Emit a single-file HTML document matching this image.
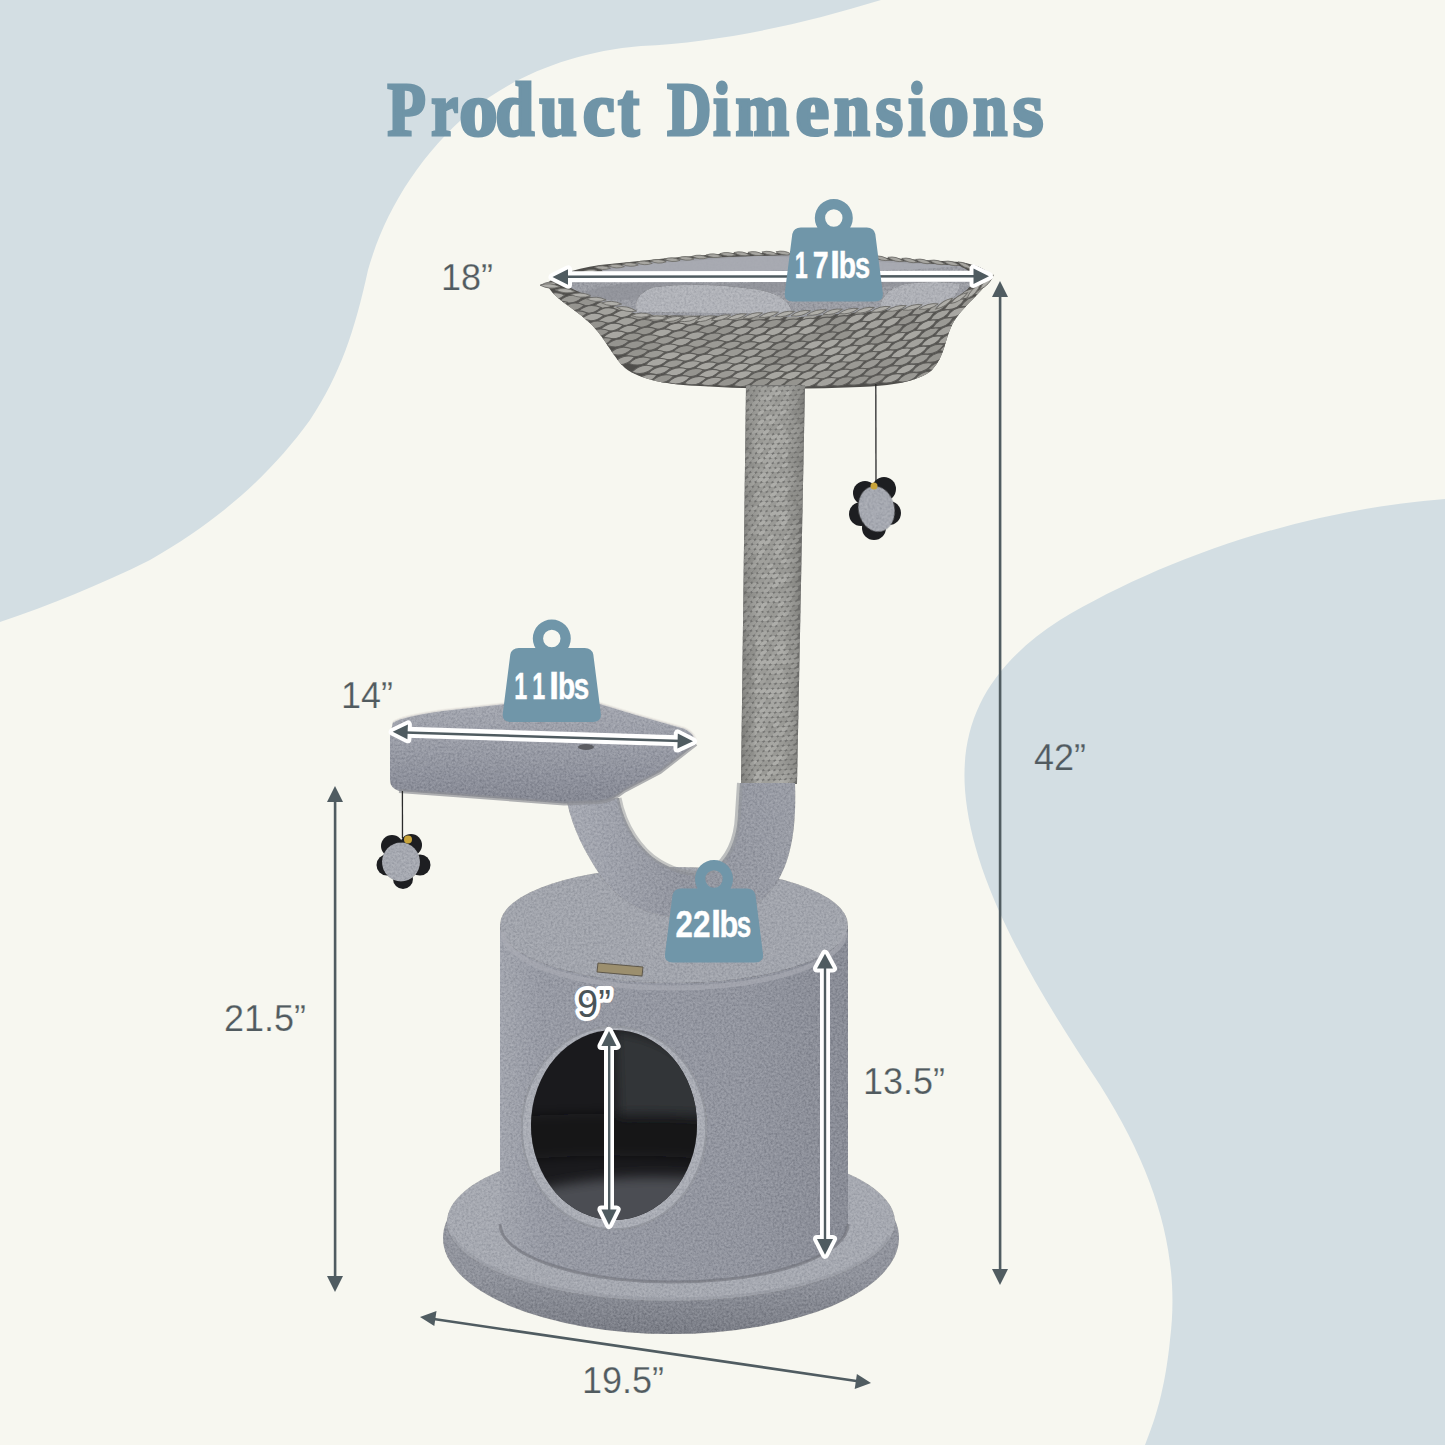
<!DOCTYPE html>
<html><head><meta charset="utf-8">
<style>
html,body{margin:0;padding:0;background:#f7f7f0;}
body{width:1445px;height:1445px;overflow:hidden;position:relative;}
svg{position:absolute;left:0;top:0;display:block;}
.dim{font-family:"Liberation Sans",sans-serif;font-size:36px;fill:#515b5f;stroke:#f7f7f0;stroke-width:0.25px;}
.wt{font-family:"Liberation Sans",sans-serif;font-weight:bold;font-size:36.5px;fill:#fff;stroke:#fff;stroke-width:0.4px;}
</style></head>
<body>
<svg width="1445" height="1445" viewBox="0 0 1445 1445">
<defs>
  <pattern id="weave" width="22" height="17" patternUnits="userSpaceOnUse" patternTransform="rotate(-3)">
    <rect width="22" height="17" fill="#63625f"/>
    <path d="M-1,6.5 Q9,-0.5 22,2.5 Q12,9 -1,6.5 Z" fill="#a9a8a3" stroke="#84837f" stroke-width="0.8"/>
    <path d="M-12,15 Q-2,8 11,11 Q1,17.5 -12,15 Z" fill="#a3a29d" stroke="#84837f" stroke-width="0.8"/>
    <path d="M10,15 Q20,8 33,11 Q23,17.5 10,15 Z" fill="#a3a29d" stroke="#84837f" stroke-width="0.8"/>
  </pattern>
  <pattern id="rope" width="8" height="5" patternUnits="userSpaceOnUse" patternTransform="rotate(-6)">
    <rect width="8" height="5" fill="#8e8e8b"/>
    <path d="M0,1.2 Q4,0 8,1.2 L8,3.4 Q4,2.2 0,3.4 Z" fill="#a7a7a3"/>
    <path d="M0,4.3 L8,4.3" stroke="#6f6f6c" stroke-width="0.9"/>
  </pattern>
  <filter id="plush" x="0" y="0" width="100%" height="100%" color-interpolation-filters="sRGB">
    <feTurbulence type="fractalNoise" baseFrequency="0.45" numOctaves="3" seed="5" result="n"/>
    <feColorMatrix in="n" type="matrix" values="0.45 0 0 0 0.275  0.45 0 0 0 0.275  0.45 0 0 0 0.275  0 0 0 0 1" result="g"/>
    <feBlend in="g" in2="SourceGraphic" mode="soft-light" result="b"/>
    <feComposite in="b" in2="SourceGraphic" operator="in"/>
  </filter>
  <linearGradient id="cylSide" x1="0" x2="1" y1="0" y2="0">
    <stop offset="0" stop-color="#a2a5ae"/>
    <stop offset="0.12" stop-color="#979aa4"/>
    <stop offset="0.7" stop-color="#92959f"/>
    <stop offset="1" stop-color="#898c96"/>
  </linearGradient>
  <linearGradient id="baseSide" x1="0" x2="0" y1="0" y2="1">
    <stop offset="0" stop-color="#9a9da6"/>
    <stop offset="0.7" stop-color="#90939c"/>
    <stop offset="1" stop-color="#7a7d86"/>
  </linearGradient>
  <linearGradient id="platG" x1="0" x2="0" y1="0" y2="1">
    <stop offset="0" stop-color="#a4a7b0"/>
    <stop offset="0.4" stop-color="#9a9da7"/>
    <stop offset="0.8" stop-color="#8c8f9a"/>
    <stop offset="1" stop-color="#858893"/>
  </linearGradient>
  <linearGradient id="ropeShadeL" x1="0" x2="1" y1="0" y2="0"><stop offset="0" stop-color="#5f5f5c" stop-opacity="0.45"/><stop offset="1" stop-color="#5f5f5c" stop-opacity="0"/></linearGradient>
  <linearGradient id="ropeShadeR" x1="0" x2="1" y1="0" y2="0"><stop offset="0" stop-color="#5f5f5c" stop-opacity="0"/><stop offset="1" stop-color="#5f5f5c" stop-opacity="0.45"/></linearGradient>
  <linearGradient id="stemG" x1="0" x2="1" y1="0" y2="0">
    <stop offset="0" stop-color="#a7aab3"/>
    <stop offset="0.5" stop-color="#92959f"/>
    <stop offset="1" stop-color="#9a9da6"/>
  </linearGradient>
  <radialGradient id="holeG" cx="0.55" cy="0.35" r="0.7">
    <stop offset="0" stop-color="#4a4b50"/>
    <stop offset="0.6" stop-color="#2c2d31"/>
    <stop offset="1" stop-color="#1f2024"/>
  </radialGradient>

  <path id="wshape" d="M19,0 A19,19 0 1 1 -19,0 A19,19 0 1 1 19,0 Z M8.7,0 A8.7,8.7 0 1 0 -8.7,0 A8.7,8.7 0 1 0 8.7,0 Z M-33,9.5 L33,9.5 Q40,9.5 41.5,16 L49,75 Q50,83.5 41,83.5 L-41,83.5 Q-50,83.5 -49,75 L-41.5,16 Q-40,9.5 -33,9.5 Z"/>
</defs>
<rect width="1445" height="1445" fill="#f7f7f0"/>
<!-- blobs -->
<path fill="#d3dee3" d="M0,0 L881,0 C800,25 720,42 641,46 C570,52 510,78 470,112 C420,155 385,210 368,270 C355,330 340,375 310,420 C270,475 220,520 150,560 C100,585 50,605 0,622 Z"/>
<path fill="#d3dee3" d="M1445,499 C1300,510 1160,560 1060,620 C990,665 960,720 965,790 C972,880 1030,980 1100,1085 C1160,1180 1180,1260 1170,1340 C1165,1390 1155,1420 1145,1445 L1445,1445 Z"/>
<!-- title -->
<g font-family="Liberation Serif" font-weight="bold" font-size="76" fill="#6f94a7" stroke="#6f94a7" stroke-width="3.2"><text transform="translate(387.41,135) scale(0.824,1)">P</text><text transform="translate(431.31,135) scale(0.797,1)">r</text><text transform="translate(459.17,135) scale(1.009,1)">o</text><text transform="translate(495.13,135) scale(0.922,1)">d</text><text transform="translate(539.53,135) scale(0.883,1)">u</text><text transform="translate(582.63,135) scale(0.949,1)">c</text><text transform="translate(617.99,135) scale(0.840,1)">t</text><text transform="translate(667.26,135) scale(0.804,1)">D</text><text transform="translate(713.37,135) scale(0.800,1)">i</text><text transform="translate(735.51,135) scale(0.845,1)">m</text><text transform="translate(795.41,135) scale(0.997,1)">e</text><text transform="translate(833.90,135) scale(0.849,1)">n</text><text transform="translate(875.45,135) scale(0.933,1)">s</text><text transform="translate(908.32,135) scale(0.800,1)">i</text><text transform="translate(928.62,135) scale(1.065,1)">o</text><text transform="translate(972.98,135) scale(0.811,1)">n</text><text transform="translate(1012.81,135) scale(1.039,1)">s</text></g>

<g id="tree">
  <!-- basket -->
  <clipPath id="bclip"><path d="M547,284 Q556,272 600,265 L669,258 L731,253 L800,253 L960,262 Q985,266 991,276 C984,292 962,306 952,325 C944,342 945,356 932,370 C918,382 890,386 860,387 Q780,391 700,386 C670,385 640,380 625,368 C612,356 608,342 592,325 C575,308 552,298 547,284 Z"/></clipPath>
  <path d="M547,284 Q556,272 600,265 L669,258 L731,253 L800,253 L960,262 Q985,266 991,276 C984,292 962,306 952,325 C944,342 945,356 932,370 C918,382 890,386 860,387 Q780,391 700,386 C670,385 640,380 625,368 C612,356 608,342 592,325 C575,308 552,298 547,284 Z" fill="#4e4d4a"/>
  <g clip-path="url(#bclip)">
  <path transform="translate(553.6,296.6) rotate(-8.2)" d="M-11.5,0 Q0,-7.5 11.5,0 Q0,7.5 -11.5,0 Z" fill="#a8a7a2" stroke="#5c5b58" stroke-width="1.1"/>
<path transform="translate(570.9,299.2) rotate(-8.3)" d="M-11.5,0 Q0,-7.5 11.5,0 Q0,7.5 -11.5,0 Z" fill="#9b9a95" stroke="#5c5b58" stroke-width="1.1"/>
<path transform="translate(588.1,301.8) rotate(-8.6)" d="M-11.5,0 Q0,-7.5 11.5,0 Q0,7.5 -11.5,0 Z" fill="#95948f" stroke="#5c5b58" stroke-width="1.1"/>
<path transform="translate(605.4,304.3) rotate(-8.9)" d="M-11.5,0 Q0,-7.5 11.5,0 Q0,7.5 -11.5,0 Z" fill="#a3a29d" stroke="#5c5b58" stroke-width="1.1"/>
<path transform="translate(622.6,306.7) rotate(-9.5)" d="M-11.5,0 Q0,-7.5 11.5,0 Q0,7.5 -11.5,0 Z" fill="#a3a29d" stroke="#5c5b58" stroke-width="1.1"/>
<path transform="translate(639.9,308.9) rotate(-10.1)" d="M-11.5,0 Q0,-7.5 11.5,0 Q0,7.5 -11.5,0 Z" fill="#a3a29d" stroke="#5c5b58" stroke-width="1.1"/>
<path transform="translate(657.2,310.9) rotate(-10.9)" d="M-11.5,0 Q0,-7.5 11.5,0 Q0,7.5 -11.5,0 Z" fill="#a8a7a2" stroke="#5c5b58" stroke-width="1.1"/>
<path transform="translate(674.4,312.7) rotate(-11.8)" d="M-11.5,0 Q0,-7.5 11.5,0 Q0,7.5 -11.5,0 Z" fill="#a3a29d" stroke="#5c5b58" stroke-width="1.1"/>
<path transform="translate(691.7,314.1) rotate(-12.8)" d="M-11.5,0 Q0,-7.5 11.5,0 Q0,7.5 -11.5,0 Z" fill="#9b9a95" stroke="#5c5b58" stroke-width="1.1"/>
<path transform="translate(708.9,315.3) rotate(-13.8)" d="M-11.5,0 Q0,-7.5 11.5,0 Q0,7.5 -11.5,0 Z" fill="#a3a29d" stroke="#5c5b58" stroke-width="1.1"/>
<path transform="translate(726.2,316.1) rotate(-15.0)" d="M-11.5,0 Q0,-7.5 11.5,0 Q0,7.5 -11.5,0 Z" fill="#a3a29d" stroke="#5c5b58" stroke-width="1.1"/>
<path transform="translate(743.5,316.6) rotate(-16.1)" d="M-11.5,0 Q0,-7.5 11.5,0 Q0,7.5 -11.5,0 Z" fill="#95948f" stroke="#5c5b58" stroke-width="1.1"/>
<path transform="translate(760.7,316.7) rotate(-17.3)" d="M-11.5,0 Q0,-7.5 11.5,0 Q0,7.5 -11.5,0 Z" fill="#95948f" stroke="#5c5b58" stroke-width="1.1"/>
<path transform="translate(778.0,316.5) rotate(-18.5)" d="M-11.5,0 Q0,-7.5 11.5,0 Q0,7.5 -11.5,0 Z" fill="#a3a29d" stroke="#5c5b58" stroke-width="1.1"/>
<path transform="translate(795.2,315.9) rotate(-19.7)" d="M-11.5,0 Q0,-7.5 11.5,0 Q0,7.5 -11.5,0 Z" fill="#9b9a95" stroke="#5c5b58" stroke-width="1.1"/>
<path transform="translate(812.5,315.0) rotate(-20.9)" d="M-11.5,0 Q0,-7.5 11.5,0 Q0,7.5 -11.5,0 Z" fill="#a3a29d" stroke="#5c5b58" stroke-width="1.1"/>
<path transform="translate(829.8,313.7) rotate(-22.0)" d="M-11.5,0 Q0,-7.5 11.5,0 Q0,7.5 -11.5,0 Z" fill="#95948f" stroke="#5c5b58" stroke-width="1.1"/>
<path transform="translate(847.0,312.0) rotate(-23.0)" d="M-11.5,0 Q0,-7.5 11.5,0 Q0,7.5 -11.5,0 Z" fill="#a3a29d" stroke="#5c5b58" stroke-width="1.1"/>
<path transform="translate(864.3,310.1) rotate(-24.0)" d="M-11.5,0 Q0,-7.5 11.5,0 Q0,7.5 -11.5,0 Z" fill="#a3a29d" stroke="#5c5b58" stroke-width="1.1"/>
<path transform="translate(881.5,307.9) rotate(-24.8)" d="M-11.5,0 Q0,-7.5 11.5,0 Q0,7.5 -11.5,0 Z" fill="#9b9a95" stroke="#5c5b58" stroke-width="1.1"/>
<path transform="translate(898.8,305.4) rotate(-25.6)" d="M-11.5,0 Q0,-7.5 11.5,0 Q0,7.5 -11.5,0 Z" fill="#a3a29d" stroke="#5c5b58" stroke-width="1.1"/>
<path transform="translate(916.1,302.7) rotate(-26.2)" d="M-11.5,0 Q0,-7.5 11.5,0 Q0,7.5 -11.5,0 Z" fill="#95948f" stroke="#5c5b58" stroke-width="1.1"/>
<path transform="translate(933.3,299.9) rotate(-26.7)" d="M-11.5,0 Q0,-7.5 11.5,0 Q0,7.5 -11.5,0 Z" fill="#a3a29d" stroke="#5c5b58" stroke-width="1.1"/>
<path transform="translate(950.6,296.9) rotate(-27.0)" d="M-11.5,0 Q0,-7.5 11.5,0 Q0,7.5 -11.5,0 Z" fill="#9b9a95" stroke="#5c5b58" stroke-width="1.1"/>
<path transform="translate(967.8,293.8) rotate(-27.2)" d="M-11.5,0 Q0,-7.5 11.5,0 Q0,7.5 -11.5,0 Z" fill="#a3a29d" stroke="#5c5b58" stroke-width="1.1"/>
<path transform="translate(985.1,290.7) rotate(-17.8)" d="M-11.5,0 Q0,-7.5 11.5,0 Q0,7.5 -11.5,0 Z" fill="#9b9a95" stroke="#5c5b58" stroke-width="1.1"/>
<path transform="translate(556.5,305.8) rotate(-17.8)" d="M-11.5,0 Q0,-7.5 11.5,0 Q0,7.5 -11.5,0 Z" fill="#a8a7a2" stroke="#5c5b58" stroke-width="1.1"/>
<path transform="translate(573.1,306.9) rotate(-8.7)" d="M-11.5,0 Q0,-7.5 11.5,0 Q0,7.5 -11.5,0 Z" fill="#95948f" stroke="#5c5b58" stroke-width="1.1"/>
<path transform="translate(589.7,309.3) rotate(-8.8)" d="M-11.5,0 Q0,-7.5 11.5,0 Q0,7.5 -11.5,0 Z" fill="#9b9a95" stroke="#5c5b58" stroke-width="1.1"/>
<path transform="translate(606.2,311.6) rotate(-9.1)" d="M-11.5,0 Q0,-7.5 11.5,0 Q0,7.5 -11.5,0 Z" fill="#a3a29d" stroke="#5c5b58" stroke-width="1.1"/>
<path transform="translate(622.8,313.9) rotate(-9.6)" d="M-11.5,0 Q0,-7.5 11.5,0 Q0,7.5 -11.5,0 Z" fill="#a8a7a2" stroke="#5c5b58" stroke-width="1.1"/>
<path transform="translate(639.4,316.0) rotate(-10.1)" d="M-11.5,0 Q0,-7.5 11.5,0 Q0,7.5 -11.5,0 Z" fill="#9b9a95" stroke="#5c5b58" stroke-width="1.1"/>
<path transform="translate(656.0,317.9) rotate(-10.8)" d="M-11.5,0 Q0,-7.5 11.5,0 Q0,7.5 -11.5,0 Z" fill="#a3a29d" stroke="#5c5b58" stroke-width="1.1"/>
<path transform="translate(672.6,319.6) rotate(-11.6)" d="M-11.5,0 Q0,-7.5 11.5,0 Q0,7.5 -11.5,0 Z" fill="#9b9a95" stroke="#5c5b58" stroke-width="1.1"/>
<path transform="translate(689.1,321.1) rotate(-12.5)" d="M-11.5,0 Q0,-7.5 11.5,0 Q0,7.5 -11.5,0 Z" fill="#a8a7a2" stroke="#5c5b58" stroke-width="1.1"/>
<path transform="translate(705.7,322.3) rotate(-13.5)" d="M-11.5,0 Q0,-7.5 11.5,0 Q0,7.5 -11.5,0 Z" fill="#a3a29d" stroke="#5c5b58" stroke-width="1.1"/>
<path transform="translate(722.3,323.2) rotate(-14.5)" d="M-11.5,0 Q0,-7.5 11.5,0 Q0,7.5 -11.5,0 Z" fill="#a3a29d" stroke="#5c5b58" stroke-width="1.1"/>
<path transform="translate(738.9,323.8) rotate(-15.6)" d="M-11.5,0 Q0,-7.5 11.5,0 Q0,7.5 -11.5,0 Z" fill="#a3a29d" stroke="#5c5b58" stroke-width="1.1"/>
<path transform="translate(755.5,324.1) rotate(-16.8)" d="M-11.5,0 Q0,-7.5 11.5,0 Q0,7.5 -11.5,0 Z" fill="#9b9a95" stroke="#5c5b58" stroke-width="1.1"/>
<path transform="translate(772.0,324.0) rotate(-17.9)" d="M-11.5,0 Q0,-7.5 11.5,0 Q0,7.5 -11.5,0 Z" fill="#95948f" stroke="#5c5b58" stroke-width="1.1"/>
<path transform="translate(788.6,323.6) rotate(-19.1)" d="M-11.5,0 Q0,-7.5 11.5,0 Q0,7.5 -11.5,0 Z" fill="#95948f" stroke="#5c5b58" stroke-width="1.1"/>
<path transform="translate(805.2,322.9) rotate(-20.2)" d="M-11.5,0 Q0,-7.5 11.5,0 Q0,7.5 -11.5,0 Z" fill="#a8a7a2" stroke="#5c5b58" stroke-width="1.1"/>
<path transform="translate(821.8,321.9) rotate(-21.3)" d="M-11.5,0 Q0,-7.5 11.5,0 Q0,7.5 -11.5,0 Z" fill="#95948f" stroke="#5c5b58" stroke-width="1.1"/>
<path transform="translate(838.4,320.5) rotate(-22.3)" d="M-11.5,0 Q0,-7.5 11.5,0 Q0,7.5 -11.5,0 Z" fill="#95948f" stroke="#5c5b58" stroke-width="1.1"/>
<path transform="translate(854.9,318.9) rotate(-23.3)" d="M-11.5,0 Q0,-7.5 11.5,0 Q0,7.5 -11.5,0 Z" fill="#a8a7a2" stroke="#5c5b58" stroke-width="1.1"/>
<path transform="translate(871.5,317.0) rotate(-24.1)" d="M-11.5,0 Q0,-7.5 11.5,0 Q0,7.5 -11.5,0 Z" fill="#a8a7a2" stroke="#5c5b58" stroke-width="1.1"/>
<path transform="translate(888.1,314.8) rotate(-24.9)" d="M-11.5,0 Q0,-7.5 11.5,0 Q0,7.5 -11.5,0 Z" fill="#9b9a95" stroke="#5c5b58" stroke-width="1.1"/>
<path transform="translate(904.7,312.4) rotate(-25.5)" d="M-11.5,0 Q0,-7.5 11.5,0 Q0,7.5 -11.5,0 Z" fill="#9b9a95" stroke="#5c5b58" stroke-width="1.1"/>
<path transform="translate(921.3,309.9) rotate(-26.1)" d="M-11.5,0 Q0,-7.5 11.5,0 Q0,7.5 -11.5,0 Z" fill="#9b9a95" stroke="#5c5b58" stroke-width="1.1"/>
<path transform="translate(937.8,307.2) rotate(-26.5)" d="M-11.5,0 Q0,-7.5 11.5,0 Q0,7.5 -11.5,0 Z" fill="#a3a29d" stroke="#5c5b58" stroke-width="1.1"/>
<path transform="translate(954.4,304.4) rotate(-26.7)" d="M-11.5,0 Q0,-7.5 11.5,0 Q0,7.5 -11.5,0 Z" fill="#a8a7a2" stroke="#5c5b58" stroke-width="1.1"/>
<path transform="translate(971.0,301.5) rotate(-26.8)" d="M-11.5,0 Q0,-7.5 11.5,0 Q0,7.5 -11.5,0 Z" fill="#95948f" stroke="#5c5b58" stroke-width="1.1"/>
<path transform="translate(987.6,300.0) rotate(-17.8)" d="M-11.5,0 Q0,-7.5 11.5,0 Q0,7.5 -11.5,0 Z" fill="#a8a7a2" stroke="#5c5b58" stroke-width="1.1"/>
<path transform="translate(576.0,314.8) rotate(-9.1)" d="M-11.5,0 Q0,-7.5 11.5,0 Q0,7.5 -11.5,0 Z" fill="#95948f" stroke="#5c5b58" stroke-width="1.1"/>
<path transform="translate(592.6,317.0) rotate(-9.2)" d="M-11.5,0 Q0,-7.5 11.5,0 Q0,7.5 -11.5,0 Z" fill="#a8a7a2" stroke="#5c5b58" stroke-width="1.1"/>
<path transform="translate(609.1,319.3) rotate(-9.4)" d="M-11.5,0 Q0,-7.5 11.5,0 Q0,7.5 -11.5,0 Z" fill="#a3a29d" stroke="#5c5b58" stroke-width="1.1"/>
<path transform="translate(625.7,321.5) rotate(-9.8)" d="M-11.5,0 Q0,-7.5 11.5,0 Q0,7.5 -11.5,0 Z" fill="#a3a29d" stroke="#5c5b58" stroke-width="1.1"/>
<path transform="translate(642.2,323.5) rotate(-10.3)" d="M-11.5,0 Q0,-7.5 11.5,0 Q0,7.5 -11.5,0 Z" fill="#95948f" stroke="#5c5b58" stroke-width="1.1"/>
<path transform="translate(658.8,325.4) rotate(-10.9)" d="M-11.5,0 Q0,-7.5 11.5,0 Q0,7.5 -11.5,0 Z" fill="#9b9a95" stroke="#5c5b58" stroke-width="1.1"/>
<path transform="translate(675.4,327.0) rotate(-11.7)" d="M-11.5,0 Q0,-7.5 11.5,0 Q0,7.5 -11.5,0 Z" fill="#a8a7a2" stroke="#5c5b58" stroke-width="1.1"/>
<path transform="translate(691.9,328.5) rotate(-12.6)" d="M-11.5,0 Q0,-7.5 11.5,0 Q0,7.5 -11.5,0 Z" fill="#9b9a95" stroke="#5c5b58" stroke-width="1.1"/>
<path transform="translate(708.5,329.7) rotate(-13.5)" d="M-11.5,0 Q0,-7.5 11.5,0 Q0,7.5 -11.5,0 Z" fill="#95948f" stroke="#5c5b58" stroke-width="1.1"/>
<path transform="translate(725.1,330.6) rotate(-14.5)" d="M-11.5,0 Q0,-7.5 11.5,0 Q0,7.5 -11.5,0 Z" fill="#95948f" stroke="#5c5b58" stroke-width="1.1"/>
<path transform="translate(741.6,331.2) rotate(-15.6)" d="M-11.5,0 Q0,-7.5 11.5,0 Q0,7.5 -11.5,0 Z" fill="#a3a29d" stroke="#5c5b58" stroke-width="1.1"/>
<path transform="translate(758.2,331.4) rotate(-16.8)" d="M-11.5,0 Q0,-7.5 11.5,0 Q0,7.5 -11.5,0 Z" fill="#a3a29d" stroke="#5c5b58" stroke-width="1.1"/>
<path transform="translate(774.8,331.4) rotate(-17.9)" d="M-11.5,0 Q0,-7.5 11.5,0 Q0,7.5 -11.5,0 Z" fill="#a8a7a2" stroke="#5c5b58" stroke-width="1.1"/>
<path transform="translate(791.3,331.0) rotate(-19.0)" d="M-11.5,0 Q0,-7.5 11.5,0 Q0,7.5 -11.5,0 Z" fill="#a8a7a2" stroke="#5c5b58" stroke-width="1.1"/>
<path transform="translate(807.9,330.3) rotate(-20.1)" d="M-11.5,0 Q0,-7.5 11.5,0 Q0,7.5 -11.5,0 Z" fill="#a8a7a2" stroke="#5c5b58" stroke-width="1.1"/>
<path transform="translate(824.4,329.3) rotate(-21.2)" d="M-11.5,0 Q0,-7.5 11.5,0 Q0,7.5 -11.5,0 Z" fill="#95948f" stroke="#5c5b58" stroke-width="1.1"/>
<path transform="translate(841.0,327.9) rotate(-22.2)" d="M-11.5,0 Q0,-7.5 11.5,0 Q0,7.5 -11.5,0 Z" fill="#95948f" stroke="#5c5b58" stroke-width="1.1"/>
<path transform="translate(857.6,326.3) rotate(-23.1)" d="M-11.5,0 Q0,-7.5 11.5,0 Q0,7.5 -11.5,0 Z" fill="#a3a29d" stroke="#5c5b58" stroke-width="1.1"/>
<path transform="translate(874.1,324.4) rotate(-24.0)" d="M-11.5,0 Q0,-7.5 11.5,0 Q0,7.5 -11.5,0 Z" fill="#a3a29d" stroke="#5c5b58" stroke-width="1.1"/>
<path transform="translate(890.7,322.3) rotate(-24.7)" d="M-11.5,0 Q0,-7.5 11.5,0 Q0,7.5 -11.5,0 Z" fill="#a8a7a2" stroke="#5c5b58" stroke-width="1.1"/>
<path transform="translate(907.2,320.0) rotate(-25.3)" d="M-11.5,0 Q0,-7.5 11.5,0 Q0,7.5 -11.5,0 Z" fill="#95948f" stroke="#5c5b58" stroke-width="1.1"/>
<path transform="translate(923.8,317.5) rotate(-25.8)" d="M-11.5,0 Q0,-7.5 11.5,0 Q0,7.5 -11.5,0 Z" fill="#a3a29d" stroke="#5c5b58" stroke-width="1.1"/>
<path transform="translate(940.4,314.9) rotate(-26.1)" d="M-11.5,0 Q0,-7.5 11.5,0 Q0,7.5 -11.5,0 Z" fill="#a3a29d" stroke="#5c5b58" stroke-width="1.1"/>
<path transform="translate(956.9,312.2) rotate(-26.3)" d="M-11.5,0 Q0,-7.5 11.5,0 Q0,7.5 -11.5,0 Z" fill="#a8a7a2" stroke="#5c5b58" stroke-width="1.1"/>
<path transform="translate(973.5,309.5) rotate(-17.8)" d="M-11.5,0 Q0,-7.5 11.5,0 Q0,7.5 -11.5,0 Z" fill="#95948f" stroke="#5c5b58" stroke-width="1.1"/>
<path transform="translate(578.9,324.0) rotate(-17.7)" d="M-11.5,0 Q0,-7.5 11.5,0 Q0,7.5 -11.5,0 Z" fill="#a8a7a2" stroke="#5c5b58" stroke-width="1.1"/>
<path transform="translate(595.5,324.9) rotate(-9.6)" d="M-11.5,0 Q0,-7.5 11.5,0 Q0,7.5 -11.5,0 Z" fill="#95948f" stroke="#5c5b58" stroke-width="1.1"/>
<path transform="translate(612.0,327.1) rotate(-9.8)" d="M-11.5,0 Q0,-7.5 11.5,0 Q0,7.5 -11.5,0 Z" fill="#a8a7a2" stroke="#5c5b58" stroke-width="1.1"/>
<path transform="translate(628.6,329.1) rotate(-10.1)" d="M-11.5,0 Q0,-7.5 11.5,0 Q0,7.5 -11.5,0 Z" fill="#a3a29d" stroke="#5c5b58" stroke-width="1.1"/>
<path transform="translate(645.1,331.1) rotate(-10.5)" d="M-11.5,0 Q0,-7.5 11.5,0 Q0,7.5 -11.5,0 Z" fill="#95948f" stroke="#5c5b58" stroke-width="1.1"/>
<path transform="translate(661.6,332.9) rotate(-11.1)" d="M-11.5,0 Q0,-7.5 11.5,0 Q0,7.5 -11.5,0 Z" fill="#a8a7a2" stroke="#5c5b58" stroke-width="1.1"/>
<path transform="translate(678.2,334.5) rotate(-11.8)" d="M-11.5,0 Q0,-7.5 11.5,0 Q0,7.5 -11.5,0 Z" fill="#9b9a95" stroke="#5c5b58" stroke-width="1.1"/>
<path transform="translate(694.7,335.9) rotate(-12.7)" d="M-11.5,0 Q0,-7.5 11.5,0 Q0,7.5 -11.5,0 Z" fill="#a3a29d" stroke="#5c5b58" stroke-width="1.1"/>
<path transform="translate(711.3,337.1) rotate(-13.6)" d="M-11.5,0 Q0,-7.5 11.5,0 Q0,7.5 -11.5,0 Z" fill="#95948f" stroke="#5c5b58" stroke-width="1.1"/>
<path transform="translate(727.8,337.9) rotate(-14.6)" d="M-11.5,0 Q0,-7.5 11.5,0 Q0,7.5 -11.5,0 Z" fill="#a3a29d" stroke="#5c5b58" stroke-width="1.1"/>
<path transform="translate(744.4,338.5) rotate(-15.7)" d="M-11.5,0 Q0,-7.5 11.5,0 Q0,7.5 -11.5,0 Z" fill="#9b9a95" stroke="#5c5b58" stroke-width="1.1"/>
<path transform="translate(760.9,338.8) rotate(-16.8)" d="M-11.5,0 Q0,-7.5 11.5,0 Q0,7.5 -11.5,0 Z" fill="#a8a7a2" stroke="#5c5b58" stroke-width="1.1"/>
<path transform="translate(777.5,338.7) rotate(-17.9)" d="M-11.5,0 Q0,-7.5 11.5,0 Q0,7.5 -11.5,0 Z" fill="#9b9a95" stroke="#5c5b58" stroke-width="1.1"/>
<path transform="translate(794.0,338.3) rotate(-19.0)" d="M-11.5,0 Q0,-7.5 11.5,0 Q0,7.5 -11.5,0 Z" fill="#9b9a95" stroke="#5c5b58" stroke-width="1.1"/>
<path transform="translate(810.5,337.7) rotate(-20.1)" d="M-11.5,0 Q0,-7.5 11.5,0 Q0,7.5 -11.5,0 Z" fill="#95948f" stroke="#5c5b58" stroke-width="1.1"/>
<path transform="translate(827.1,336.6) rotate(-21.1)" d="M-11.5,0 Q0,-7.5 11.5,0 Q0,7.5 -11.5,0 Z" fill="#95948f" stroke="#5c5b58" stroke-width="1.1"/>
<path transform="translate(843.6,335.3) rotate(-22.1)" d="M-11.5,0 Q0,-7.5 11.5,0 Q0,7.5 -11.5,0 Z" fill="#95948f" stroke="#5c5b58" stroke-width="1.1"/>
<path transform="translate(860.2,333.8) rotate(-23.0)" d="M-11.5,0 Q0,-7.5 11.5,0 Q0,7.5 -11.5,0 Z" fill="#a3a29d" stroke="#5c5b58" stroke-width="1.1"/>
<path transform="translate(876.7,331.9) rotate(-23.8)" d="M-11.5,0 Q0,-7.5 11.5,0 Q0,7.5 -11.5,0 Z" fill="#9b9a95" stroke="#5c5b58" stroke-width="1.1"/>
<path transform="translate(893.3,329.9) rotate(-24.5)" d="M-11.5,0 Q0,-7.5 11.5,0 Q0,7.5 -11.5,0 Z" fill="#95948f" stroke="#5c5b58" stroke-width="1.1"/>
<path transform="translate(909.8,327.6) rotate(-25.0)" d="M-11.5,0 Q0,-7.5 11.5,0 Q0,7.5 -11.5,0 Z" fill="#95948f" stroke="#5c5b58" stroke-width="1.1"/>
<path transform="translate(926.3,325.2) rotate(-25.5)" d="M-11.5,0 Q0,-7.5 11.5,0 Q0,7.5 -11.5,0 Z" fill="#a8a7a2" stroke="#5c5b58" stroke-width="1.1"/>
<path transform="translate(942.9,322.8) rotate(-25.7)" d="M-11.5,0 Q0,-7.5 11.5,0 Q0,7.5 -11.5,0 Z" fill="#9b9a95" stroke="#5c5b58" stroke-width="1.1"/>
<path transform="translate(959.4,320.2) rotate(-25.9)" d="M-11.5,0 Q0,-7.5 11.5,0 Q0,7.5 -11.5,0 Z" fill="#95948f" stroke="#5c5b58" stroke-width="1.1"/>
<path transform="translate(976.0,318.8) rotate(-17.7)" d="M-11.5,0 Q0,-7.5 11.5,0 Q0,7.5 -11.5,0 Z" fill="#a8a7a2" stroke="#5c5b58" stroke-width="1.1"/>
<path transform="translate(598.4,332.9) rotate(-10.1)" d="M-11.5,0 Q0,-7.5 11.5,0 Q0,7.5 -11.5,0 Z" fill="#95948f" stroke="#5c5b58" stroke-width="1.1"/>
<path transform="translate(614.9,334.9) rotate(-10.2)" d="M-11.5,0 Q0,-7.5 11.5,0 Q0,7.5 -11.5,0 Z" fill="#a8a7a2" stroke="#5c5b58" stroke-width="1.1"/>
<path transform="translate(631.4,336.9) rotate(-10.5)" d="M-11.5,0 Q0,-7.5 11.5,0 Q0,7.5 -11.5,0 Z" fill="#95948f" stroke="#5c5b58" stroke-width="1.1"/>
<path transform="translate(648.0,338.7) rotate(-10.8)" d="M-11.5,0 Q0,-7.5 11.5,0 Q0,7.5 -11.5,0 Z" fill="#9b9a95" stroke="#5c5b58" stroke-width="1.1"/>
<path transform="translate(664.5,340.5) rotate(-11.4)" d="M-11.5,0 Q0,-7.5 11.5,0 Q0,7.5 -11.5,0 Z" fill="#9b9a95" stroke="#5c5b58" stroke-width="1.1"/>
<path transform="translate(681.0,342.0) rotate(-12.0)" d="M-11.5,0 Q0,-7.5 11.5,0 Q0,7.5 -11.5,0 Z" fill="#a3a29d" stroke="#5c5b58" stroke-width="1.1"/>
<path transform="translate(697.5,343.4) rotate(-12.8)" d="M-11.5,0 Q0,-7.5 11.5,0 Q0,7.5 -11.5,0 Z" fill="#9b9a95" stroke="#5c5b58" stroke-width="1.1"/>
<path transform="translate(714.1,344.5) rotate(-13.7)" d="M-11.5,0 Q0,-7.5 11.5,0 Q0,7.5 -11.5,0 Z" fill="#9b9a95" stroke="#5c5b58" stroke-width="1.1"/>
<path transform="translate(730.6,345.3) rotate(-14.7)" d="M-11.5,0 Q0,-7.5 11.5,0 Q0,7.5 -11.5,0 Z" fill="#9b9a95" stroke="#5c5b58" stroke-width="1.1"/>
<path transform="translate(747.1,345.9) rotate(-15.7)" d="M-11.5,0 Q0,-7.5 11.5,0 Q0,7.5 -11.5,0 Z" fill="#9b9a95" stroke="#5c5b58" stroke-width="1.1"/>
<path transform="translate(763.6,346.1) rotate(-16.8)" d="M-11.5,0 Q0,-7.5 11.5,0 Q0,7.5 -11.5,0 Z" fill="#a3a29d" stroke="#5c5b58" stroke-width="1.1"/>
<path transform="translate(780.1,346.1) rotate(-17.9)" d="M-11.5,0 Q0,-7.5 11.5,0 Q0,7.5 -11.5,0 Z" fill="#95948f" stroke="#5c5b58" stroke-width="1.1"/>
<path transform="translate(796.7,345.7) rotate(-18.9)" d="M-11.5,0 Q0,-7.5 11.5,0 Q0,7.5 -11.5,0 Z" fill="#9b9a95" stroke="#5c5b58" stroke-width="1.1"/>
<path transform="translate(813.2,345.0) rotate(-20.0)" d="M-11.5,0 Q0,-7.5 11.5,0 Q0,7.5 -11.5,0 Z" fill="#a8a7a2" stroke="#5c5b58" stroke-width="1.1"/>
<path transform="translate(829.7,344.0) rotate(-21.0)" d="M-11.5,0 Q0,-7.5 11.5,0 Q0,7.5 -11.5,0 Z" fill="#a8a7a2" stroke="#5c5b58" stroke-width="1.1"/>
<path transform="translate(846.2,342.8) rotate(-22.0)" d="M-11.5,0 Q0,-7.5 11.5,0 Q0,7.5 -11.5,0 Z" fill="#a3a29d" stroke="#5c5b58" stroke-width="1.1"/>
<path transform="translate(862.8,341.2) rotate(-22.8)" d="M-11.5,0 Q0,-7.5 11.5,0 Q0,7.5 -11.5,0 Z" fill="#9b9a95" stroke="#5c5b58" stroke-width="1.1"/>
<path transform="translate(879.3,339.5) rotate(-23.6)" d="M-11.5,0 Q0,-7.5 11.5,0 Q0,7.5 -11.5,0 Z" fill="#95948f" stroke="#5c5b58" stroke-width="1.1"/>
<path transform="translate(895.8,337.5) rotate(-24.2)" d="M-11.5,0 Q0,-7.5 11.5,0 Q0,7.5 -11.5,0 Z" fill="#a8a7a2" stroke="#5c5b58" stroke-width="1.1"/>
<path transform="translate(912.3,335.4) rotate(-24.7)" d="M-11.5,0 Q0,-7.5 11.5,0 Q0,7.5 -11.5,0 Z" fill="#a8a7a2" stroke="#5c5b58" stroke-width="1.1"/>
<path transform="translate(928.9,333.1) rotate(-25.1)" d="M-11.5,0 Q0,-7.5 11.5,0 Q0,7.5 -11.5,0 Z" fill="#9b9a95" stroke="#5c5b58" stroke-width="1.1"/>
<path transform="translate(945.4,330.7) rotate(-25.3)" d="M-11.5,0 Q0,-7.5 11.5,0 Q0,7.5 -11.5,0 Z" fill="#a3a29d" stroke="#5c5b58" stroke-width="1.1"/>
<path transform="translate(961.9,328.3) rotate(-17.7)" d="M-11.5,0 Q0,-7.5 11.5,0 Q0,7.5 -11.5,0 Z" fill="#95948f" stroke="#5c5b58" stroke-width="1.1"/>
<path transform="translate(601.4,342.2) rotate(-17.7)" d="M-11.5,0 Q0,-7.5 11.5,0 Q0,7.5 -11.5,0 Z" fill="#95948f" stroke="#5c5b58" stroke-width="1.1"/>
<path transform="translate(617.9,343.0) rotate(-10.7)" d="M-11.5,0 Q0,-7.5 11.5,0 Q0,7.5 -11.5,0 Z" fill="#95948f" stroke="#5c5b58" stroke-width="1.1"/>
<path transform="translate(634.4,344.8) rotate(-10.9)" d="M-11.5,0 Q0,-7.5 11.5,0 Q0,7.5 -11.5,0 Z" fill="#95948f" stroke="#5c5b58" stroke-width="1.1"/>
<path transform="translate(650.9,346.5) rotate(-11.2)" d="M-11.5,0 Q0,-7.5 11.5,0 Q0,7.5 -11.5,0 Z" fill="#95948f" stroke="#5c5b58" stroke-width="1.1"/>
<path transform="translate(667.4,348.1) rotate(-11.7)" d="M-11.5,0 Q0,-7.5 11.5,0 Q0,7.5 -11.5,0 Z" fill="#a3a29d" stroke="#5c5b58" stroke-width="1.1"/>
<path transform="translate(683.9,349.6) rotate(-12.3)" d="M-11.5,0 Q0,-7.5 11.5,0 Q0,7.5 -11.5,0 Z" fill="#95948f" stroke="#5c5b58" stroke-width="1.1"/>
<path transform="translate(700.4,350.8) rotate(-13.0)" d="M-11.5,0 Q0,-7.5 11.5,0 Q0,7.5 -11.5,0 Z" fill="#95948f" stroke="#5c5b58" stroke-width="1.1"/>
<path transform="translate(716.9,351.9) rotate(-13.8)" d="M-11.5,0 Q0,-7.5 11.5,0 Q0,7.5 -11.5,0 Z" fill="#a3a29d" stroke="#5c5b58" stroke-width="1.1"/>
<path transform="translate(733.4,352.7) rotate(-14.8)" d="M-11.5,0 Q0,-7.5 11.5,0 Q0,7.5 -11.5,0 Z" fill="#9b9a95" stroke="#5c5b58" stroke-width="1.1"/>
<path transform="translate(749.9,353.2) rotate(-15.8)" d="M-11.5,0 Q0,-7.5 11.5,0 Q0,7.5 -11.5,0 Z" fill="#a3a29d" stroke="#5c5b58" stroke-width="1.1"/>
<path transform="translate(766.4,353.5) rotate(-16.8)" d="M-11.5,0 Q0,-7.5 11.5,0 Q0,7.5 -11.5,0 Z" fill="#9b9a95" stroke="#5c5b58" stroke-width="1.1"/>
<path transform="translate(782.9,353.4) rotate(-17.8)" d="M-11.5,0 Q0,-7.5 11.5,0 Q0,7.5 -11.5,0 Z" fill="#95948f" stroke="#5c5b58" stroke-width="1.1"/>
<path transform="translate(799.4,353.1) rotate(-18.9)" d="M-11.5,0 Q0,-7.5 11.5,0 Q0,7.5 -11.5,0 Z" fill="#9b9a95" stroke="#5c5b58" stroke-width="1.1"/>
<path transform="translate(815.9,352.4) rotate(-19.9)" d="M-11.5,0 Q0,-7.5 11.5,0 Q0,7.5 -11.5,0 Z" fill="#a3a29d" stroke="#5c5b58" stroke-width="1.1"/>
<path transform="translate(832.4,351.5) rotate(-20.9)" d="M-11.5,0 Q0,-7.5 11.5,0 Q0,7.5 -11.5,0 Z" fill="#a8a7a2" stroke="#5c5b58" stroke-width="1.1"/>
<path transform="translate(848.9,350.2) rotate(-21.8)" d="M-11.5,0 Q0,-7.5 11.5,0 Q0,7.5 -11.5,0 Z" fill="#a3a29d" stroke="#5c5b58" stroke-width="1.1"/>
<path transform="translate(865.4,348.8) rotate(-22.6)" d="M-11.5,0 Q0,-7.5 11.5,0 Q0,7.5 -11.5,0 Z" fill="#a3a29d" stroke="#5c5b58" stroke-width="1.1"/>
<path transform="translate(881.9,347.1) rotate(-23.3)" d="M-11.5,0 Q0,-7.5 11.5,0 Q0,7.5 -11.5,0 Z" fill="#a3a29d" stroke="#5c5b58" stroke-width="1.1"/>
<path transform="translate(898.4,345.2) rotate(-23.8)" d="M-11.5,0 Q0,-7.5 11.5,0 Q0,7.5 -11.5,0 Z" fill="#9b9a95" stroke="#5c5b58" stroke-width="1.1"/>
<path transform="translate(914.9,343.2) rotate(-24.3)" d="M-11.5,0 Q0,-7.5 11.5,0 Q0,7.5 -11.5,0 Z" fill="#a3a29d" stroke="#5c5b58" stroke-width="1.1"/>
<path transform="translate(931.4,341.0) rotate(-24.6)" d="M-11.5,0 Q0,-7.5 11.5,0 Q0,7.5 -11.5,0 Z" fill="#a8a7a2" stroke="#5c5b58" stroke-width="1.1"/>
<path transform="translate(947.9,338.8) rotate(-24.7)" d="M-11.5,0 Q0,-7.5 11.5,0 Q0,7.5 -11.5,0 Z" fill="#a3a29d" stroke="#5c5b58" stroke-width="1.1"/>
<path transform="translate(964.3,337.6) rotate(-17.7)" d="M-11.5,0 Q0,-7.5 11.5,0 Q0,7.5 -11.5,0 Z" fill="#a3a29d" stroke="#5c5b58" stroke-width="1.1"/>
<path transform="translate(620.8,351.1) rotate(-11.4)" d="M-11.5,0 Q0,-7.5 11.5,0 Q0,7.5 -11.5,0 Z" fill="#9b9a95" stroke="#5c5b58" stroke-width="1.1"/>
<path transform="translate(637.3,352.8) rotate(-11.5)" d="M-11.5,0 Q0,-7.5 11.5,0 Q0,7.5 -11.5,0 Z" fill="#95948f" stroke="#5c5b58" stroke-width="1.1"/>
<path transform="translate(653.8,354.3) rotate(-11.7)" d="M-11.5,0 Q0,-7.5 11.5,0 Q0,7.5 -11.5,0 Z" fill="#9b9a95" stroke="#5c5b58" stroke-width="1.1"/>
<path transform="translate(670.2,355.8) rotate(-12.1)" d="M-11.5,0 Q0,-7.5 11.5,0 Q0,7.5 -11.5,0 Z" fill="#a8a7a2" stroke="#5c5b58" stroke-width="1.1"/>
<path transform="translate(686.7,357.2) rotate(-12.6)" d="M-11.5,0 Q0,-7.5 11.5,0 Q0,7.5 -11.5,0 Z" fill="#a8a7a2" stroke="#5c5b58" stroke-width="1.1"/>
<path transform="translate(703.2,358.4) rotate(-13.3)" d="M-11.5,0 Q0,-7.5 11.5,0 Q0,7.5 -11.5,0 Z" fill="#a8a7a2" stroke="#5c5b58" stroke-width="1.1"/>
<path transform="translate(719.6,359.4) rotate(-14.0)" d="M-11.5,0 Q0,-7.5 11.5,0 Q0,7.5 -11.5,0 Z" fill="#95948f" stroke="#5c5b58" stroke-width="1.1"/>
<path transform="translate(736.1,360.1) rotate(-14.9)" d="M-11.5,0 Q0,-7.5 11.5,0 Q0,7.5 -11.5,0 Z" fill="#a3a29d" stroke="#5c5b58" stroke-width="1.1"/>
<path transform="translate(752.6,360.6) rotate(-15.8)" d="M-11.5,0 Q0,-7.5 11.5,0 Q0,7.5 -11.5,0 Z" fill="#a3a29d" stroke="#5c5b58" stroke-width="1.1"/>
<path transform="translate(769.1,360.8) rotate(-16.8)" d="M-11.5,0 Q0,-7.5 11.5,0 Q0,7.5 -11.5,0 Z" fill="#95948f" stroke="#5c5b58" stroke-width="1.1"/>
<path transform="translate(785.5,360.8) rotate(-17.8)" d="M-11.5,0 Q0,-7.5 11.5,0 Q0,7.5 -11.5,0 Z" fill="#95948f" stroke="#5c5b58" stroke-width="1.1"/>
<path transform="translate(802.0,360.4) rotate(-18.8)" d="M-11.5,0 Q0,-7.5 11.5,0 Q0,7.5 -11.5,0 Z" fill="#95948f" stroke="#5c5b58" stroke-width="1.1"/>
<path transform="translate(818.5,359.8) rotate(-19.8)" d="M-11.5,0 Q0,-7.5 11.5,0 Q0,7.5 -11.5,0 Z" fill="#95948f" stroke="#5c5b58" stroke-width="1.1"/>
<path transform="translate(835.0,358.9) rotate(-20.7)" d="M-11.5,0 Q0,-7.5 11.5,0 Q0,7.5 -11.5,0 Z" fill="#a8a7a2" stroke="#5c5b58" stroke-width="1.1"/>
<path transform="translate(851.4,357.7) rotate(-21.5)" d="M-11.5,0 Q0,-7.5 11.5,0 Q0,7.5 -11.5,0 Z" fill="#a3a29d" stroke="#5c5b58" stroke-width="1.1"/>
<path transform="translate(867.9,356.4) rotate(-22.3)" d="M-11.5,0 Q0,-7.5 11.5,0 Q0,7.5 -11.5,0 Z" fill="#9b9a95" stroke="#5c5b58" stroke-width="1.1"/>
<path transform="translate(884.4,354.8) rotate(-22.9)" d="M-11.5,0 Q0,-7.5 11.5,0 Q0,7.5 -11.5,0 Z" fill="#a3a29d" stroke="#5c5b58" stroke-width="1.1"/>
<path transform="translate(900.9,353.0) rotate(-23.4)" d="M-11.5,0 Q0,-7.5 11.5,0 Q0,7.5 -11.5,0 Z" fill="#a8a7a2" stroke="#5c5b58" stroke-width="1.1"/>
<path transform="translate(917.3,351.1) rotate(-23.8)" d="M-11.5,0 Q0,-7.5 11.5,0 Q0,7.5 -11.5,0 Z" fill="#a8a7a2" stroke="#5c5b58" stroke-width="1.1"/>
<path transform="translate(933.8,349.1) rotate(-24.0)" d="M-11.5,0 Q0,-7.5 11.5,0 Q0,7.5 -11.5,0 Z" fill="#95948f" stroke="#5c5b58" stroke-width="1.1"/>
<path transform="translate(950.3,347.1) rotate(-17.7)" d="M-11.5,0 Q0,-7.5 11.5,0 Q0,7.5 -11.5,0 Z" fill="#9b9a95" stroke="#5c5b58" stroke-width="1.1"/>
<path transform="translate(623.8,360.3) rotate(-17.7)" d="M-11.5,0 Q0,-7.5 11.5,0 Q0,7.5 -11.5,0 Z" fill="#a3a29d" stroke="#5c5b58" stroke-width="1.1"/>
<path transform="translate(640.2,361.0) rotate(-12.1)" d="M-11.5,0 Q0,-7.5 11.5,0 Q0,7.5 -11.5,0 Z" fill="#9b9a95" stroke="#5c5b58" stroke-width="1.1"/>
<path transform="translate(656.7,362.3) rotate(-12.3)" d="M-11.5,0 Q0,-7.5 11.5,0 Q0,7.5 -11.5,0 Z" fill="#a8a7a2" stroke="#5c5b58" stroke-width="1.1"/>
<path transform="translate(673.1,363.7) rotate(-12.6)" d="M-11.5,0 Q0,-7.5 11.5,0 Q0,7.5 -11.5,0 Z" fill="#9b9a95" stroke="#5c5b58" stroke-width="1.1"/>
<path transform="translate(689.6,364.9) rotate(-13.0)" d="M-11.5,0 Q0,-7.5 11.5,0 Q0,7.5 -11.5,0 Z" fill="#a3a29d" stroke="#5c5b58" stroke-width="1.1"/>
<path transform="translate(706.0,366.0) rotate(-13.6)" d="M-11.5,0 Q0,-7.5 11.5,0 Q0,7.5 -11.5,0 Z" fill="#a8a7a2" stroke="#5c5b58" stroke-width="1.1"/>
<path transform="translate(722.5,366.9) rotate(-14.3)" d="M-11.5,0 Q0,-7.5 11.5,0 Q0,7.5 -11.5,0 Z" fill="#a3a29d" stroke="#5c5b58" stroke-width="1.1"/>
<path transform="translate(738.9,367.5) rotate(-15.1)" d="M-11.5,0 Q0,-7.5 11.5,0 Q0,7.5 -11.5,0 Z" fill="#a8a7a2" stroke="#5c5b58" stroke-width="1.1"/>
<path transform="translate(755.4,368.0) rotate(-15.9)" d="M-11.5,0 Q0,-7.5 11.5,0 Q0,7.5 -11.5,0 Z" fill="#a8a7a2" stroke="#5c5b58" stroke-width="1.1"/>
<path transform="translate(771.8,368.2) rotate(-16.9)" d="M-11.5,0 Q0,-7.5 11.5,0 Q0,7.5 -11.5,0 Z" fill="#9b9a95" stroke="#5c5b58" stroke-width="1.1"/>
<path transform="translate(788.2,368.1) rotate(-17.8)" d="M-11.5,0 Q0,-7.5 11.5,0 Q0,7.5 -11.5,0 Z" fill="#a8a7a2" stroke="#5c5b58" stroke-width="1.1"/>
<path transform="translate(804.7,367.8) rotate(-18.7)" d="M-11.5,0 Q0,-7.5 11.5,0 Q0,7.5 -11.5,0 Z" fill="#9b9a95" stroke="#5c5b58" stroke-width="1.1"/>
<path transform="translate(821.1,367.2) rotate(-19.6)" d="M-11.5,0 Q0,-7.5 11.5,0 Q0,7.5 -11.5,0 Z" fill="#a8a7a2" stroke="#5c5b58" stroke-width="1.1"/>
<path transform="translate(837.6,366.4) rotate(-20.4)" d="M-11.5,0 Q0,-7.5 11.5,0 Q0,7.5 -11.5,0 Z" fill="#9b9a95" stroke="#5c5b58" stroke-width="1.1"/>
<path transform="translate(854.0,365.3) rotate(-21.2)" d="M-11.5,0 Q0,-7.5 11.5,0 Q0,7.5 -11.5,0 Z" fill="#9b9a95" stroke="#5c5b58" stroke-width="1.1"/>
<path transform="translate(870.5,364.0) rotate(-21.9)" d="M-11.5,0 Q0,-7.5 11.5,0 Q0,7.5 -11.5,0 Z" fill="#9b9a95" stroke="#5c5b58" stroke-width="1.1"/>
<path transform="translate(886.9,362.5) rotate(-22.4)" d="M-11.5,0 Q0,-7.5 11.5,0 Q0,7.5 -11.5,0 Z" fill="#95948f" stroke="#5c5b58" stroke-width="1.1"/>
<path transform="translate(903.4,360.9) rotate(-22.8)" d="M-11.5,0 Q0,-7.5 11.5,0 Q0,7.5 -11.5,0 Z" fill="#9b9a95" stroke="#5c5b58" stroke-width="1.1"/>
<path transform="translate(919.8,359.2) rotate(-23.1)" d="M-11.5,0 Q0,-7.5 11.5,0 Q0,7.5 -11.5,0 Z" fill="#9b9a95" stroke="#5c5b58" stroke-width="1.1"/>
<path transform="translate(936.3,357.4) rotate(-23.3)" d="M-11.5,0 Q0,-7.5 11.5,0 Q0,7.5 -11.5,0 Z" fill="#95948f" stroke="#5c5b58" stroke-width="1.1"/>
<path transform="translate(952.7,356.4) rotate(-17.7)" d="M-11.5,0 Q0,-7.5 11.5,0 Q0,7.5 -11.5,0 Z" fill="#a8a7a2" stroke="#5c5b58" stroke-width="1.1"/>
<path transform="translate(643.2,369.4) rotate(-12.9)" d="M-11.5,0 Q0,-7.5 11.5,0 Q0,7.5 -11.5,0 Z" fill="#a3a29d" stroke="#5c5b58" stroke-width="1.1"/>
<path transform="translate(659.6,370.5) rotate(-13.0)" d="M-11.5,0 Q0,-7.5 11.5,0 Q0,7.5 -11.5,0 Z" fill="#a3a29d" stroke="#5c5b58" stroke-width="1.1"/>
<path transform="translate(676.0,371.7) rotate(-13.2)" d="M-11.5,0 Q0,-7.5 11.5,0 Q0,7.5 -11.5,0 Z" fill="#a8a7a2" stroke="#5c5b58" stroke-width="1.1"/>
<path transform="translate(692.5,372.7) rotate(-13.6)" d="M-11.5,0 Q0,-7.5 11.5,0 Q0,7.5 -11.5,0 Z" fill="#95948f" stroke="#5c5b58" stroke-width="1.1"/>
<path transform="translate(708.9,373.6) rotate(-14.1)" d="M-11.5,0 Q0,-7.5 11.5,0 Q0,7.5 -11.5,0 Z" fill="#a8a7a2" stroke="#5c5b58" stroke-width="1.1"/>
<path transform="translate(725.3,374.4) rotate(-14.7)" d="M-11.5,0 Q0,-7.5 11.5,0 Q0,7.5 -11.5,0 Z" fill="#9b9a95" stroke="#5c5b58" stroke-width="1.1"/>
<path transform="translate(741.7,375.0) rotate(-15.3)" d="M-11.5,0 Q0,-7.5 11.5,0 Q0,7.5 -11.5,0 Z" fill="#a8a7a2" stroke="#5c5b58" stroke-width="1.1"/>
<path transform="translate(758.1,375.4) rotate(-16.1)" d="M-11.5,0 Q0,-7.5 11.5,0 Q0,7.5 -11.5,0 Z" fill="#95948f" stroke="#5c5b58" stroke-width="1.1"/>
<path transform="translate(774.5,375.5) rotate(-16.9)" d="M-11.5,0 Q0,-7.5 11.5,0 Q0,7.5 -11.5,0 Z" fill="#a8a7a2" stroke="#5c5b58" stroke-width="1.1"/>
<path transform="translate(791.0,375.5) rotate(-17.7)" d="M-11.5,0 Q0,-7.5 11.5,0 Q0,7.5 -11.5,0 Z" fill="#a8a7a2" stroke="#5c5b58" stroke-width="1.1"/>
<path transform="translate(807.4,375.2) rotate(-18.6)" d="M-11.5,0 Q0,-7.5 11.5,0 Q0,7.5 -11.5,0 Z" fill="#a3a29d" stroke="#5c5b58" stroke-width="1.1"/>
<path transform="translate(823.8,374.6) rotate(-19.4)" d="M-11.5,0 Q0,-7.5 11.5,0 Q0,7.5 -11.5,0 Z" fill="#9b9a95" stroke="#5c5b58" stroke-width="1.1"/>
<path transform="translate(840.2,373.8) rotate(-20.1)" d="M-11.5,0 Q0,-7.5 11.5,0 Q0,7.5 -11.5,0 Z" fill="#a3a29d" stroke="#5c5b58" stroke-width="1.1"/>
<path transform="translate(856.6,372.9) rotate(-20.8)" d="M-11.5,0 Q0,-7.5 11.5,0 Q0,7.5 -11.5,0 Z" fill="#9b9a95" stroke="#5c5b58" stroke-width="1.1"/>
<path transform="translate(873.0,371.7) rotate(-21.4)" d="M-11.5,0 Q0,-7.5 11.5,0 Q0,7.5 -11.5,0 Z" fill="#95948f" stroke="#5c5b58" stroke-width="1.1"/>
<path transform="translate(889.5,370.4) rotate(-21.8)" d="M-11.5,0 Q0,-7.5 11.5,0 Q0,7.5 -11.5,0 Z" fill="#9b9a95" stroke="#5c5b58" stroke-width="1.1"/>
<path transform="translate(905.9,369.0) rotate(-22.2)" d="M-11.5,0 Q0,-7.5 11.5,0 Q0,7.5 -11.5,0 Z" fill="#a8a7a2" stroke="#5c5b58" stroke-width="1.1"/>
<path transform="translate(922.3,367.5) rotate(-22.4)" d="M-11.5,0 Q0,-7.5 11.5,0 Q0,7.5 -11.5,0 Z" fill="#9b9a95" stroke="#5c5b58" stroke-width="1.1"/>
<path transform="translate(938.7,365.9) rotate(-17.7)" d="M-11.5,0 Q0,-7.5 11.5,0 Q0,7.5 -11.5,0 Z" fill="#95948f" stroke="#5c5b58" stroke-width="1.1"/>
<path transform="translate(646.2,378.5) rotate(-17.6)" d="M-11.5,0 Q0,-7.5 11.5,0 Q0,7.5 -11.5,0 Z" fill="#a3a29d" stroke="#5c5b58" stroke-width="1.1"/>
<path transform="translate(662.6,378.9) rotate(-13.8)" d="M-11.5,0 Q0,-7.5 11.5,0 Q0,7.5 -11.5,0 Z" fill="#95948f" stroke="#5c5b58" stroke-width="1.1"/>
<path transform="translate(679.0,379.8) rotate(-14.0)" d="M-11.5,0 Q0,-7.5 11.5,0 Q0,7.5 -11.5,0 Z" fill="#a8a7a2" stroke="#5c5b58" stroke-width="1.1"/>
<path transform="translate(695.4,380.6) rotate(-14.2)" d="M-11.5,0 Q0,-7.5 11.5,0 Q0,7.5 -11.5,0 Z" fill="#a3a29d" stroke="#5c5b58" stroke-width="1.1"/>
<path transform="translate(711.7,381.4) rotate(-14.6)" d="M-11.5,0 Q0,-7.5 11.5,0 Q0,7.5 -11.5,0 Z" fill="#a3a29d" stroke="#5c5b58" stroke-width="1.1"/>
<path transform="translate(728.1,382.0) rotate(-15.1)" d="M-11.5,0 Q0,-7.5 11.5,0 Q0,7.5 -11.5,0 Z" fill="#95948f" stroke="#5c5b58" stroke-width="1.1"/>
<path transform="translate(744.5,382.5) rotate(-15.7)" d="M-11.5,0 Q0,-7.5 11.5,0 Q0,7.5 -11.5,0 Z" fill="#9b9a95" stroke="#5c5b58" stroke-width="1.1"/>
<path transform="translate(760.9,382.8) rotate(-16.3)" d="M-11.5,0 Q0,-7.5 11.5,0 Q0,7.5 -11.5,0 Z" fill="#95948f" stroke="#5c5b58" stroke-width="1.1"/>
<path transform="translate(777.3,382.9) rotate(-17.0)" d="M-11.5,0 Q0,-7.5 11.5,0 Q0,7.5 -11.5,0 Z" fill="#9b9a95" stroke="#5c5b58" stroke-width="1.1"/>
<path transform="translate(793.6,382.8) rotate(-17.7)" d="M-11.5,0 Q0,-7.5 11.5,0 Q0,7.5 -11.5,0 Z" fill="#95948f" stroke="#5c5b58" stroke-width="1.1"/>
<path transform="translate(810.0,382.5) rotate(-18.4)" d="M-11.5,0 Q0,-7.5 11.5,0 Q0,7.5 -11.5,0 Z" fill="#a8a7a2" stroke="#5c5b58" stroke-width="1.1"/>
<path transform="translate(826.4,382.1) rotate(-19.1)" d="M-11.5,0 Q0,-7.5 11.5,0 Q0,7.5 -11.5,0 Z" fill="#a3a29d" stroke="#5c5b58" stroke-width="1.1"/>
<path transform="translate(842.8,381.4) rotate(-19.7)" d="M-11.5,0 Q0,-7.5 11.5,0 Q0,7.5 -11.5,0 Z" fill="#95948f" stroke="#5c5b58" stroke-width="1.1"/>
<path transform="translate(859.2,380.5) rotate(-20.3)" d="M-11.5,0 Q0,-7.5 11.5,0 Q0,7.5 -11.5,0 Z" fill="#95948f" stroke="#5c5b58" stroke-width="1.1"/>
<path transform="translate(875.6,379.5) rotate(-20.7)" d="M-11.5,0 Q0,-7.5 11.5,0 Q0,7.5 -11.5,0 Z" fill="#95948f" stroke="#5c5b58" stroke-width="1.1"/>
<path transform="translate(891.9,378.4) rotate(-21.1)" d="M-11.5,0 Q0,-7.5 11.5,0 Q0,7.5 -11.5,0 Z" fill="#a3a29d" stroke="#5c5b58" stroke-width="1.1"/>
<path transform="translate(908.3,377.2) rotate(-21.4)" d="M-11.5,0 Q0,-7.5 11.5,0 Q0,7.5 -11.5,0 Z" fill="#9b9a95" stroke="#5c5b58" stroke-width="1.1"/>
<path transform="translate(924.7,375.9) rotate(-21.5)" d="M-11.5,0 Q0,-7.5 11.5,0 Q0,7.5 -11.5,0 Z" fill="#9b9a95" stroke="#5c5b58" stroke-width="1.1"/>
<path transform="translate(941.1,375.2) rotate(-17.6)" d="M-11.5,0 Q0,-7.5 11.5,0 Q0,7.5 -11.5,0 Z" fill="#9b9a95" stroke="#5c5b58" stroke-width="1.1"/>
  </g>
  <path d="M562,284 Q600,268 660,263 L760,256 L960,266 Q974,272 976,281 Q958,300 938,306 L800,317 L640,315 Q598,302 562,284 Z" fill="#9b9da4" filter="url(#plush)"/>
  <path d="M600,268 Q640,262 700,258 L790,255 Q840,256 960,266 Q900,272 800,270 Q700,272 640,280 Q610,282 600,268 Z" fill="#a9abb2" opacity="0.9"/>
  <path d="M585,292 Q620,280 680,282 Q720,286 760,282 L960,276 Q950,290 900,286 Q800,290 720,296 Q650,300 600,300 Z" fill="#8c8e95" opacity="0.55"/>
  <path d="M637,312 Q632,294 655,287 Q700,282 745,288 Q790,292 792,314 Z" fill="#b1b3b9" filter="url(#plush)"/>
  <path d="M880,308 Q882,290 905,284 Q935,280 960,284 Q958,300 938,306 Z" fill="#afb1b7" filter="url(#plush)"/>
  <path transform="translate(549.0,284.0) rotate(-7.4)" d="M-8,0 Q0,-3.6 8,0 Q0,3.6 -8,0 Z" fill="#a7a6a1" stroke="#6c6b67" stroke-width="0.8"/>
<path transform="translate(562.4,279.8) rotate(-7.4)" d="M-8,0 Q0,-3.6 8,0 Q0,3.6 -8,0 Z" fill="#a7a6a1" stroke="#6c6b67" stroke-width="0.8"/>
<path transform="translate(575.7,275.6) rotate(-7.4)" d="M-8,0 Q0,-3.6 8,0 Q0,3.6 -8,0 Z" fill="#a7a6a1" stroke="#6c6b67" stroke-width="0.8"/>
<path transform="translate(589.1,271.4) rotate(-7.4)" d="M-8,0 Q0,-3.6 8,0 Q0,3.6 -8,0 Z" fill="#a7a6a1" stroke="#6c6b67" stroke-width="0.8"/>
<path transform="translate(602.5,267.7) rotate(3.4)" d="M-8,0 Q0,-3.6 8,0 Q0,3.6 -8,0 Z" fill="#a7a6a1" stroke="#6c6b67" stroke-width="0.8"/>
<path transform="translate(616.4,266.1) rotate(3.4)" d="M-8,0 Q0,-3.6 8,0 Q0,3.6 -8,0 Z" fill="#a7a6a1" stroke="#6c6b67" stroke-width="0.8"/>
<path transform="translate(630.3,264.5) rotate(3.4)" d="M-8,0 Q0,-3.6 8,0 Q0,3.6 -8,0 Z" fill="#a7a6a1" stroke="#6c6b67" stroke-width="0.8"/>
<path transform="translate(644.3,262.9) rotate(3.4)" d="M-8,0 Q0,-3.6 8,0 Q0,3.6 -8,0 Z" fill="#a7a6a1" stroke="#6c6b67" stroke-width="0.8"/>
<path transform="translate(658.2,261.3) rotate(3.4)" d="M-8,0 Q0,-3.6 8,0 Q0,3.6 -8,0 Z" fill="#a7a6a1" stroke="#6c6b67" stroke-width="0.8"/>
<path transform="translate(672.1,259.7) rotate(4.5)" d="M-8,0 Q0,-3.6 8,0 Q0,3.6 -8,0 Z" fill="#a7a6a1" stroke="#6c6b67" stroke-width="0.8"/>
<path transform="translate(686.0,258.4) rotate(4.5)" d="M-8,0 Q0,-3.6 8,0 Q0,3.6 -8,0 Z" fill="#a7a6a1" stroke="#6c6b67" stroke-width="0.8"/>
<path transform="translate(699.9,257.0) rotate(4.5)" d="M-8,0 Q0,-3.6 8,0 Q0,3.6 -8,0 Z" fill="#a7a6a1" stroke="#6c6b67" stroke-width="0.8"/>
<path transform="translate(713.9,255.7) rotate(4.5)" d="M-8,0 Q0,-3.6 8,0 Q0,3.6 -8,0 Z" fill="#a7a6a1" stroke="#6c6b67" stroke-width="0.8"/>
<path transform="translate(727.8,254.3) rotate(4.5)" d="M-8,0 Q0,-3.6 8,0 Q0,3.6 -8,0 Z" fill="#a7a6a1" stroke="#6c6b67" stroke-width="0.8"/>
<path transform="translate(741.8,253.8) rotate(9.0)" d="M-8,0 Q0,-3.6 8,0 Q0,3.6 -8,0 Z" fill="#a7a6a1" stroke="#6c6b67" stroke-width="0.8"/>
<path transform="translate(755.8,253.6) rotate(9.0)" d="M-8,0 Q0,-3.6 8,0 Q0,3.6 -8,0 Z" fill="#a7a6a1" stroke="#6c6b67" stroke-width="0.8"/>
<path transform="translate(769.8,253.3) rotate(9.0)" d="M-8,0 Q0,-3.6 8,0 Q0,3.6 -8,0 Z" fill="#a7a6a1" stroke="#6c6b67" stroke-width="0.8"/>
<path transform="translate(783.8,253.1) rotate(9.0)" d="M-8,0 Q0,-3.6 8,0 Q0,3.6 -8,0 Z" fill="#a7a6a1" stroke="#6c6b67" stroke-width="0.8"/>
<path transform="translate(797.8,253.4) rotate(13.3)" d="M-8,0 Q0,-3.6 8,0 Q0,3.6 -8,0 Z" fill="#a7a6a1" stroke="#6c6b67" stroke-width="0.8"/>
<path transform="translate(811.8,254.3) rotate(13.3)" d="M-8,0 Q0,-3.6 8,0 Q0,3.6 -8,0 Z" fill="#a7a6a1" stroke="#6c6b67" stroke-width="0.8"/>
<path transform="translate(825.7,255.1) rotate(13.3)" d="M-8,0 Q0,-3.6 8,0 Q0,3.6 -8,0 Z" fill="#a7a6a1" stroke="#6c6b67" stroke-width="0.8"/>
<path transform="translate(839.7,255.9) rotate(13.3)" d="M-8,0 Q0,-3.6 8,0 Q0,3.6 -8,0 Z" fill="#a7a6a1" stroke="#6c6b67" stroke-width="0.8"/>
<path transform="translate(853.7,256.7) rotate(13.3)" d="M-8,0 Q0,-3.6 8,0 Q0,3.6 -8,0 Z" fill="#a7a6a1" stroke="#6c6b67" stroke-width="0.8"/>
<path transform="translate(867.7,257.5) rotate(13.3)" d="M-8,0 Q0,-3.6 8,0 Q0,3.6 -8,0 Z" fill="#a7a6a1" stroke="#6c6b67" stroke-width="0.8"/>
<path transform="translate(881.6,258.3) rotate(14.1)" d="M-8,0 Q0,-3.6 8,0 Q0,3.6 -8,0 Z" fill="#a7a6a1" stroke="#6c6b67" stroke-width="0.8"/>
<path transform="translate(895.6,259.3) rotate(14.1)" d="M-8,0 Q0,-3.6 8,0 Q0,3.6 -8,0 Z" fill="#a7a6a1" stroke="#6c6b67" stroke-width="0.8"/>
<path transform="translate(909.6,260.4) rotate(14.1)" d="M-8,0 Q0,-3.6 8,0 Q0,3.6 -8,0 Z" fill="#a7a6a1" stroke="#6c6b67" stroke-width="0.8"/>
<path transform="translate(923.5,261.4) rotate(14.1)" d="M-8,0 Q0,-3.6 8,0 Q0,3.6 -8,0 Z" fill="#a7a6a1" stroke="#6c6b67" stroke-width="0.8"/>
<path transform="translate(937.5,262.4) rotate(14.1)" d="M-8,0 Q0,-3.6 8,0 Q0,3.6 -8,0 Z" fill="#a7a6a1" stroke="#6c6b67" stroke-width="0.8"/>
<path transform="translate(951.5,263.4) rotate(14.1)" d="M-8,0 Q0,-3.6 8,0 Q0,3.6 -8,0 Z" fill="#a7a6a1" stroke="#6c6b67" stroke-width="0.8"/>
<path transform="translate(965.2,265.4) rotate(25.4)" d="M-8,0 Q0,-3.6 8,0 Q0,3.6 -8,0 Z" fill="#a7a6a1" stroke="#6c6b67" stroke-width="0.8"/>
<path transform="translate(978.7,269.2) rotate(25.4)" d="M-8,0 Q0,-3.6 8,0 Q0,3.6 -8,0 Z" fill="#a7a6a1" stroke="#6c6b67" stroke-width="0.8"/>
  <path transform="translate(550.0,286.0) rotate(4.9)" d="M-10,0 Q0,-4.2 10,0 Q0,4.2 -10,0 Z" fill="#b0afaa" stroke="#6f6e6a" stroke-width="0.9"/>
<path transform="translate(565.3,290.7) rotate(4.9)" d="M-10,0 Q0,-4.2 10,0 Q0,4.2 -10,0 Z" fill="#b0afaa" stroke="#6f6e6a" stroke-width="0.9"/>
<path transform="translate(580.7,295.1) rotate(3.3)" d="M-10,0 Q0,-4.2 10,0 Q0,4.2 -10,0 Z" fill="#b0afaa" stroke="#6f6e6a" stroke-width="0.9"/>
<path transform="translate(596.1,299.3) rotate(3.3)" d="M-10,0 Q0,-4.2 10,0 Q0,4.2 -10,0 Z" fill="#b0afaa" stroke="#6f6e6a" stroke-width="0.9"/>
<path transform="translate(611.6,303.5) rotate(3.3)" d="M-10,0 Q0,-4.2 10,0 Q0,4.2 -10,0 Z" fill="#b0afaa" stroke="#6f6e6a" stroke-width="0.9"/>
<path transform="translate(626.5,309.1) rotate(11.5)" d="M-10,0 Q0,-4.2 10,0 Q0,4.2 -10,0 Z" fill="#b0afaa" stroke="#6f6e6a" stroke-width="0.9"/>
<path transform="translate(641.3,315.2) rotate(-1.7)" d="M-10,0 Q0,-4.2 10,0 Q0,4.2 -10,0 Z" fill="#b0afaa" stroke="#6f6e6a" stroke-width="0.9"/>
<path transform="translate(657.0,318.1) rotate(-1.7)" d="M-10,0 Q0,-4.2 10,0 Q0,4.2 -10,0 Z" fill="#b0afaa" stroke="#6f6e6a" stroke-width="0.9"/>
<path transform="translate(672.9,319.0) rotate(-12.0)" d="M-10,0 Q0,-4.2 10,0 Q0,4.2 -10,0 Z" fill="#b0afaa" stroke="#6f6e6a" stroke-width="0.9"/>
<path transform="translate(688.9,319.0) rotate(-12.0)" d="M-10,0 Q0,-4.2 10,0 Q0,4.2 -10,0 Z" fill="#b0afaa" stroke="#6f6e6a" stroke-width="0.9"/>
<path transform="translate(704.9,318.7) rotate(-15.6)" d="M-10,0 Q0,-4.2 10,0 Q0,4.2 -10,0 Z" fill="#b0afaa" stroke="#6f6e6a" stroke-width="0.9"/>
<path transform="translate(720.9,317.7) rotate(-15.6)" d="M-10,0 Q0,-4.2 10,0 Q0,4.2 -10,0 Z" fill="#b0afaa" stroke="#6f6e6a" stroke-width="0.9"/>
<path transform="translate(736.8,316.7) rotate(-15.6)" d="M-10,0 Q0,-4.2 10,0 Q0,4.2 -10,0 Z" fill="#b0afaa" stroke="#6f6e6a" stroke-width="0.9"/>
<path transform="translate(752.8,315.6) rotate(-15.6)" d="M-10,0 Q0,-4.2 10,0 Q0,4.2 -10,0 Z" fill="#b0afaa" stroke="#6f6e6a" stroke-width="0.9"/>
<path transform="translate(768.8,314.7) rotate(-14.6)" d="M-10,0 Q0,-4.2 10,0 Q0,4.2 -10,0 Z" fill="#b0afaa" stroke="#6f6e6a" stroke-width="0.9"/>
<path transform="translate(784.8,314.0) rotate(-14.6)" d="M-10,0 Q0,-4.2 10,0 Q0,4.2 -10,0 Z" fill="#b0afaa" stroke="#6f6e6a" stroke-width="0.9"/>
<path transform="translate(800.7,313.3) rotate(-14.6)" d="M-10,0 Q0,-4.2 10,0 Q0,4.2 -10,0 Z" fill="#b0afaa" stroke="#6f6e6a" stroke-width="0.9"/>
<path transform="translate(816.7,312.5) rotate(-14.6)" d="M-10,0 Q0,-4.2 10,0 Q0,4.2 -10,0 Z" fill="#b0afaa" stroke="#6f6e6a" stroke-width="0.9"/>
<path transform="translate(832.7,311.8) rotate(-14.6)" d="M-10,0 Q0,-4.2 10,0 Q0,4.2 -10,0 Z" fill="#b0afaa" stroke="#6f6e6a" stroke-width="0.9"/>
<path transform="translate(848.7,311.1) rotate(-14.6)" d="M-10,0 Q0,-4.2 10,0 Q0,4.2 -10,0 Z" fill="#b0afaa" stroke="#6f6e6a" stroke-width="0.9"/>
<path transform="translate(864.7,310.2) rotate(-15.3)" d="M-10,0 Q0,-4.2 10,0 Q0,4.2 -10,0 Z" fill="#b0afaa" stroke="#6f6e6a" stroke-width="0.9"/>
<path transform="translate(880.6,309.3) rotate(-15.3)" d="M-10,0 Q0,-4.2 10,0 Q0,4.2 -10,0 Z" fill="#b0afaa" stroke="#6f6e6a" stroke-width="0.9"/>
<path transform="translate(896.6,308.4) rotate(-15.3)" d="M-10,0 Q0,-4.2 10,0 Q0,4.2 -10,0 Z" fill="#b0afaa" stroke="#6f6e6a" stroke-width="0.9"/>
<path transform="translate(912.6,307.4) rotate(-15.3)" d="M-10,0 Q0,-4.2 10,0 Q0,4.2 -10,0 Z" fill="#b0afaa" stroke="#6f6e6a" stroke-width="0.9"/>
<path transform="translate(928.6,306.5) rotate(-15.3)" d="M-10,0 Q0,-4.2 10,0 Q0,4.2 -10,0 Z" fill="#b0afaa" stroke="#6f6e6a" stroke-width="0.9"/>
<path transform="translate(944.1,303.7) rotate(-32.6)" d="M-10,0 Q0,-4.2 10,0 Q0,4.2 -10,0 Z" fill="#b0afaa" stroke="#6f6e6a" stroke-width="0.9"/>
<path transform="translate(959.1,298.1) rotate(-32.6)" d="M-10,0 Q0,-4.2 10,0 Q0,4.2 -10,0 Z" fill="#b0afaa" stroke="#6f6e6a" stroke-width="0.9"/>
<path transform="translate(973.6,291.5) rotate(-47.2)" d="M-10,0 Q0,-4.2 10,0 Q0,4.2 -10,0 Z" fill="#b0afaa" stroke="#6f6e6a" stroke-width="0.9"/>
<path transform="translate(986.6,282.3) rotate(-47.2)" d="M-10,0 Q0,-4.2 10,0 Q0,4.2 -10,0 Z" fill="#b0afaa" stroke="#6f6e6a" stroke-width="0.9"/>
  <!-- rope post -->
  <clipPath id="rclip"><path d="M746,385 L805,385 L797,784 L741,784 Z"/></clipPath><path d="M746,385 L805,385 L797,784 L741,784 Z" fill="#747472"/><g clip-path="url(#rclip)">
  <ellipse cx="747.0" cy="388.0" rx="3.9" ry="1.9" transform="rotate(-28 747.0 388.0)" fill="#a7a7a3"/>
<ellipse cx="752.6" cy="388.3" rx="3.9" ry="1.9" transform="rotate(-28 752.6 388.3)" fill="#a0a09c"/>
<ellipse cx="758.2" cy="388.5" rx="3.9" ry="1.9" transform="rotate(-28 758.2 388.5)" fill="#9a9a96"/>
<ellipse cx="763.8" cy="388.7" rx="3.9" ry="1.9" transform="rotate(-28 763.8 388.7)" fill="#a0a09c"/>
<ellipse cx="769.4" cy="388.7" rx="3.9" ry="1.9" transform="rotate(-28 769.4 388.7)" fill="#9a9a96"/>
<ellipse cx="775.0" cy="388.7" rx="3.9" ry="1.9" transform="rotate(-28 775.0 388.7)" fill="#adada9"/>
<ellipse cx="780.6" cy="388.6" rx="3.9" ry="1.9" transform="rotate(-28 780.6 388.6)" fill="#a0a09c"/>
<ellipse cx="786.2" cy="388.3" rx="3.9" ry="1.9" transform="rotate(-28 786.2 388.3)" fill="#a0a09c"/>
<ellipse cx="791.8" cy="388.0" rx="3.9" ry="1.9" transform="rotate(-28 791.8 388.0)" fill="#a7a7a3"/>
<ellipse cx="797.4" cy="387.6" rx="3.9" ry="1.9" transform="rotate(-28 797.4 387.6)" fill="#a7a7a3"/>
<ellipse cx="803.0" cy="387.2" rx="3.9" ry="1.9" transform="rotate(-28 803.0 387.2)" fill="#a7a7a3"/>
<ellipse cx="749.9" cy="393.0" rx="3.9" ry="1.9" transform="rotate(-28 749.9 393.0)" fill="#a0a09c"/>
<ellipse cx="755.5" cy="393.2" rx="3.9" ry="1.9" transform="rotate(-28 755.5 393.2)" fill="#9a9a96"/>
<ellipse cx="761.1" cy="393.4" rx="3.9" ry="1.9" transform="rotate(-28 761.1 393.4)" fill="#a0a09c"/>
<ellipse cx="766.7" cy="393.5" rx="3.9" ry="1.9" transform="rotate(-28 766.7 393.5)" fill="#a0a09c"/>
<ellipse cx="772.3" cy="393.5" rx="3.9" ry="1.9" transform="rotate(-28 772.3 393.5)" fill="#a7a7a3"/>
<ellipse cx="777.9" cy="393.4" rx="3.9" ry="1.9" transform="rotate(-28 777.9 393.4)" fill="#adada9"/>
<ellipse cx="783.5" cy="393.3" rx="3.9" ry="1.9" transform="rotate(-28 783.5 393.3)" fill="#a0a09c"/>
<ellipse cx="789.1" cy="393.0" rx="3.9" ry="1.9" transform="rotate(-28 789.1 393.0)" fill="#adada9"/>
<ellipse cx="794.7" cy="392.6" rx="3.9" ry="1.9" transform="rotate(-28 794.7 392.6)" fill="#a0a09c"/>
<ellipse cx="800.3" cy="392.2" rx="3.9" ry="1.9" transform="rotate(-28 800.3 392.2)" fill="#adada9"/>
<ellipse cx="746.8" cy="397.6" rx="3.9" ry="1.9" transform="rotate(-28 746.8 397.6)" fill="#adada9"/>
<ellipse cx="752.4" cy="397.9" rx="3.9" ry="1.9" transform="rotate(-28 752.4 397.9)" fill="#9a9a96"/>
<ellipse cx="758.0" cy="398.1" rx="3.9" ry="1.9" transform="rotate(-28 758.0 398.1)" fill="#a0a09c"/>
<ellipse cx="763.6" cy="398.3" rx="3.9" ry="1.9" transform="rotate(-28 763.6 398.3)" fill="#a7a7a3"/>
<ellipse cx="769.2" cy="398.3" rx="3.9" ry="1.9" transform="rotate(-28 769.2 398.3)" fill="#adada9"/>
<ellipse cx="774.8" cy="398.3" rx="3.9" ry="1.9" transform="rotate(-28 774.8 398.3)" fill="#9a9a96"/>
<ellipse cx="780.4" cy="398.2" rx="3.9" ry="1.9" transform="rotate(-28 780.4 398.2)" fill="#9a9a96"/>
<ellipse cx="786.0" cy="397.9" rx="3.9" ry="1.9" transform="rotate(-28 786.0 397.9)" fill="#a0a09c"/>
<ellipse cx="791.6" cy="397.6" rx="3.9" ry="1.9" transform="rotate(-28 791.6 397.6)" fill="#a0a09c"/>
<ellipse cx="797.2" cy="397.2" rx="3.9" ry="1.9" transform="rotate(-28 797.2 397.2)" fill="#a7a7a3"/>
<ellipse cx="802.8" cy="396.8" rx="3.9" ry="1.9" transform="rotate(-28 802.8 396.8)" fill="#9a9a96"/>
<ellipse cx="749.8" cy="402.6" rx="3.9" ry="1.9" transform="rotate(-28 749.8 402.6)" fill="#a0a09c"/>
<ellipse cx="755.4" cy="402.8" rx="3.9" ry="1.9" transform="rotate(-28 755.4 402.8)" fill="#a7a7a3"/>
<ellipse cx="761.0" cy="403.0" rx="3.9" ry="1.9" transform="rotate(-28 761.0 403.0)" fill="#a0a09c"/>
<ellipse cx="766.6" cy="403.1" rx="3.9" ry="1.9" transform="rotate(-28 766.6 403.1)" fill="#a0a09c"/>
<ellipse cx="772.2" cy="403.1" rx="3.9" ry="1.9" transform="rotate(-28 772.2 403.1)" fill="#a0a09c"/>
<ellipse cx="777.8" cy="403.0" rx="3.9" ry="1.9" transform="rotate(-28 777.8 403.0)" fill="#9a9a96"/>
<ellipse cx="783.4" cy="402.8" rx="3.9" ry="1.9" transform="rotate(-28 783.4 402.8)" fill="#a7a7a3"/>
<ellipse cx="789.0" cy="402.6" rx="3.9" ry="1.9" transform="rotate(-28 789.0 402.6)" fill="#a7a7a3"/>
<ellipse cx="794.6" cy="402.2" rx="3.9" ry="1.9" transform="rotate(-28 794.6 402.2)" fill="#adada9"/>
<ellipse cx="800.2" cy="401.8" rx="3.9" ry="1.9" transform="rotate(-28 800.2 401.8)" fill="#9a9a96"/>
<ellipse cx="746.7" cy="407.2" rx="3.9" ry="1.9" transform="rotate(-28 746.7 407.2)" fill="#a7a7a3"/>
<ellipse cx="752.3" cy="407.5" rx="3.9" ry="1.9" transform="rotate(-28 752.3 407.5)" fill="#a7a7a3"/>
<ellipse cx="757.9" cy="407.7" rx="3.9" ry="1.9" transform="rotate(-28 757.9 407.7)" fill="#a0a09c"/>
<ellipse cx="763.5" cy="407.9" rx="3.9" ry="1.9" transform="rotate(-28 763.5 407.9)" fill="#a0a09c"/>
<ellipse cx="769.1" cy="407.9" rx="3.9" ry="1.9" transform="rotate(-28 769.1 407.9)" fill="#adada9"/>
<ellipse cx="774.7" cy="407.9" rx="3.9" ry="1.9" transform="rotate(-28 774.7 407.9)" fill="#a7a7a3"/>
<ellipse cx="780.3" cy="407.8" rx="3.9" ry="1.9" transform="rotate(-28 780.3 407.8)" fill="#a7a7a3"/>
<ellipse cx="785.9" cy="407.5" rx="3.9" ry="1.9" transform="rotate(-28 785.9 407.5)" fill="#9a9a96"/>
<ellipse cx="791.5" cy="407.2" rx="3.9" ry="1.9" transform="rotate(-28 791.5 407.2)" fill="#a7a7a3"/>
<ellipse cx="797.1" cy="406.8" rx="3.9" ry="1.9" transform="rotate(-28 797.1 406.8)" fill="#a7a7a3"/>
<ellipse cx="802.7" cy="406.3" rx="3.9" ry="1.9" transform="rotate(-28 802.7 406.3)" fill="#9a9a96"/>
<ellipse cx="749.7" cy="412.2" rx="3.9" ry="1.9" transform="rotate(-28 749.7 412.2)" fill="#adada9"/>
<ellipse cx="755.3" cy="412.4" rx="3.9" ry="1.9" transform="rotate(-28 755.3 412.4)" fill="#a0a09c"/>
<ellipse cx="760.9" cy="412.6" rx="3.9" ry="1.9" transform="rotate(-28 760.9 412.6)" fill="#adada9"/>
<ellipse cx="766.5" cy="412.7" rx="3.9" ry="1.9" transform="rotate(-28 766.5 412.7)" fill="#9a9a96"/>
<ellipse cx="772.1" cy="412.7" rx="3.9" ry="1.9" transform="rotate(-28 772.1 412.7)" fill="#9a9a96"/>
<ellipse cx="777.7" cy="412.6" rx="3.9" ry="1.9" transform="rotate(-28 777.7 412.6)" fill="#a0a09c"/>
<ellipse cx="783.3" cy="412.4" rx="3.9" ry="1.9" transform="rotate(-28 783.3 412.4)" fill="#adada9"/>
<ellipse cx="788.9" cy="412.2" rx="3.9" ry="1.9" transform="rotate(-28 788.9 412.2)" fill="#a0a09c"/>
<ellipse cx="794.5" cy="411.8" rx="3.9" ry="1.9" transform="rotate(-28 794.5 411.8)" fill="#9a9a96"/>
<ellipse cx="800.1" cy="411.4" rx="3.9" ry="1.9" transform="rotate(-28 800.1 411.4)" fill="#a0a09c"/>
<ellipse cx="746.6" cy="416.8" rx="3.9" ry="1.9" transform="rotate(-28 746.6 416.8)" fill="#9a9a96"/>
<ellipse cx="752.2" cy="417.1" rx="3.9" ry="1.9" transform="rotate(-28 752.2 417.1)" fill="#a7a7a3"/>
<ellipse cx="757.8" cy="417.3" rx="3.9" ry="1.9" transform="rotate(-28 757.8 417.3)" fill="#9a9a96"/>
<ellipse cx="763.4" cy="417.5" rx="3.9" ry="1.9" transform="rotate(-28 763.4 417.5)" fill="#9a9a96"/>
<ellipse cx="769.0" cy="417.5" rx="3.9" ry="1.9" transform="rotate(-28 769.0 417.5)" fill="#adada9"/>
<ellipse cx="774.6" cy="417.5" rx="3.9" ry="1.9" transform="rotate(-28 774.6 417.5)" fill="#a7a7a3"/>
<ellipse cx="780.2" cy="417.4" rx="3.9" ry="1.9" transform="rotate(-28 780.2 417.4)" fill="#a0a09c"/>
<ellipse cx="785.8" cy="417.1" rx="3.9" ry="1.9" transform="rotate(-28 785.8 417.1)" fill="#9a9a96"/>
<ellipse cx="791.4" cy="416.8" rx="3.9" ry="1.9" transform="rotate(-28 791.4 416.8)" fill="#a7a7a3"/>
<ellipse cx="797.0" cy="416.4" rx="3.9" ry="1.9" transform="rotate(-28 797.0 416.4)" fill="#a0a09c"/>
<ellipse cx="802.6" cy="415.9" rx="3.9" ry="1.9" transform="rotate(-28 802.6 415.9)" fill="#adada9"/>
<ellipse cx="749.5" cy="421.8" rx="3.9" ry="1.9" transform="rotate(-28 749.5 421.8)" fill="#a7a7a3"/>
<ellipse cx="755.1" cy="422.0" rx="3.9" ry="1.9" transform="rotate(-28 755.1 422.0)" fill="#a0a09c"/>
<ellipse cx="760.7" cy="422.2" rx="3.9" ry="1.9" transform="rotate(-28 760.7 422.2)" fill="#adada9"/>
<ellipse cx="766.3" cy="422.3" rx="3.9" ry="1.9" transform="rotate(-28 766.3 422.3)" fill="#a0a09c"/>
<ellipse cx="771.9" cy="422.3" rx="3.9" ry="1.9" transform="rotate(-28 771.9 422.3)" fill="#adada9"/>
<ellipse cx="777.5" cy="422.2" rx="3.9" ry="1.9" transform="rotate(-28 777.5 422.2)" fill="#a0a09c"/>
<ellipse cx="783.1" cy="422.0" rx="3.9" ry="1.9" transform="rotate(-28 783.1 422.0)" fill="#9a9a96"/>
<ellipse cx="788.7" cy="421.8" rx="3.9" ry="1.9" transform="rotate(-28 788.7 421.8)" fill="#a0a09c"/>
<ellipse cx="794.3" cy="421.4" rx="3.9" ry="1.9" transform="rotate(-28 794.3 421.4)" fill="#a7a7a3"/>
<ellipse cx="799.9" cy="420.9" rx="3.9" ry="1.9" transform="rotate(-28 799.9 420.9)" fill="#9a9a96"/>
<ellipse cx="746.5" cy="426.4" rx="3.9" ry="1.9" transform="rotate(-28 746.5 426.4)" fill="#9a9a96"/>
<ellipse cx="752.1" cy="426.7" rx="3.9" ry="1.9" transform="rotate(-28 752.1 426.7)" fill="#a0a09c"/>
<ellipse cx="757.7" cy="426.9" rx="3.9" ry="1.9" transform="rotate(-28 757.7 426.9)" fill="#a0a09c"/>
<ellipse cx="763.3" cy="427.1" rx="3.9" ry="1.9" transform="rotate(-28 763.3 427.1)" fill="#a0a09c"/>
<ellipse cx="768.9" cy="427.1" rx="3.9" ry="1.9" transform="rotate(-28 768.9 427.1)" fill="#9a9a96"/>
<ellipse cx="774.5" cy="427.1" rx="3.9" ry="1.9" transform="rotate(-28 774.5 427.1)" fill="#9a9a96"/>
<ellipse cx="780.1" cy="427.0" rx="3.9" ry="1.9" transform="rotate(-28 780.1 427.0)" fill="#adada9"/>
<ellipse cx="785.7" cy="426.7" rx="3.9" ry="1.9" transform="rotate(-28 785.7 426.7)" fill="#9a9a96"/>
<ellipse cx="791.3" cy="426.4" rx="3.9" ry="1.9" transform="rotate(-28 791.3 426.4)" fill="#a0a09c"/>
<ellipse cx="796.9" cy="426.0" rx="3.9" ry="1.9" transform="rotate(-28 796.9 426.0)" fill="#adada9"/>
<ellipse cx="802.5" cy="425.5" rx="3.9" ry="1.9" transform="rotate(-28 802.5 425.5)" fill="#adada9"/>
<ellipse cx="749.4" cy="431.4" rx="3.9" ry="1.9" transform="rotate(-28 749.4 431.4)" fill="#a7a7a3"/>
<ellipse cx="755.0" cy="431.6" rx="3.9" ry="1.9" transform="rotate(-28 755.0 431.6)" fill="#adada9"/>
<ellipse cx="760.6" cy="431.8" rx="3.9" ry="1.9" transform="rotate(-28 760.6 431.8)" fill="#a7a7a3"/>
<ellipse cx="766.2" cy="431.9" rx="3.9" ry="1.9" transform="rotate(-28 766.2 431.9)" fill="#adada9"/>
<ellipse cx="771.8" cy="431.9" rx="3.9" ry="1.9" transform="rotate(-28 771.8 431.9)" fill="#9a9a96"/>
<ellipse cx="777.4" cy="431.8" rx="3.9" ry="1.9" transform="rotate(-28 777.4 431.8)" fill="#9a9a96"/>
<ellipse cx="783.0" cy="431.6" rx="3.9" ry="1.9" transform="rotate(-28 783.0 431.6)" fill="#a7a7a3"/>
<ellipse cx="788.6" cy="431.3" rx="3.9" ry="1.9" transform="rotate(-28 788.6 431.3)" fill="#9a9a96"/>
<ellipse cx="794.2" cy="431.0" rx="3.9" ry="1.9" transform="rotate(-28 794.2 431.0)" fill="#adada9"/>
<ellipse cx="799.8" cy="430.5" rx="3.9" ry="1.9" transform="rotate(-28 799.8 430.5)" fill="#adada9"/>
<ellipse cx="746.4" cy="436.0" rx="3.9" ry="1.9" transform="rotate(-28 746.4 436.0)" fill="#a7a7a3"/>
<ellipse cx="752.0" cy="436.3" rx="3.9" ry="1.9" transform="rotate(-28 752.0 436.3)" fill="#a7a7a3"/>
<ellipse cx="757.6" cy="436.5" rx="3.9" ry="1.9" transform="rotate(-28 757.6 436.5)" fill="#a0a09c"/>
<ellipse cx="763.2" cy="436.7" rx="3.9" ry="1.9" transform="rotate(-28 763.2 436.7)" fill="#a7a7a3"/>
<ellipse cx="768.8" cy="436.7" rx="3.9" ry="1.9" transform="rotate(-28 768.8 436.7)" fill="#a7a7a3"/>
<ellipse cx="774.4" cy="436.7" rx="3.9" ry="1.9" transform="rotate(-28 774.4 436.7)" fill="#adada9"/>
<ellipse cx="780.0" cy="436.6" rx="3.9" ry="1.9" transform="rotate(-28 780.0 436.6)" fill="#adada9"/>
<ellipse cx="785.6" cy="436.3" rx="3.9" ry="1.9" transform="rotate(-28 785.6 436.3)" fill="#a7a7a3"/>
<ellipse cx="791.2" cy="436.0" rx="3.9" ry="1.9" transform="rotate(-28 791.2 436.0)" fill="#a0a09c"/>
<ellipse cx="796.8" cy="435.6" rx="3.9" ry="1.9" transform="rotate(-28 796.8 435.6)" fill="#adada9"/>
<ellipse cx="802.4" cy="435.1" rx="3.9" ry="1.9" transform="rotate(-28 802.4 435.1)" fill="#a0a09c"/>
<ellipse cx="749.3" cy="441.0" rx="3.9" ry="1.9" transform="rotate(-28 749.3 441.0)" fill="#9a9a96"/>
<ellipse cx="754.9" cy="441.2" rx="3.9" ry="1.9" transform="rotate(-28 754.9 441.2)" fill="#adada9"/>
<ellipse cx="760.5" cy="441.4" rx="3.9" ry="1.9" transform="rotate(-28 760.5 441.4)" fill="#9a9a96"/>
<ellipse cx="766.1" cy="441.5" rx="3.9" ry="1.9" transform="rotate(-28 766.1 441.5)" fill="#a0a09c"/>
<ellipse cx="771.7" cy="441.5" rx="3.9" ry="1.9" transform="rotate(-28 771.7 441.5)" fill="#9a9a96"/>
<ellipse cx="777.3" cy="441.4" rx="3.9" ry="1.9" transform="rotate(-28 777.3 441.4)" fill="#adada9"/>
<ellipse cx="782.9" cy="441.2" rx="3.9" ry="1.9" transform="rotate(-28 782.9 441.2)" fill="#a7a7a3"/>
<ellipse cx="788.5" cy="440.9" rx="3.9" ry="1.9" transform="rotate(-28 788.5 440.9)" fill="#adada9"/>
<ellipse cx="794.1" cy="440.6" rx="3.9" ry="1.9" transform="rotate(-28 794.1 440.6)" fill="#a7a7a3"/>
<ellipse cx="799.7" cy="440.1" rx="3.9" ry="1.9" transform="rotate(-28 799.7 440.1)" fill="#a0a09c"/>
<ellipse cx="746.2" cy="445.6" rx="3.9" ry="1.9" transform="rotate(-28 746.2 445.6)" fill="#9a9a96"/>
<ellipse cx="751.8" cy="445.9" rx="3.9" ry="1.9" transform="rotate(-28 751.8 445.9)" fill="#a7a7a3"/>
<ellipse cx="757.4" cy="446.1" rx="3.9" ry="1.9" transform="rotate(-28 757.4 446.1)" fill="#adada9"/>
<ellipse cx="763.0" cy="446.3" rx="3.9" ry="1.9" transform="rotate(-28 763.0 446.3)" fill="#a7a7a3"/>
<ellipse cx="768.6" cy="446.3" rx="3.9" ry="1.9" transform="rotate(-28 768.6 446.3)" fill="#a7a7a3"/>
<ellipse cx="774.2" cy="446.3" rx="3.9" ry="1.9" transform="rotate(-28 774.2 446.3)" fill="#adada9"/>
<ellipse cx="779.8" cy="446.2" rx="3.9" ry="1.9" transform="rotate(-28 779.8 446.2)" fill="#a7a7a3"/>
<ellipse cx="785.4" cy="445.9" rx="3.9" ry="1.9" transform="rotate(-28 785.4 445.9)" fill="#a0a09c"/>
<ellipse cx="791.0" cy="445.6" rx="3.9" ry="1.9" transform="rotate(-28 791.0 445.6)" fill="#a7a7a3"/>
<ellipse cx="796.6" cy="445.2" rx="3.9" ry="1.9" transform="rotate(-28 796.6 445.2)" fill="#adada9"/>
<ellipse cx="802.2" cy="444.7" rx="3.9" ry="1.9" transform="rotate(-28 802.2 444.7)" fill="#a7a7a3"/>
<ellipse cx="749.2" cy="450.6" rx="3.9" ry="1.9" transform="rotate(-28 749.2 450.6)" fill="#9a9a96"/>
<ellipse cx="754.8" cy="450.8" rx="3.9" ry="1.9" transform="rotate(-28 754.8 450.8)" fill="#a7a7a3"/>
<ellipse cx="760.4" cy="451.0" rx="3.9" ry="1.9" transform="rotate(-28 760.4 451.0)" fill="#adada9"/>
<ellipse cx="766.0" cy="451.1" rx="3.9" ry="1.9" transform="rotate(-28 766.0 451.1)" fill="#9a9a96"/>
<ellipse cx="771.6" cy="451.1" rx="3.9" ry="1.9" transform="rotate(-28 771.6 451.1)" fill="#adada9"/>
<ellipse cx="777.2" cy="451.0" rx="3.9" ry="1.9" transform="rotate(-28 777.2 451.0)" fill="#a0a09c"/>
<ellipse cx="782.8" cy="450.8" rx="3.9" ry="1.9" transform="rotate(-28 782.8 450.8)" fill="#a7a7a3"/>
<ellipse cx="788.4" cy="450.5" rx="3.9" ry="1.9" transform="rotate(-28 788.4 450.5)" fill="#a0a09c"/>
<ellipse cx="794.0" cy="450.2" rx="3.9" ry="1.9" transform="rotate(-28 794.0 450.2)" fill="#a7a7a3"/>
<ellipse cx="799.6" cy="449.7" rx="3.9" ry="1.9" transform="rotate(-28 799.6 449.7)" fill="#a0a09c"/>
<ellipse cx="746.1" cy="455.2" rx="3.9" ry="1.9" transform="rotate(-28 746.1 455.2)" fill="#adada9"/>
<ellipse cx="751.7" cy="455.5" rx="3.9" ry="1.9" transform="rotate(-28 751.7 455.5)" fill="#a7a7a3"/>
<ellipse cx="757.3" cy="455.7" rx="3.9" ry="1.9" transform="rotate(-28 757.3 455.7)" fill="#a0a09c"/>
<ellipse cx="762.9" cy="455.9" rx="3.9" ry="1.9" transform="rotate(-28 762.9 455.9)" fill="#a0a09c"/>
<ellipse cx="768.5" cy="455.9" rx="3.9" ry="1.9" transform="rotate(-28 768.5 455.9)" fill="#adada9"/>
<ellipse cx="774.1" cy="455.9" rx="3.9" ry="1.9" transform="rotate(-28 774.1 455.9)" fill="#adada9"/>
<ellipse cx="779.7" cy="455.8" rx="3.9" ry="1.9" transform="rotate(-28 779.7 455.8)" fill="#a0a09c"/>
<ellipse cx="785.3" cy="455.5" rx="3.9" ry="1.9" transform="rotate(-28 785.3 455.5)" fill="#adada9"/>
<ellipse cx="790.9" cy="455.2" rx="3.9" ry="1.9" transform="rotate(-28 790.9 455.2)" fill="#9a9a96"/>
<ellipse cx="796.5" cy="454.8" rx="3.9" ry="1.9" transform="rotate(-28 796.5 454.8)" fill="#a0a09c"/>
<ellipse cx="802.1" cy="454.3" rx="3.9" ry="1.9" transform="rotate(-28 802.1 454.3)" fill="#adada9"/>
<ellipse cx="749.1" cy="460.2" rx="3.9" ry="1.9" transform="rotate(-28 749.1 460.2)" fill="#adada9"/>
<ellipse cx="754.7" cy="460.4" rx="3.9" ry="1.9" transform="rotate(-28 754.7 460.4)" fill="#a7a7a3"/>
<ellipse cx="760.3" cy="460.6" rx="3.9" ry="1.9" transform="rotate(-28 760.3 460.6)" fill="#adada9"/>
<ellipse cx="765.9" cy="460.7" rx="3.9" ry="1.9" transform="rotate(-28 765.9 460.7)" fill="#a7a7a3"/>
<ellipse cx="771.5" cy="460.7" rx="3.9" ry="1.9" transform="rotate(-28 771.5 460.7)" fill="#a7a7a3"/>
<ellipse cx="777.1" cy="460.6" rx="3.9" ry="1.9" transform="rotate(-28 777.1 460.6)" fill="#a7a7a3"/>
<ellipse cx="782.7" cy="460.4" rx="3.9" ry="1.9" transform="rotate(-28 782.7 460.4)" fill="#a0a09c"/>
<ellipse cx="788.3" cy="460.1" rx="3.9" ry="1.9" transform="rotate(-28 788.3 460.1)" fill="#9a9a96"/>
<ellipse cx="793.9" cy="459.8" rx="3.9" ry="1.9" transform="rotate(-28 793.9 459.8)" fill="#a0a09c"/>
<ellipse cx="799.5" cy="459.3" rx="3.9" ry="1.9" transform="rotate(-28 799.5 459.3)" fill="#9a9a96"/>
<ellipse cx="746.0" cy="464.8" rx="3.9" ry="1.9" transform="rotate(-28 746.0 464.8)" fill="#a7a7a3"/>
<ellipse cx="751.6" cy="465.1" rx="3.9" ry="1.9" transform="rotate(-28 751.6 465.1)" fill="#9a9a96"/>
<ellipse cx="757.2" cy="465.3" rx="3.9" ry="1.9" transform="rotate(-28 757.2 465.3)" fill="#9a9a96"/>
<ellipse cx="762.8" cy="465.5" rx="3.9" ry="1.9" transform="rotate(-28 762.8 465.5)" fill="#9a9a96"/>
<ellipse cx="768.4" cy="465.5" rx="3.9" ry="1.9" transform="rotate(-28 768.4 465.5)" fill="#adada9"/>
<ellipse cx="774.0" cy="465.5" rx="3.9" ry="1.9" transform="rotate(-28 774.0 465.5)" fill="#a0a09c"/>
<ellipse cx="779.6" cy="465.4" rx="3.9" ry="1.9" transform="rotate(-28 779.6 465.4)" fill="#a0a09c"/>
<ellipse cx="785.2" cy="465.1" rx="3.9" ry="1.9" transform="rotate(-28 785.2 465.1)" fill="#adada9"/>
<ellipse cx="790.8" cy="464.8" rx="3.9" ry="1.9" transform="rotate(-28 790.8 464.8)" fill="#a0a09c"/>
<ellipse cx="796.4" cy="464.4" rx="3.9" ry="1.9" transform="rotate(-28 796.4 464.4)" fill="#a0a09c"/>
<ellipse cx="802.0" cy="463.9" rx="3.9" ry="1.9" transform="rotate(-28 802.0 463.9)" fill="#9a9a96"/>
<ellipse cx="748.9" cy="469.8" rx="3.9" ry="1.9" transform="rotate(-28 748.9 469.8)" fill="#adada9"/>
<ellipse cx="754.5" cy="470.0" rx="3.9" ry="1.9" transform="rotate(-28 754.5 470.0)" fill="#a7a7a3"/>
<ellipse cx="760.1" cy="470.2" rx="3.9" ry="1.9" transform="rotate(-28 760.1 470.2)" fill="#a0a09c"/>
<ellipse cx="765.7" cy="470.3" rx="3.9" ry="1.9" transform="rotate(-28 765.7 470.3)" fill="#a7a7a3"/>
<ellipse cx="771.3" cy="470.3" rx="3.9" ry="1.9" transform="rotate(-28 771.3 470.3)" fill="#a7a7a3"/>
<ellipse cx="776.9" cy="470.2" rx="3.9" ry="1.9" transform="rotate(-28 776.9 470.2)" fill="#adada9"/>
<ellipse cx="782.5" cy="470.0" rx="3.9" ry="1.9" transform="rotate(-28 782.5 470.0)" fill="#9a9a96"/>
<ellipse cx="788.1" cy="469.7" rx="3.9" ry="1.9" transform="rotate(-28 788.1 469.7)" fill="#a0a09c"/>
<ellipse cx="793.7" cy="469.4" rx="3.9" ry="1.9" transform="rotate(-28 793.7 469.4)" fill="#a7a7a3"/>
<ellipse cx="799.3" cy="468.9" rx="3.9" ry="1.9" transform="rotate(-28 799.3 468.9)" fill="#a7a7a3"/>
<ellipse cx="745.9" cy="474.4" rx="3.9" ry="1.9" transform="rotate(-28 745.9 474.4)" fill="#9a9a96"/>
<ellipse cx="751.5" cy="474.7" rx="3.9" ry="1.9" transform="rotate(-28 751.5 474.7)" fill="#adada9"/>
<ellipse cx="757.1" cy="474.9" rx="3.9" ry="1.9" transform="rotate(-28 757.1 474.9)" fill="#a0a09c"/>
<ellipse cx="762.7" cy="475.1" rx="3.9" ry="1.9" transform="rotate(-28 762.7 475.1)" fill="#adada9"/>
<ellipse cx="768.3" cy="475.1" rx="3.9" ry="1.9" transform="rotate(-28 768.3 475.1)" fill="#a7a7a3"/>
<ellipse cx="773.9" cy="475.1" rx="3.9" ry="1.9" transform="rotate(-28 773.9 475.1)" fill="#9a9a96"/>
<ellipse cx="779.5" cy="475.0" rx="3.9" ry="1.9" transform="rotate(-28 779.5 475.0)" fill="#a0a09c"/>
<ellipse cx="785.1" cy="474.7" rx="3.9" ry="1.9" transform="rotate(-28 785.1 474.7)" fill="#a0a09c"/>
<ellipse cx="790.7" cy="474.4" rx="3.9" ry="1.9" transform="rotate(-28 790.7 474.4)" fill="#adada9"/>
<ellipse cx="796.3" cy="474.0" rx="3.9" ry="1.9" transform="rotate(-28 796.3 474.0)" fill="#9a9a96"/>
<ellipse cx="801.9" cy="473.5" rx="3.9" ry="1.9" transform="rotate(-28 801.9 473.5)" fill="#a7a7a3"/>
<ellipse cx="748.8" cy="479.4" rx="3.9" ry="1.9" transform="rotate(-28 748.8 479.4)" fill="#adada9"/>
<ellipse cx="754.4" cy="479.6" rx="3.9" ry="1.9" transform="rotate(-28 754.4 479.6)" fill="#adada9"/>
<ellipse cx="760.0" cy="479.8" rx="3.9" ry="1.9" transform="rotate(-28 760.0 479.8)" fill="#adada9"/>
<ellipse cx="765.6" cy="479.9" rx="3.9" ry="1.9" transform="rotate(-28 765.6 479.9)" fill="#adada9"/>
<ellipse cx="771.2" cy="479.9" rx="3.9" ry="1.9" transform="rotate(-28 771.2 479.9)" fill="#a0a09c"/>
<ellipse cx="776.8" cy="479.8" rx="3.9" ry="1.9" transform="rotate(-28 776.8 479.8)" fill="#a7a7a3"/>
<ellipse cx="782.4" cy="479.6" rx="3.9" ry="1.9" transform="rotate(-28 782.4 479.6)" fill="#adada9"/>
<ellipse cx="788.0" cy="479.3" rx="3.9" ry="1.9" transform="rotate(-28 788.0 479.3)" fill="#a0a09c"/>
<ellipse cx="793.6" cy="479.0" rx="3.9" ry="1.9" transform="rotate(-28 793.6 479.0)" fill="#adada9"/>
<ellipse cx="799.2" cy="478.5" rx="3.9" ry="1.9" transform="rotate(-28 799.2 478.5)" fill="#a0a09c"/>
<ellipse cx="745.8" cy="484.0" rx="3.9" ry="1.9" transform="rotate(-28 745.8 484.0)" fill="#a7a7a3"/>
<ellipse cx="751.4" cy="484.3" rx="3.9" ry="1.9" transform="rotate(-28 751.4 484.3)" fill="#adada9"/>
<ellipse cx="757.0" cy="484.5" rx="3.9" ry="1.9" transform="rotate(-28 757.0 484.5)" fill="#9a9a96"/>
<ellipse cx="762.6" cy="484.7" rx="3.9" ry="1.9" transform="rotate(-28 762.6 484.7)" fill="#a7a7a3"/>
<ellipse cx="768.2" cy="484.7" rx="3.9" ry="1.9" transform="rotate(-28 768.2 484.7)" fill="#9a9a96"/>
<ellipse cx="773.8" cy="484.7" rx="3.9" ry="1.9" transform="rotate(-28 773.8 484.7)" fill="#adada9"/>
<ellipse cx="779.4" cy="484.6" rx="3.9" ry="1.9" transform="rotate(-28 779.4 484.6)" fill="#a0a09c"/>
<ellipse cx="785.0" cy="484.3" rx="3.9" ry="1.9" transform="rotate(-28 785.0 484.3)" fill="#a0a09c"/>
<ellipse cx="790.6" cy="484.0" rx="3.9" ry="1.9" transform="rotate(-28 790.6 484.0)" fill="#a7a7a3"/>
<ellipse cx="796.2" cy="483.6" rx="3.9" ry="1.9" transform="rotate(-28 796.2 483.6)" fill="#a7a7a3"/>
<ellipse cx="801.8" cy="483.1" rx="3.9" ry="1.9" transform="rotate(-28 801.8 483.1)" fill="#adada9"/>
<ellipse cx="748.7" cy="489.0" rx="3.9" ry="1.9" transform="rotate(-28 748.7 489.0)" fill="#a7a7a3"/>
<ellipse cx="754.3" cy="489.2" rx="3.9" ry="1.9" transform="rotate(-28 754.3 489.2)" fill="#a0a09c"/>
<ellipse cx="759.9" cy="489.4" rx="3.9" ry="1.9" transform="rotate(-28 759.9 489.4)" fill="#9a9a96"/>
<ellipse cx="765.5" cy="489.5" rx="3.9" ry="1.9" transform="rotate(-28 765.5 489.5)" fill="#a7a7a3"/>
<ellipse cx="771.1" cy="489.5" rx="3.9" ry="1.9" transform="rotate(-28 771.1 489.5)" fill="#9a9a96"/>
<ellipse cx="776.7" cy="489.4" rx="3.9" ry="1.9" transform="rotate(-28 776.7 489.4)" fill="#a7a7a3"/>
<ellipse cx="782.3" cy="489.2" rx="3.9" ry="1.9" transform="rotate(-28 782.3 489.2)" fill="#adada9"/>
<ellipse cx="787.9" cy="488.9" rx="3.9" ry="1.9" transform="rotate(-28 787.9 488.9)" fill="#adada9"/>
<ellipse cx="793.5" cy="488.5" rx="3.9" ry="1.9" transform="rotate(-28 793.5 488.5)" fill="#a0a09c"/>
<ellipse cx="799.1" cy="488.1" rx="3.9" ry="1.9" transform="rotate(-28 799.1 488.1)" fill="#a7a7a3"/>
<ellipse cx="745.6" cy="493.6" rx="3.9" ry="1.9" transform="rotate(-28 745.6 493.6)" fill="#a0a09c"/>
<ellipse cx="751.2" cy="493.9" rx="3.9" ry="1.9" transform="rotate(-28 751.2 493.9)" fill="#9a9a96"/>
<ellipse cx="756.8" cy="494.1" rx="3.9" ry="1.9" transform="rotate(-28 756.8 494.1)" fill="#adada9"/>
<ellipse cx="762.4" cy="494.3" rx="3.9" ry="1.9" transform="rotate(-28 762.4 494.3)" fill="#9a9a96"/>
<ellipse cx="768.0" cy="494.3" rx="3.9" ry="1.9" transform="rotate(-28 768.0 494.3)" fill="#a0a09c"/>
<ellipse cx="773.6" cy="494.3" rx="3.9" ry="1.9" transform="rotate(-28 773.6 494.3)" fill="#adada9"/>
<ellipse cx="779.2" cy="494.2" rx="3.9" ry="1.9" transform="rotate(-28 779.2 494.2)" fill="#a0a09c"/>
<ellipse cx="784.8" cy="493.9" rx="3.9" ry="1.9" transform="rotate(-28 784.8 493.9)" fill="#a7a7a3"/>
<ellipse cx="790.4" cy="493.6" rx="3.9" ry="1.9" transform="rotate(-28 790.4 493.6)" fill="#9a9a96"/>
<ellipse cx="796.0" cy="493.1" rx="3.9" ry="1.9" transform="rotate(-28 796.0 493.1)" fill="#a0a09c"/>
<ellipse cx="801.6" cy="492.7" rx="3.9" ry="1.9" transform="rotate(-28 801.6 492.7)" fill="#a7a7a3"/>
<ellipse cx="748.6" cy="498.6" rx="3.9" ry="1.9" transform="rotate(-28 748.6 498.6)" fill="#a0a09c"/>
<ellipse cx="754.2" cy="498.8" rx="3.9" ry="1.9" transform="rotate(-28 754.2 498.8)" fill="#a7a7a3"/>
<ellipse cx="759.8" cy="499.0" rx="3.9" ry="1.9" transform="rotate(-28 759.8 499.0)" fill="#a7a7a3"/>
<ellipse cx="765.4" cy="499.1" rx="3.9" ry="1.9" transform="rotate(-28 765.4 499.1)" fill="#a7a7a3"/>
<ellipse cx="771.0" cy="499.1" rx="3.9" ry="1.9" transform="rotate(-28 771.0 499.1)" fill="#a0a09c"/>
<ellipse cx="776.6" cy="499.0" rx="3.9" ry="1.9" transform="rotate(-28 776.6 499.0)" fill="#adada9"/>
<ellipse cx="782.2" cy="498.8" rx="3.9" ry="1.9" transform="rotate(-28 782.2 498.8)" fill="#a7a7a3"/>
<ellipse cx="787.8" cy="498.5" rx="3.9" ry="1.9" transform="rotate(-28 787.8 498.5)" fill="#9a9a96"/>
<ellipse cx="793.4" cy="498.1" rx="3.9" ry="1.9" transform="rotate(-28 793.4 498.1)" fill="#9a9a96"/>
<ellipse cx="799.0" cy="497.7" rx="3.9" ry="1.9" transform="rotate(-28 799.0 497.7)" fill="#a7a7a3"/>
<ellipse cx="745.5" cy="503.2" rx="3.9" ry="1.9" transform="rotate(-28 745.5 503.2)" fill="#a7a7a3"/>
<ellipse cx="751.1" cy="503.5" rx="3.9" ry="1.9" transform="rotate(-28 751.1 503.5)" fill="#a0a09c"/>
<ellipse cx="756.7" cy="503.7" rx="3.9" ry="1.9" transform="rotate(-28 756.7 503.7)" fill="#9a9a96"/>
<ellipse cx="762.3" cy="503.9" rx="3.9" ry="1.9" transform="rotate(-28 762.3 503.9)" fill="#adada9"/>
<ellipse cx="767.9" cy="503.9" rx="3.9" ry="1.9" transform="rotate(-28 767.9 503.9)" fill="#a7a7a3"/>
<ellipse cx="773.5" cy="503.9" rx="3.9" ry="1.9" transform="rotate(-28 773.5 503.9)" fill="#9a9a96"/>
<ellipse cx="779.1" cy="503.8" rx="3.9" ry="1.9" transform="rotate(-28 779.1 503.8)" fill="#a7a7a3"/>
<ellipse cx="784.7" cy="503.5" rx="3.9" ry="1.9" transform="rotate(-28 784.7 503.5)" fill="#a7a7a3"/>
<ellipse cx="790.3" cy="503.2" rx="3.9" ry="1.9" transform="rotate(-28 790.3 503.2)" fill="#a7a7a3"/>
<ellipse cx="795.9" cy="502.7" rx="3.9" ry="1.9" transform="rotate(-28 795.9 502.7)" fill="#9a9a96"/>
<ellipse cx="801.5" cy="502.3" rx="3.9" ry="1.9" transform="rotate(-28 801.5 502.3)" fill="#adada9"/>
<ellipse cx="748.5" cy="508.2" rx="3.9" ry="1.9" transform="rotate(-28 748.5 508.2)" fill="#a7a7a3"/>
<ellipse cx="754.1" cy="508.4" rx="3.9" ry="1.9" transform="rotate(-28 754.1 508.4)" fill="#adada9"/>
<ellipse cx="759.7" cy="508.6" rx="3.9" ry="1.9" transform="rotate(-28 759.7 508.6)" fill="#a0a09c"/>
<ellipse cx="765.3" cy="508.7" rx="3.9" ry="1.9" transform="rotate(-28 765.3 508.7)" fill="#a0a09c"/>
<ellipse cx="770.9" cy="508.7" rx="3.9" ry="1.9" transform="rotate(-28 770.9 508.7)" fill="#a0a09c"/>
<ellipse cx="776.5" cy="508.6" rx="3.9" ry="1.9" transform="rotate(-28 776.5 508.6)" fill="#9a9a96"/>
<ellipse cx="782.1" cy="508.4" rx="3.9" ry="1.9" transform="rotate(-28 782.1 508.4)" fill="#9a9a96"/>
<ellipse cx="787.7" cy="508.1" rx="3.9" ry="1.9" transform="rotate(-28 787.7 508.1)" fill="#9a9a96"/>
<ellipse cx="793.3" cy="507.7" rx="3.9" ry="1.9" transform="rotate(-28 793.3 507.7)" fill="#a7a7a3"/>
<ellipse cx="798.9" cy="507.3" rx="3.9" ry="1.9" transform="rotate(-28 798.9 507.3)" fill="#9a9a96"/>
<ellipse cx="745.4" cy="512.8" rx="3.9" ry="1.9" transform="rotate(-28 745.4 512.8)" fill="#adada9"/>
<ellipse cx="751.0" cy="513.1" rx="3.9" ry="1.9" transform="rotate(-28 751.0 513.1)" fill="#a7a7a3"/>
<ellipse cx="756.6" cy="513.3" rx="3.9" ry="1.9" transform="rotate(-28 756.6 513.3)" fill="#a0a09c"/>
<ellipse cx="762.2" cy="513.5" rx="3.9" ry="1.9" transform="rotate(-28 762.2 513.5)" fill="#a7a7a3"/>
<ellipse cx="767.8" cy="513.5" rx="3.9" ry="1.9" transform="rotate(-28 767.8 513.5)" fill="#a0a09c"/>
<ellipse cx="773.4" cy="513.5" rx="3.9" ry="1.9" transform="rotate(-28 773.4 513.5)" fill="#adada9"/>
<ellipse cx="779.0" cy="513.3" rx="3.9" ry="1.9" transform="rotate(-28 779.0 513.3)" fill="#adada9"/>
<ellipse cx="784.6" cy="513.1" rx="3.9" ry="1.9" transform="rotate(-28 784.6 513.1)" fill="#adada9"/>
<ellipse cx="790.2" cy="512.7" rx="3.9" ry="1.9" transform="rotate(-28 790.2 512.7)" fill="#a0a09c"/>
<ellipse cx="795.8" cy="512.3" rx="3.9" ry="1.9" transform="rotate(-28 795.8 512.3)" fill="#a7a7a3"/>
<ellipse cx="801.4" cy="511.9" rx="3.9" ry="1.9" transform="rotate(-28 801.4 511.9)" fill="#9a9a96"/>
<ellipse cx="748.3" cy="517.8" rx="3.9" ry="1.9" transform="rotate(-28 748.3 517.8)" fill="#a7a7a3"/>
<ellipse cx="753.9" cy="518.0" rx="3.9" ry="1.9" transform="rotate(-28 753.9 518.0)" fill="#9a9a96"/>
<ellipse cx="759.5" cy="518.2" rx="3.9" ry="1.9" transform="rotate(-28 759.5 518.2)" fill="#adada9"/>
<ellipse cx="765.1" cy="518.3" rx="3.9" ry="1.9" transform="rotate(-28 765.1 518.3)" fill="#a7a7a3"/>
<ellipse cx="770.7" cy="518.3" rx="3.9" ry="1.9" transform="rotate(-28 770.7 518.3)" fill="#a0a09c"/>
<ellipse cx="776.3" cy="518.2" rx="3.9" ry="1.9" transform="rotate(-28 776.3 518.2)" fill="#9a9a96"/>
<ellipse cx="781.9" cy="518.0" rx="3.9" ry="1.9" transform="rotate(-28 781.9 518.0)" fill="#adada9"/>
<ellipse cx="787.5" cy="517.7" rx="3.9" ry="1.9" transform="rotate(-28 787.5 517.7)" fill="#adada9"/>
<ellipse cx="793.1" cy="517.3" rx="3.9" ry="1.9" transform="rotate(-28 793.1 517.3)" fill="#9a9a96"/>
<ellipse cx="798.7" cy="516.9" rx="3.9" ry="1.9" transform="rotate(-28 798.7 516.9)" fill="#9a9a96"/>
<ellipse cx="745.3" cy="522.4" rx="3.9" ry="1.9" transform="rotate(-28 745.3 522.4)" fill="#9a9a96"/>
<ellipse cx="750.9" cy="522.7" rx="3.9" ry="1.9" transform="rotate(-28 750.9 522.7)" fill="#a7a7a3"/>
<ellipse cx="756.5" cy="522.9" rx="3.9" ry="1.9" transform="rotate(-28 756.5 522.9)" fill="#a0a09c"/>
<ellipse cx="762.1" cy="523.1" rx="3.9" ry="1.9" transform="rotate(-28 762.1 523.1)" fill="#adada9"/>
<ellipse cx="767.7" cy="523.1" rx="3.9" ry="1.9" transform="rotate(-28 767.7 523.1)" fill="#a7a7a3"/>
<ellipse cx="773.3" cy="523.1" rx="3.9" ry="1.9" transform="rotate(-28 773.3 523.1)" fill="#9a9a96"/>
<ellipse cx="778.9" cy="522.9" rx="3.9" ry="1.9" transform="rotate(-28 778.9 522.9)" fill="#a7a7a3"/>
<ellipse cx="784.5" cy="522.7" rx="3.9" ry="1.9" transform="rotate(-28 784.5 522.7)" fill="#adada9"/>
<ellipse cx="790.1" cy="522.3" rx="3.9" ry="1.9" transform="rotate(-28 790.1 522.3)" fill="#9a9a96"/>
<ellipse cx="795.7" cy="521.9" rx="3.9" ry="1.9" transform="rotate(-28 795.7 521.9)" fill="#a7a7a3"/>
<ellipse cx="748.2" cy="527.4" rx="3.9" ry="1.9" transform="rotate(-28 748.2 527.4)" fill="#9a9a96"/>
<ellipse cx="753.8" cy="527.6" rx="3.9" ry="1.9" transform="rotate(-28 753.8 527.6)" fill="#adada9"/>
<ellipse cx="759.4" cy="527.8" rx="3.9" ry="1.9" transform="rotate(-28 759.4 527.8)" fill="#9a9a96"/>
<ellipse cx="765.0" cy="527.9" rx="3.9" ry="1.9" transform="rotate(-28 765.0 527.9)" fill="#a0a09c"/>
<ellipse cx="770.6" cy="527.9" rx="3.9" ry="1.9" transform="rotate(-28 770.6 527.9)" fill="#a0a09c"/>
<ellipse cx="776.2" cy="527.8" rx="3.9" ry="1.9" transform="rotate(-28 776.2 527.8)" fill="#a7a7a3"/>
<ellipse cx="781.8" cy="527.6" rx="3.9" ry="1.9" transform="rotate(-28 781.8 527.6)" fill="#a7a7a3"/>
<ellipse cx="787.4" cy="527.3" rx="3.9" ry="1.9" transform="rotate(-28 787.4 527.3)" fill="#a0a09c"/>
<ellipse cx="793.0" cy="526.9" rx="3.9" ry="1.9" transform="rotate(-28 793.0 526.9)" fill="#adada9"/>
<ellipse cx="798.6" cy="526.5" rx="3.9" ry="1.9" transform="rotate(-28 798.6 526.5)" fill="#adada9"/>
<ellipse cx="745.2" cy="532.0" rx="3.9" ry="1.9" transform="rotate(-28 745.2 532.0)" fill="#a0a09c"/>
<ellipse cx="750.8" cy="532.3" rx="3.9" ry="1.9" transform="rotate(-28 750.8 532.3)" fill="#adada9"/>
<ellipse cx="756.4" cy="532.5" rx="3.9" ry="1.9" transform="rotate(-28 756.4 532.5)" fill="#a7a7a3"/>
<ellipse cx="762.0" cy="532.7" rx="3.9" ry="1.9" transform="rotate(-28 762.0 532.7)" fill="#adada9"/>
<ellipse cx="767.6" cy="532.7" rx="3.9" ry="1.9" transform="rotate(-28 767.6 532.7)" fill="#a0a09c"/>
<ellipse cx="773.2" cy="532.7" rx="3.9" ry="1.9" transform="rotate(-28 773.2 532.7)" fill="#9a9a96"/>
<ellipse cx="778.8" cy="532.5" rx="3.9" ry="1.9" transform="rotate(-28 778.8 532.5)" fill="#9a9a96"/>
<ellipse cx="784.4" cy="532.3" rx="3.9" ry="1.9" transform="rotate(-28 784.4 532.3)" fill="#9a9a96"/>
<ellipse cx="790.0" cy="531.9" rx="3.9" ry="1.9" transform="rotate(-28 790.0 531.9)" fill="#a7a7a3"/>
<ellipse cx="795.6" cy="531.5" rx="3.9" ry="1.9" transform="rotate(-28 795.6 531.5)" fill="#a0a09c"/>
<ellipse cx="748.1" cy="537.0" rx="3.9" ry="1.9" transform="rotate(-28 748.1 537.0)" fill="#a7a7a3"/>
<ellipse cx="753.7" cy="537.2" rx="3.9" ry="1.9" transform="rotate(-28 753.7 537.2)" fill="#9a9a96"/>
<ellipse cx="759.3" cy="537.4" rx="3.9" ry="1.9" transform="rotate(-28 759.3 537.4)" fill="#9a9a96"/>
<ellipse cx="764.9" cy="537.5" rx="3.9" ry="1.9" transform="rotate(-28 764.9 537.5)" fill="#9a9a96"/>
<ellipse cx="770.5" cy="537.5" rx="3.9" ry="1.9" transform="rotate(-28 770.5 537.5)" fill="#adada9"/>
<ellipse cx="776.1" cy="537.4" rx="3.9" ry="1.9" transform="rotate(-28 776.1 537.4)" fill="#a0a09c"/>
<ellipse cx="781.7" cy="537.2" rx="3.9" ry="1.9" transform="rotate(-28 781.7 537.2)" fill="#9a9a96"/>
<ellipse cx="787.3" cy="536.9" rx="3.9" ry="1.9" transform="rotate(-28 787.3 536.9)" fill="#adada9"/>
<ellipse cx="792.9" cy="536.5" rx="3.9" ry="1.9" transform="rotate(-28 792.9 536.5)" fill="#9a9a96"/>
<ellipse cx="798.5" cy="536.1" rx="3.9" ry="1.9" transform="rotate(-28 798.5 536.1)" fill="#adada9"/>
<ellipse cx="745.0" cy="541.6" rx="3.9" ry="1.9" transform="rotate(-28 745.0 541.6)" fill="#a7a7a3"/>
<ellipse cx="750.6" cy="541.9" rx="3.9" ry="1.9" transform="rotate(-28 750.6 541.9)" fill="#adada9"/>
<ellipse cx="756.2" cy="542.1" rx="3.9" ry="1.9" transform="rotate(-28 756.2 542.1)" fill="#a7a7a3"/>
<ellipse cx="761.8" cy="542.3" rx="3.9" ry="1.9" transform="rotate(-28 761.8 542.3)" fill="#adada9"/>
<ellipse cx="767.4" cy="542.3" rx="3.9" ry="1.9" transform="rotate(-28 767.4 542.3)" fill="#adada9"/>
<ellipse cx="773.0" cy="542.3" rx="3.9" ry="1.9" transform="rotate(-28 773.0 542.3)" fill="#9a9a96"/>
<ellipse cx="778.6" cy="542.1" rx="3.9" ry="1.9" transform="rotate(-28 778.6 542.1)" fill="#a7a7a3"/>
<ellipse cx="784.2" cy="541.9" rx="3.9" ry="1.9" transform="rotate(-28 784.2 541.9)" fill="#a0a09c"/>
<ellipse cx="789.8" cy="541.5" rx="3.9" ry="1.9" transform="rotate(-28 789.8 541.5)" fill="#a7a7a3"/>
<ellipse cx="795.4" cy="541.1" rx="3.9" ry="1.9" transform="rotate(-28 795.4 541.1)" fill="#adada9"/>
<ellipse cx="748.0" cy="546.6" rx="3.9" ry="1.9" transform="rotate(-28 748.0 546.6)" fill="#adada9"/>
<ellipse cx="753.6" cy="546.8" rx="3.9" ry="1.9" transform="rotate(-28 753.6 546.8)" fill="#adada9"/>
<ellipse cx="759.2" cy="547.0" rx="3.9" ry="1.9" transform="rotate(-28 759.2 547.0)" fill="#a7a7a3"/>
<ellipse cx="764.8" cy="547.1" rx="3.9" ry="1.9" transform="rotate(-28 764.8 547.1)" fill="#9a9a96"/>
<ellipse cx="770.4" cy="547.1" rx="3.9" ry="1.9" transform="rotate(-28 770.4 547.1)" fill="#9a9a96"/>
<ellipse cx="776.0" cy="547.0" rx="3.9" ry="1.9" transform="rotate(-28 776.0 547.0)" fill="#a7a7a3"/>
<ellipse cx="781.6" cy="546.8" rx="3.9" ry="1.9" transform="rotate(-28 781.6 546.8)" fill="#adada9"/>
<ellipse cx="787.2" cy="546.5" rx="3.9" ry="1.9" transform="rotate(-28 787.2 546.5)" fill="#9a9a96"/>
<ellipse cx="792.8" cy="546.1" rx="3.9" ry="1.9" transform="rotate(-28 792.8 546.1)" fill="#adada9"/>
<ellipse cx="798.4" cy="545.7" rx="3.9" ry="1.9" transform="rotate(-28 798.4 545.7)" fill="#a7a7a3"/>
<ellipse cx="744.9" cy="551.2" rx="3.9" ry="1.9" transform="rotate(-28 744.9 551.2)" fill="#adada9"/>
<ellipse cx="750.5" cy="551.5" rx="3.9" ry="1.9" transform="rotate(-28 750.5 551.5)" fill="#a7a7a3"/>
<ellipse cx="756.1" cy="551.7" rx="3.9" ry="1.9" transform="rotate(-28 756.1 551.7)" fill="#a7a7a3"/>
<ellipse cx="761.7" cy="551.9" rx="3.9" ry="1.9" transform="rotate(-28 761.7 551.9)" fill="#adada9"/>
<ellipse cx="767.3" cy="551.9" rx="3.9" ry="1.9" transform="rotate(-28 767.3 551.9)" fill="#a0a09c"/>
<ellipse cx="772.9" cy="551.9" rx="3.9" ry="1.9" transform="rotate(-28 772.9 551.9)" fill="#a0a09c"/>
<ellipse cx="778.5" cy="551.7" rx="3.9" ry="1.9" transform="rotate(-28 778.5 551.7)" fill="#adada9"/>
<ellipse cx="784.1" cy="551.5" rx="3.9" ry="1.9" transform="rotate(-28 784.1 551.5)" fill="#9a9a96"/>
<ellipse cx="789.7" cy="551.1" rx="3.9" ry="1.9" transform="rotate(-28 789.7 551.1)" fill="#adada9"/>
<ellipse cx="795.3" cy="550.7" rx="3.9" ry="1.9" transform="rotate(-28 795.3 550.7)" fill="#a0a09c"/>
<ellipse cx="747.9" cy="556.2" rx="3.9" ry="1.9" transform="rotate(-28 747.9 556.2)" fill="#adada9"/>
<ellipse cx="753.5" cy="556.4" rx="3.9" ry="1.9" transform="rotate(-28 753.5 556.4)" fill="#9a9a96"/>
<ellipse cx="759.1" cy="556.6" rx="3.9" ry="1.9" transform="rotate(-28 759.1 556.6)" fill="#a7a7a3"/>
<ellipse cx="764.7" cy="556.7" rx="3.9" ry="1.9" transform="rotate(-28 764.7 556.7)" fill="#9a9a96"/>
<ellipse cx="770.3" cy="556.7" rx="3.9" ry="1.9" transform="rotate(-28 770.3 556.7)" fill="#a0a09c"/>
<ellipse cx="775.9" cy="556.6" rx="3.9" ry="1.9" transform="rotate(-28 775.9 556.6)" fill="#a7a7a3"/>
<ellipse cx="781.5" cy="556.4" rx="3.9" ry="1.9" transform="rotate(-28 781.5 556.4)" fill="#a7a7a3"/>
<ellipse cx="787.1" cy="556.1" rx="3.9" ry="1.9" transform="rotate(-28 787.1 556.1)" fill="#9a9a96"/>
<ellipse cx="792.7" cy="555.7" rx="3.9" ry="1.9" transform="rotate(-28 792.7 555.7)" fill="#9a9a96"/>
<ellipse cx="798.3" cy="555.3" rx="3.9" ry="1.9" transform="rotate(-28 798.3 555.3)" fill="#a0a09c"/>
<ellipse cx="744.8" cy="560.8" rx="3.9" ry="1.9" transform="rotate(-28 744.8 560.8)" fill="#adada9"/>
<ellipse cx="750.4" cy="561.1" rx="3.9" ry="1.9" transform="rotate(-28 750.4 561.1)" fill="#9a9a96"/>
<ellipse cx="756.0" cy="561.3" rx="3.9" ry="1.9" transform="rotate(-28 756.0 561.3)" fill="#a7a7a3"/>
<ellipse cx="761.6" cy="561.5" rx="3.9" ry="1.9" transform="rotate(-28 761.6 561.5)" fill="#a0a09c"/>
<ellipse cx="767.2" cy="561.5" rx="3.9" ry="1.9" transform="rotate(-28 767.2 561.5)" fill="#a0a09c"/>
<ellipse cx="772.8" cy="561.5" rx="3.9" ry="1.9" transform="rotate(-28 772.8 561.5)" fill="#9a9a96"/>
<ellipse cx="778.4" cy="561.3" rx="3.9" ry="1.9" transform="rotate(-28 778.4 561.3)" fill="#9a9a96"/>
<ellipse cx="784.0" cy="561.1" rx="3.9" ry="1.9" transform="rotate(-28 784.0 561.1)" fill="#adada9"/>
<ellipse cx="789.6" cy="560.7" rx="3.9" ry="1.9" transform="rotate(-28 789.6 560.7)" fill="#adada9"/>
<ellipse cx="795.2" cy="560.3" rx="3.9" ry="1.9" transform="rotate(-28 795.2 560.3)" fill="#adada9"/>
<ellipse cx="747.7" cy="565.8" rx="3.9" ry="1.9" transform="rotate(-28 747.7 565.8)" fill="#adada9"/>
<ellipse cx="753.3" cy="566.0" rx="3.9" ry="1.9" transform="rotate(-28 753.3 566.0)" fill="#adada9"/>
<ellipse cx="758.9" cy="566.2" rx="3.9" ry="1.9" transform="rotate(-28 758.9 566.2)" fill="#9a9a96"/>
<ellipse cx="764.5" cy="566.3" rx="3.9" ry="1.9" transform="rotate(-28 764.5 566.3)" fill="#a0a09c"/>
<ellipse cx="770.1" cy="566.3" rx="3.9" ry="1.9" transform="rotate(-28 770.1 566.3)" fill="#adada9"/>
<ellipse cx="775.7" cy="566.2" rx="3.9" ry="1.9" transform="rotate(-28 775.7 566.2)" fill="#9a9a96"/>
<ellipse cx="781.3" cy="566.0" rx="3.9" ry="1.9" transform="rotate(-28 781.3 566.0)" fill="#9a9a96"/>
<ellipse cx="786.9" cy="565.7" rx="3.9" ry="1.9" transform="rotate(-28 786.9 565.7)" fill="#a7a7a3"/>
<ellipse cx="792.5" cy="565.3" rx="3.9" ry="1.9" transform="rotate(-28 792.5 565.3)" fill="#a0a09c"/>
<ellipse cx="798.1" cy="564.9" rx="3.9" ry="1.9" transform="rotate(-28 798.1 564.9)" fill="#a0a09c"/>
<ellipse cx="744.7" cy="570.4" rx="3.9" ry="1.9" transform="rotate(-28 744.7 570.4)" fill="#a7a7a3"/>
<ellipse cx="750.3" cy="570.7" rx="3.9" ry="1.9" transform="rotate(-28 750.3 570.7)" fill="#a0a09c"/>
<ellipse cx="755.9" cy="570.9" rx="3.9" ry="1.9" transform="rotate(-28 755.9 570.9)" fill="#9a9a96"/>
<ellipse cx="761.5" cy="571.1" rx="3.9" ry="1.9" transform="rotate(-28 761.5 571.1)" fill="#a0a09c"/>
<ellipse cx="767.1" cy="571.1" rx="3.9" ry="1.9" transform="rotate(-28 767.1 571.1)" fill="#9a9a96"/>
<ellipse cx="772.7" cy="571.1" rx="3.9" ry="1.9" transform="rotate(-28 772.7 571.1)" fill="#adada9"/>
<ellipse cx="778.3" cy="570.9" rx="3.9" ry="1.9" transform="rotate(-28 778.3 570.9)" fill="#9a9a96"/>
<ellipse cx="783.9" cy="570.7" rx="3.9" ry="1.9" transform="rotate(-28 783.9 570.7)" fill="#9a9a96"/>
<ellipse cx="789.5" cy="570.3" rx="3.9" ry="1.9" transform="rotate(-28 789.5 570.3)" fill="#a0a09c"/>
<ellipse cx="795.1" cy="569.9" rx="3.9" ry="1.9" transform="rotate(-28 795.1 569.9)" fill="#a0a09c"/>
<ellipse cx="747.6" cy="575.4" rx="3.9" ry="1.9" transform="rotate(-28 747.6 575.4)" fill="#a0a09c"/>
<ellipse cx="753.2" cy="575.6" rx="3.9" ry="1.9" transform="rotate(-28 753.2 575.6)" fill="#a7a7a3"/>
<ellipse cx="758.8" cy="575.8" rx="3.9" ry="1.9" transform="rotate(-28 758.8 575.8)" fill="#a0a09c"/>
<ellipse cx="764.4" cy="575.9" rx="3.9" ry="1.9" transform="rotate(-28 764.4 575.9)" fill="#adada9"/>
<ellipse cx="770.0" cy="575.9" rx="3.9" ry="1.9" transform="rotate(-28 770.0 575.9)" fill="#a7a7a3"/>
<ellipse cx="775.6" cy="575.8" rx="3.9" ry="1.9" transform="rotate(-28 775.6 575.8)" fill="#adada9"/>
<ellipse cx="781.2" cy="575.6" rx="3.9" ry="1.9" transform="rotate(-28 781.2 575.6)" fill="#a0a09c"/>
<ellipse cx="786.8" cy="575.3" rx="3.9" ry="1.9" transform="rotate(-28 786.8 575.3)" fill="#adada9"/>
<ellipse cx="792.4" cy="574.9" rx="3.9" ry="1.9" transform="rotate(-28 792.4 574.9)" fill="#adada9"/>
<ellipse cx="798.0" cy="574.5" rx="3.9" ry="1.9" transform="rotate(-28 798.0 574.5)" fill="#a0a09c"/>
<ellipse cx="744.6" cy="580.0" rx="3.9" ry="1.9" transform="rotate(-28 744.6 580.0)" fill="#a7a7a3"/>
<ellipse cx="750.2" cy="580.3" rx="3.9" ry="1.9" transform="rotate(-28 750.2 580.3)" fill="#9a9a96"/>
<ellipse cx="755.8" cy="580.5" rx="3.9" ry="1.9" transform="rotate(-28 755.8 580.5)" fill="#9a9a96"/>
<ellipse cx="761.4" cy="580.7" rx="3.9" ry="1.9" transform="rotate(-28 761.4 580.7)" fill="#9a9a96"/>
<ellipse cx="767.0" cy="580.7" rx="3.9" ry="1.9" transform="rotate(-28 767.0 580.7)" fill="#a0a09c"/>
<ellipse cx="772.6" cy="580.7" rx="3.9" ry="1.9" transform="rotate(-28 772.6 580.7)" fill="#9a9a96"/>
<ellipse cx="778.2" cy="580.5" rx="3.9" ry="1.9" transform="rotate(-28 778.2 580.5)" fill="#adada9"/>
<ellipse cx="783.8" cy="580.3" rx="3.9" ry="1.9" transform="rotate(-28 783.8 580.3)" fill="#adada9"/>
<ellipse cx="789.4" cy="579.9" rx="3.9" ry="1.9" transform="rotate(-28 789.4 579.9)" fill="#a7a7a3"/>
<ellipse cx="795.0" cy="579.5" rx="3.9" ry="1.9" transform="rotate(-28 795.0 579.5)" fill="#9a9a96"/>
<ellipse cx="747.5" cy="585.0" rx="3.9" ry="1.9" transform="rotate(-28 747.5 585.0)" fill="#adada9"/>
<ellipse cx="753.1" cy="585.2" rx="3.9" ry="1.9" transform="rotate(-28 753.1 585.2)" fill="#adada9"/>
<ellipse cx="758.7" cy="585.4" rx="3.9" ry="1.9" transform="rotate(-28 758.7 585.4)" fill="#a0a09c"/>
<ellipse cx="764.3" cy="585.5" rx="3.9" ry="1.9" transform="rotate(-28 764.3 585.5)" fill="#a0a09c"/>
<ellipse cx="769.9" cy="585.5" rx="3.9" ry="1.9" transform="rotate(-28 769.9 585.5)" fill="#a7a7a3"/>
<ellipse cx="775.5" cy="585.4" rx="3.9" ry="1.9" transform="rotate(-28 775.5 585.4)" fill="#adada9"/>
<ellipse cx="781.1" cy="585.2" rx="3.9" ry="1.9" transform="rotate(-28 781.1 585.2)" fill="#a0a09c"/>
<ellipse cx="786.7" cy="584.9" rx="3.9" ry="1.9" transform="rotate(-28 786.7 584.9)" fill="#9a9a96"/>
<ellipse cx="792.3" cy="584.5" rx="3.9" ry="1.9" transform="rotate(-28 792.3 584.5)" fill="#9a9a96"/>
<ellipse cx="797.9" cy="584.1" rx="3.9" ry="1.9" transform="rotate(-28 797.9 584.1)" fill="#9a9a96"/>
<ellipse cx="744.4" cy="589.6" rx="3.9" ry="1.9" transform="rotate(-28 744.4 589.6)" fill="#9a9a96"/>
<ellipse cx="750.0" cy="589.9" rx="3.9" ry="1.9" transform="rotate(-28 750.0 589.9)" fill="#adada9"/>
<ellipse cx="755.6" cy="590.1" rx="3.9" ry="1.9" transform="rotate(-28 755.6 590.1)" fill="#a7a7a3"/>
<ellipse cx="761.2" cy="590.3" rx="3.9" ry="1.9" transform="rotate(-28 761.2 590.3)" fill="#a0a09c"/>
<ellipse cx="766.8" cy="590.3" rx="3.9" ry="1.9" transform="rotate(-28 766.8 590.3)" fill="#a7a7a3"/>
<ellipse cx="772.4" cy="590.3" rx="3.9" ry="1.9" transform="rotate(-28 772.4 590.3)" fill="#9a9a96"/>
<ellipse cx="778.0" cy="590.1" rx="3.9" ry="1.9" transform="rotate(-28 778.0 590.1)" fill="#9a9a96"/>
<ellipse cx="783.6" cy="589.9" rx="3.9" ry="1.9" transform="rotate(-28 783.6 589.9)" fill="#9a9a96"/>
<ellipse cx="789.2" cy="589.5" rx="3.9" ry="1.9" transform="rotate(-28 789.2 589.5)" fill="#a7a7a3"/>
<ellipse cx="794.8" cy="589.1" rx="3.9" ry="1.9" transform="rotate(-28 794.8 589.1)" fill="#a7a7a3"/>
<ellipse cx="747.4" cy="594.6" rx="3.9" ry="1.9" transform="rotate(-28 747.4 594.6)" fill="#9a9a96"/>
<ellipse cx="753.0" cy="594.8" rx="3.9" ry="1.9" transform="rotate(-28 753.0 594.8)" fill="#9a9a96"/>
<ellipse cx="758.6" cy="595.0" rx="3.9" ry="1.9" transform="rotate(-28 758.6 595.0)" fill="#9a9a96"/>
<ellipse cx="764.2" cy="595.1" rx="3.9" ry="1.9" transform="rotate(-28 764.2 595.1)" fill="#a0a09c"/>
<ellipse cx="769.8" cy="595.1" rx="3.9" ry="1.9" transform="rotate(-28 769.8 595.1)" fill="#a7a7a3"/>
<ellipse cx="775.4" cy="595.0" rx="3.9" ry="1.9" transform="rotate(-28 775.4 595.0)" fill="#a0a09c"/>
<ellipse cx="781.0" cy="594.8" rx="3.9" ry="1.9" transform="rotate(-28 781.0 594.8)" fill="#a0a09c"/>
<ellipse cx="786.6" cy="594.5" rx="3.9" ry="1.9" transform="rotate(-28 786.6 594.5)" fill="#a0a09c"/>
<ellipse cx="792.2" cy="594.1" rx="3.9" ry="1.9" transform="rotate(-28 792.2 594.1)" fill="#a7a7a3"/>
<ellipse cx="797.8" cy="593.7" rx="3.9" ry="1.9" transform="rotate(-28 797.8 593.7)" fill="#9a9a96"/>
<ellipse cx="744.3" cy="599.2" rx="3.9" ry="1.9" transform="rotate(-28 744.3 599.2)" fill="#a7a7a3"/>
<ellipse cx="749.9" cy="599.5" rx="3.9" ry="1.9" transform="rotate(-28 749.9 599.5)" fill="#a7a7a3"/>
<ellipse cx="755.5" cy="599.7" rx="3.9" ry="1.9" transform="rotate(-28 755.5 599.7)" fill="#a7a7a3"/>
<ellipse cx="761.1" cy="599.9" rx="3.9" ry="1.9" transform="rotate(-28 761.1 599.9)" fill="#a0a09c"/>
<ellipse cx="766.7" cy="599.9" rx="3.9" ry="1.9" transform="rotate(-28 766.7 599.9)" fill="#a0a09c"/>
<ellipse cx="772.3" cy="599.9" rx="3.9" ry="1.9" transform="rotate(-28 772.3 599.9)" fill="#a7a7a3"/>
<ellipse cx="777.9" cy="599.7" rx="3.9" ry="1.9" transform="rotate(-28 777.9 599.7)" fill="#adada9"/>
<ellipse cx="783.5" cy="599.5" rx="3.9" ry="1.9" transform="rotate(-28 783.5 599.5)" fill="#a0a09c"/>
<ellipse cx="789.1" cy="599.1" rx="3.9" ry="1.9" transform="rotate(-28 789.1 599.1)" fill="#adada9"/>
<ellipse cx="794.7" cy="598.7" rx="3.9" ry="1.9" transform="rotate(-28 794.7 598.7)" fill="#9a9a96"/>
<ellipse cx="747.3" cy="604.2" rx="3.9" ry="1.9" transform="rotate(-28 747.3 604.2)" fill="#a7a7a3"/>
<ellipse cx="752.9" cy="604.4" rx="3.9" ry="1.9" transform="rotate(-28 752.9 604.4)" fill="#a7a7a3"/>
<ellipse cx="758.5" cy="604.6" rx="3.9" ry="1.9" transform="rotate(-28 758.5 604.6)" fill="#a7a7a3"/>
<ellipse cx="764.1" cy="604.7" rx="3.9" ry="1.9" transform="rotate(-28 764.1 604.7)" fill="#adada9"/>
<ellipse cx="769.7" cy="604.7" rx="3.9" ry="1.9" transform="rotate(-28 769.7 604.7)" fill="#a0a09c"/>
<ellipse cx="775.3" cy="604.6" rx="3.9" ry="1.9" transform="rotate(-28 775.3 604.6)" fill="#9a9a96"/>
<ellipse cx="780.9" cy="604.4" rx="3.9" ry="1.9" transform="rotate(-28 780.9 604.4)" fill="#adada9"/>
<ellipse cx="786.5" cy="604.1" rx="3.9" ry="1.9" transform="rotate(-28 786.5 604.1)" fill="#a0a09c"/>
<ellipse cx="792.1" cy="603.7" rx="3.9" ry="1.9" transform="rotate(-28 792.1 603.7)" fill="#a7a7a3"/>
<ellipse cx="797.7" cy="603.2" rx="3.9" ry="1.9" transform="rotate(-28 797.7 603.2)" fill="#a7a7a3"/>
<ellipse cx="744.2" cy="608.8" rx="3.9" ry="1.9" transform="rotate(-28 744.2 608.8)" fill="#adada9"/>
<ellipse cx="749.8" cy="609.1" rx="3.9" ry="1.9" transform="rotate(-28 749.8 609.1)" fill="#9a9a96"/>
<ellipse cx="755.4" cy="609.3" rx="3.9" ry="1.9" transform="rotate(-28 755.4 609.3)" fill="#adada9"/>
<ellipse cx="761.0" cy="609.5" rx="3.9" ry="1.9" transform="rotate(-28 761.0 609.5)" fill="#adada9"/>
<ellipse cx="766.6" cy="609.5" rx="3.9" ry="1.9" transform="rotate(-28 766.6 609.5)" fill="#a0a09c"/>
<ellipse cx="772.2" cy="609.5" rx="3.9" ry="1.9" transform="rotate(-28 772.2 609.5)" fill="#9a9a96"/>
<ellipse cx="777.8" cy="609.3" rx="3.9" ry="1.9" transform="rotate(-28 777.8 609.3)" fill="#a0a09c"/>
<ellipse cx="783.4" cy="609.1" rx="3.9" ry="1.9" transform="rotate(-28 783.4 609.1)" fill="#a0a09c"/>
<ellipse cx="789.0" cy="608.7" rx="3.9" ry="1.9" transform="rotate(-28 789.0 608.7)" fill="#a7a7a3"/>
<ellipse cx="794.6" cy="608.3" rx="3.9" ry="1.9" transform="rotate(-28 794.6 608.3)" fill="#9a9a96"/>
<ellipse cx="747.1" cy="613.8" rx="3.9" ry="1.9" transform="rotate(-28 747.1 613.8)" fill="#adada9"/>
<ellipse cx="752.7" cy="614.0" rx="3.9" ry="1.9" transform="rotate(-28 752.7 614.0)" fill="#a7a7a3"/>
<ellipse cx="758.3" cy="614.2" rx="3.9" ry="1.9" transform="rotate(-28 758.3 614.2)" fill="#a7a7a3"/>
<ellipse cx="763.9" cy="614.3" rx="3.9" ry="1.9" transform="rotate(-28 763.9 614.3)" fill="#a0a09c"/>
<ellipse cx="769.5" cy="614.3" rx="3.9" ry="1.9" transform="rotate(-28 769.5 614.3)" fill="#9a9a96"/>
<ellipse cx="775.1" cy="614.2" rx="3.9" ry="1.9" transform="rotate(-28 775.1 614.2)" fill="#9a9a96"/>
<ellipse cx="780.7" cy="614.0" rx="3.9" ry="1.9" transform="rotate(-28 780.7 614.0)" fill="#a7a7a3"/>
<ellipse cx="786.3" cy="613.7" rx="3.9" ry="1.9" transform="rotate(-28 786.3 613.7)" fill="#adada9"/>
<ellipse cx="791.9" cy="613.3" rx="3.9" ry="1.9" transform="rotate(-28 791.9 613.3)" fill="#a0a09c"/>
<ellipse cx="797.5" cy="612.8" rx="3.9" ry="1.9" transform="rotate(-28 797.5 612.8)" fill="#9a9a96"/>
<ellipse cx="744.1" cy="618.4" rx="3.9" ry="1.9" transform="rotate(-28 744.1 618.4)" fill="#adada9"/>
<ellipse cx="749.7" cy="618.7" rx="3.9" ry="1.9" transform="rotate(-28 749.7 618.7)" fill="#a0a09c"/>
<ellipse cx="755.3" cy="618.9" rx="3.9" ry="1.9" transform="rotate(-28 755.3 618.9)" fill="#9a9a96"/>
<ellipse cx="760.9" cy="619.1" rx="3.9" ry="1.9" transform="rotate(-28 760.9 619.1)" fill="#a7a7a3"/>
<ellipse cx="766.5" cy="619.1" rx="3.9" ry="1.9" transform="rotate(-28 766.5 619.1)" fill="#adada9"/>
<ellipse cx="772.1" cy="619.1" rx="3.9" ry="1.9" transform="rotate(-28 772.1 619.1)" fill="#9a9a96"/>
<ellipse cx="777.7" cy="618.9" rx="3.9" ry="1.9" transform="rotate(-28 777.7 618.9)" fill="#adada9"/>
<ellipse cx="783.3" cy="618.7" rx="3.9" ry="1.9" transform="rotate(-28 783.3 618.7)" fill="#9a9a96"/>
<ellipse cx="788.9" cy="618.3" rx="3.9" ry="1.9" transform="rotate(-28 788.9 618.3)" fill="#a0a09c"/>
<ellipse cx="794.5" cy="617.9" rx="3.9" ry="1.9" transform="rotate(-28 794.5 617.9)" fill="#a7a7a3"/>
<ellipse cx="747.0" cy="623.4" rx="3.9" ry="1.9" transform="rotate(-28 747.0 623.4)" fill="#adada9"/>
<ellipse cx="752.6" cy="623.6" rx="3.9" ry="1.9" transform="rotate(-28 752.6 623.6)" fill="#a7a7a3"/>
<ellipse cx="758.2" cy="623.8" rx="3.9" ry="1.9" transform="rotate(-28 758.2 623.8)" fill="#a0a09c"/>
<ellipse cx="763.8" cy="623.9" rx="3.9" ry="1.9" transform="rotate(-28 763.8 623.9)" fill="#9a9a96"/>
<ellipse cx="769.4" cy="623.9" rx="3.9" ry="1.9" transform="rotate(-28 769.4 623.9)" fill="#a0a09c"/>
<ellipse cx="775.0" cy="623.8" rx="3.9" ry="1.9" transform="rotate(-28 775.0 623.8)" fill="#adada9"/>
<ellipse cx="780.6" cy="623.6" rx="3.9" ry="1.9" transform="rotate(-28 780.6 623.6)" fill="#a0a09c"/>
<ellipse cx="786.2" cy="623.3" rx="3.9" ry="1.9" transform="rotate(-28 786.2 623.3)" fill="#a0a09c"/>
<ellipse cx="791.8" cy="622.9" rx="3.9" ry="1.9" transform="rotate(-28 791.8 622.9)" fill="#9a9a96"/>
<ellipse cx="797.4" cy="622.4" rx="3.9" ry="1.9" transform="rotate(-28 797.4 622.4)" fill="#a0a09c"/>
<ellipse cx="744.0" cy="628.0" rx="3.9" ry="1.9" transform="rotate(-28 744.0 628.0)" fill="#adada9"/>
<ellipse cx="749.6" cy="628.3" rx="3.9" ry="1.9" transform="rotate(-28 749.6 628.3)" fill="#adada9"/>
<ellipse cx="755.2" cy="628.5" rx="3.9" ry="1.9" transform="rotate(-28 755.2 628.5)" fill="#a7a7a3"/>
<ellipse cx="760.8" cy="628.7" rx="3.9" ry="1.9" transform="rotate(-28 760.8 628.7)" fill="#9a9a96"/>
<ellipse cx="766.4" cy="628.7" rx="3.9" ry="1.9" transform="rotate(-28 766.4 628.7)" fill="#a0a09c"/>
<ellipse cx="772.0" cy="628.7" rx="3.9" ry="1.9" transform="rotate(-28 772.0 628.7)" fill="#a0a09c"/>
<ellipse cx="777.6" cy="628.5" rx="3.9" ry="1.9" transform="rotate(-28 777.6 628.5)" fill="#9a9a96"/>
<ellipse cx="783.2" cy="628.3" rx="3.9" ry="1.9" transform="rotate(-28 783.2 628.3)" fill="#9a9a96"/>
<ellipse cx="788.8" cy="627.9" rx="3.9" ry="1.9" transform="rotate(-28 788.8 627.9)" fill="#a7a7a3"/>
<ellipse cx="794.4" cy="627.5" rx="3.9" ry="1.9" transform="rotate(-28 794.4 627.5)" fill="#a0a09c"/>
<ellipse cx="746.9" cy="633.0" rx="3.9" ry="1.9" transform="rotate(-28 746.9 633.0)" fill="#9a9a96"/>
<ellipse cx="752.5" cy="633.2" rx="3.9" ry="1.9" transform="rotate(-28 752.5 633.2)" fill="#a7a7a3"/>
<ellipse cx="758.1" cy="633.4" rx="3.9" ry="1.9" transform="rotate(-28 758.1 633.4)" fill="#a0a09c"/>
<ellipse cx="763.7" cy="633.5" rx="3.9" ry="1.9" transform="rotate(-28 763.7 633.5)" fill="#a7a7a3"/>
<ellipse cx="769.3" cy="633.5" rx="3.9" ry="1.9" transform="rotate(-28 769.3 633.5)" fill="#a0a09c"/>
<ellipse cx="774.9" cy="633.4" rx="3.9" ry="1.9" transform="rotate(-28 774.9 633.4)" fill="#9a9a96"/>
<ellipse cx="780.5" cy="633.2" rx="3.9" ry="1.9" transform="rotate(-28 780.5 633.2)" fill="#a7a7a3"/>
<ellipse cx="786.1" cy="632.9" rx="3.9" ry="1.9" transform="rotate(-28 786.1 632.9)" fill="#a7a7a3"/>
<ellipse cx="791.7" cy="632.5" rx="3.9" ry="1.9" transform="rotate(-28 791.7 632.5)" fill="#a0a09c"/>
<ellipse cx="797.3" cy="632.0" rx="3.9" ry="1.9" transform="rotate(-28 797.3 632.0)" fill="#9a9a96"/>
<ellipse cx="743.8" cy="637.6" rx="3.9" ry="1.9" transform="rotate(-28 743.8 637.6)" fill="#9a9a96"/>
<ellipse cx="749.4" cy="637.9" rx="3.9" ry="1.9" transform="rotate(-28 749.4 637.9)" fill="#adada9"/>
<ellipse cx="755.0" cy="638.1" rx="3.9" ry="1.9" transform="rotate(-28 755.0 638.1)" fill="#a7a7a3"/>
<ellipse cx="760.6" cy="638.3" rx="3.9" ry="1.9" transform="rotate(-28 760.6 638.3)" fill="#a7a7a3"/>
<ellipse cx="766.2" cy="638.3" rx="3.9" ry="1.9" transform="rotate(-28 766.2 638.3)" fill="#a0a09c"/>
<ellipse cx="771.8" cy="638.3" rx="3.9" ry="1.9" transform="rotate(-28 771.8 638.3)" fill="#adada9"/>
<ellipse cx="777.4" cy="638.1" rx="3.9" ry="1.9" transform="rotate(-28 777.4 638.1)" fill="#a0a09c"/>
<ellipse cx="783.0" cy="637.9" rx="3.9" ry="1.9" transform="rotate(-28 783.0 637.9)" fill="#a0a09c"/>
<ellipse cx="788.6" cy="637.5" rx="3.9" ry="1.9" transform="rotate(-28 788.6 637.5)" fill="#9a9a96"/>
<ellipse cx="794.2" cy="637.1" rx="3.9" ry="1.9" transform="rotate(-28 794.2 637.1)" fill="#a7a7a3"/>
<ellipse cx="746.8" cy="642.6" rx="3.9" ry="1.9" transform="rotate(-28 746.8 642.6)" fill="#adada9"/>
<ellipse cx="752.4" cy="642.8" rx="3.9" ry="1.9" transform="rotate(-28 752.4 642.8)" fill="#9a9a96"/>
<ellipse cx="758.0" cy="643.0" rx="3.9" ry="1.9" transform="rotate(-28 758.0 643.0)" fill="#adada9"/>
<ellipse cx="763.6" cy="643.1" rx="3.9" ry="1.9" transform="rotate(-28 763.6 643.1)" fill="#adada9"/>
<ellipse cx="769.2" cy="643.1" rx="3.9" ry="1.9" transform="rotate(-28 769.2 643.1)" fill="#9a9a96"/>
<ellipse cx="774.8" cy="643.0" rx="3.9" ry="1.9" transform="rotate(-28 774.8 643.0)" fill="#a0a09c"/>
<ellipse cx="780.4" cy="642.8" rx="3.9" ry="1.9" transform="rotate(-28 780.4 642.8)" fill="#a7a7a3"/>
<ellipse cx="786.0" cy="642.5" rx="3.9" ry="1.9" transform="rotate(-28 786.0 642.5)" fill="#a7a7a3"/>
<ellipse cx="791.6" cy="642.1" rx="3.9" ry="1.9" transform="rotate(-28 791.6 642.1)" fill="#a7a7a3"/>
<ellipse cx="797.2" cy="641.6" rx="3.9" ry="1.9" transform="rotate(-28 797.2 641.6)" fill="#adada9"/>
<ellipse cx="743.7" cy="647.2" rx="3.9" ry="1.9" transform="rotate(-28 743.7 647.2)" fill="#a7a7a3"/>
<ellipse cx="749.3" cy="647.5" rx="3.9" ry="1.9" transform="rotate(-28 749.3 647.5)" fill="#adada9"/>
<ellipse cx="754.9" cy="647.7" rx="3.9" ry="1.9" transform="rotate(-28 754.9 647.7)" fill="#9a9a96"/>
<ellipse cx="760.5" cy="647.9" rx="3.9" ry="1.9" transform="rotate(-28 760.5 647.9)" fill="#a7a7a3"/>
<ellipse cx="766.1" cy="647.9" rx="3.9" ry="1.9" transform="rotate(-28 766.1 647.9)" fill="#a0a09c"/>
<ellipse cx="771.7" cy="647.9" rx="3.9" ry="1.9" transform="rotate(-28 771.7 647.9)" fill="#9a9a96"/>
<ellipse cx="777.3" cy="647.7" rx="3.9" ry="1.9" transform="rotate(-28 777.3 647.7)" fill="#adada9"/>
<ellipse cx="782.9" cy="647.5" rx="3.9" ry="1.9" transform="rotate(-28 782.9 647.5)" fill="#adada9"/>
<ellipse cx="788.5" cy="647.1" rx="3.9" ry="1.9" transform="rotate(-28 788.5 647.1)" fill="#9a9a96"/>
<ellipse cx="794.1" cy="646.7" rx="3.9" ry="1.9" transform="rotate(-28 794.1 646.7)" fill="#a7a7a3"/>
<ellipse cx="746.7" cy="652.2" rx="3.9" ry="1.9" transform="rotate(-28 746.7 652.2)" fill="#a7a7a3"/>
<ellipse cx="752.3" cy="652.4" rx="3.9" ry="1.9" transform="rotate(-28 752.3 652.4)" fill="#9a9a96"/>
<ellipse cx="757.9" cy="652.6" rx="3.9" ry="1.9" transform="rotate(-28 757.9 652.6)" fill="#a0a09c"/>
<ellipse cx="763.5" cy="652.7" rx="3.9" ry="1.9" transform="rotate(-28 763.5 652.7)" fill="#adada9"/>
<ellipse cx="769.1" cy="652.7" rx="3.9" ry="1.9" transform="rotate(-28 769.1 652.7)" fill="#9a9a96"/>
<ellipse cx="774.7" cy="652.6" rx="3.9" ry="1.9" transform="rotate(-28 774.7 652.6)" fill="#a0a09c"/>
<ellipse cx="780.3" cy="652.4" rx="3.9" ry="1.9" transform="rotate(-28 780.3 652.4)" fill="#adada9"/>
<ellipse cx="785.9" cy="652.1" rx="3.9" ry="1.9" transform="rotate(-28 785.9 652.1)" fill="#adada9"/>
<ellipse cx="791.5" cy="651.7" rx="3.9" ry="1.9" transform="rotate(-28 791.5 651.7)" fill="#9a9a96"/>
<ellipse cx="797.1" cy="651.2" rx="3.9" ry="1.9" transform="rotate(-28 797.1 651.2)" fill="#a7a7a3"/>
<ellipse cx="743.6" cy="656.8" rx="3.9" ry="1.9" transform="rotate(-28 743.6 656.8)" fill="#9a9a96"/>
<ellipse cx="749.2" cy="657.1" rx="3.9" ry="1.9" transform="rotate(-28 749.2 657.1)" fill="#a0a09c"/>
<ellipse cx="754.8" cy="657.3" rx="3.9" ry="1.9" transform="rotate(-28 754.8 657.3)" fill="#9a9a96"/>
<ellipse cx="760.4" cy="657.5" rx="3.9" ry="1.9" transform="rotate(-28 760.4 657.5)" fill="#a7a7a3"/>
<ellipse cx="766.0" cy="657.5" rx="3.9" ry="1.9" transform="rotate(-28 766.0 657.5)" fill="#9a9a96"/>
<ellipse cx="771.6" cy="657.5" rx="3.9" ry="1.9" transform="rotate(-28 771.6 657.5)" fill="#a7a7a3"/>
<ellipse cx="777.2" cy="657.3" rx="3.9" ry="1.9" transform="rotate(-28 777.2 657.3)" fill="#9a9a96"/>
<ellipse cx="782.8" cy="657.1" rx="3.9" ry="1.9" transform="rotate(-28 782.8 657.1)" fill="#a7a7a3"/>
<ellipse cx="788.4" cy="656.7" rx="3.9" ry="1.9" transform="rotate(-28 788.4 656.7)" fill="#a7a7a3"/>
<ellipse cx="794.0" cy="656.3" rx="3.9" ry="1.9" transform="rotate(-28 794.0 656.3)" fill="#adada9"/>
<ellipse cx="746.5" cy="661.8" rx="3.9" ry="1.9" transform="rotate(-28 746.5 661.8)" fill="#a0a09c"/>
<ellipse cx="752.1" cy="662.0" rx="3.9" ry="1.9" transform="rotate(-28 752.1 662.0)" fill="#a7a7a3"/>
<ellipse cx="757.7" cy="662.2" rx="3.9" ry="1.9" transform="rotate(-28 757.7 662.2)" fill="#adada9"/>
<ellipse cx="763.3" cy="662.3" rx="3.9" ry="1.9" transform="rotate(-28 763.3 662.3)" fill="#adada9"/>
<ellipse cx="768.9" cy="662.3" rx="3.9" ry="1.9" transform="rotate(-28 768.9 662.3)" fill="#adada9"/>
<ellipse cx="774.5" cy="662.2" rx="3.9" ry="1.9" transform="rotate(-28 774.5 662.2)" fill="#adada9"/>
<ellipse cx="780.1" cy="662.0" rx="3.9" ry="1.9" transform="rotate(-28 780.1 662.0)" fill="#a7a7a3"/>
<ellipse cx="785.7" cy="661.7" rx="3.9" ry="1.9" transform="rotate(-28 785.7 661.7)" fill="#adada9"/>
<ellipse cx="791.3" cy="661.3" rx="3.9" ry="1.9" transform="rotate(-28 791.3 661.3)" fill="#adada9"/>
<ellipse cx="796.9" cy="660.8" rx="3.9" ry="1.9" transform="rotate(-28 796.9 660.8)" fill="#adada9"/>
<ellipse cx="743.5" cy="666.4" rx="3.9" ry="1.9" transform="rotate(-28 743.5 666.4)" fill="#adada9"/>
<ellipse cx="749.1" cy="666.7" rx="3.9" ry="1.9" transform="rotate(-28 749.1 666.7)" fill="#a7a7a3"/>
<ellipse cx="754.7" cy="666.9" rx="3.9" ry="1.9" transform="rotate(-28 754.7 666.9)" fill="#a7a7a3"/>
<ellipse cx="760.3" cy="667.1" rx="3.9" ry="1.9" transform="rotate(-28 760.3 667.1)" fill="#a7a7a3"/>
<ellipse cx="765.9" cy="667.1" rx="3.9" ry="1.9" transform="rotate(-28 765.9 667.1)" fill="#a0a09c"/>
<ellipse cx="771.5" cy="667.1" rx="3.9" ry="1.9" transform="rotate(-28 771.5 667.1)" fill="#a7a7a3"/>
<ellipse cx="777.1" cy="666.9" rx="3.9" ry="1.9" transform="rotate(-28 777.1 666.9)" fill="#9a9a96"/>
<ellipse cx="782.7" cy="666.6" rx="3.9" ry="1.9" transform="rotate(-28 782.7 666.6)" fill="#9a9a96"/>
<ellipse cx="788.3" cy="666.3" rx="3.9" ry="1.9" transform="rotate(-28 788.3 666.3)" fill="#9a9a96"/>
<ellipse cx="793.9" cy="665.9" rx="3.9" ry="1.9" transform="rotate(-28 793.9 665.9)" fill="#adada9"/>
<ellipse cx="746.4" cy="671.4" rx="3.9" ry="1.9" transform="rotate(-28 746.4 671.4)" fill="#9a9a96"/>
<ellipse cx="752.0" cy="671.6" rx="3.9" ry="1.9" transform="rotate(-28 752.0 671.6)" fill="#9a9a96"/>
<ellipse cx="757.6" cy="671.8" rx="3.9" ry="1.9" transform="rotate(-28 757.6 671.8)" fill="#a0a09c"/>
<ellipse cx="763.2" cy="671.9" rx="3.9" ry="1.9" transform="rotate(-28 763.2 671.9)" fill="#9a9a96"/>
<ellipse cx="768.8" cy="671.9" rx="3.9" ry="1.9" transform="rotate(-28 768.8 671.9)" fill="#a0a09c"/>
<ellipse cx="774.4" cy="671.8" rx="3.9" ry="1.9" transform="rotate(-28 774.4 671.8)" fill="#a7a7a3"/>
<ellipse cx="780.0" cy="671.6" rx="3.9" ry="1.9" transform="rotate(-28 780.0 671.6)" fill="#adada9"/>
<ellipse cx="785.6" cy="671.3" rx="3.9" ry="1.9" transform="rotate(-28 785.6 671.3)" fill="#a0a09c"/>
<ellipse cx="791.2" cy="670.9" rx="3.9" ry="1.9" transform="rotate(-28 791.2 670.9)" fill="#a0a09c"/>
<ellipse cx="796.8" cy="670.4" rx="3.9" ry="1.9" transform="rotate(-28 796.8 670.4)" fill="#adada9"/>
<ellipse cx="743.4" cy="676.0" rx="3.9" ry="1.9" transform="rotate(-28 743.4 676.0)" fill="#adada9"/>
<ellipse cx="749.0" cy="676.3" rx="3.9" ry="1.9" transform="rotate(-28 749.0 676.3)" fill="#9a9a96"/>
<ellipse cx="754.6" cy="676.5" rx="3.9" ry="1.9" transform="rotate(-28 754.6 676.5)" fill="#adada9"/>
<ellipse cx="760.2" cy="676.7" rx="3.9" ry="1.9" transform="rotate(-28 760.2 676.7)" fill="#a7a7a3"/>
<ellipse cx="765.8" cy="676.7" rx="3.9" ry="1.9" transform="rotate(-28 765.8 676.7)" fill="#a0a09c"/>
<ellipse cx="771.4" cy="676.7" rx="3.9" ry="1.9" transform="rotate(-28 771.4 676.7)" fill="#9a9a96"/>
<ellipse cx="777.0" cy="676.5" rx="3.9" ry="1.9" transform="rotate(-28 777.0 676.5)" fill="#a0a09c"/>
<ellipse cx="782.6" cy="676.2" rx="3.9" ry="1.9" transform="rotate(-28 782.6 676.2)" fill="#a0a09c"/>
<ellipse cx="788.2" cy="675.9" rx="3.9" ry="1.9" transform="rotate(-28 788.2 675.9)" fill="#9a9a96"/>
<ellipse cx="793.8" cy="675.4" rx="3.9" ry="1.9" transform="rotate(-28 793.8 675.4)" fill="#a7a7a3"/>
<ellipse cx="746.3" cy="681.0" rx="3.9" ry="1.9" transform="rotate(-28 746.3 681.0)" fill="#a7a7a3"/>
<ellipse cx="751.9" cy="681.2" rx="3.9" ry="1.9" transform="rotate(-28 751.9 681.2)" fill="#9a9a96"/>
<ellipse cx="757.5" cy="681.4" rx="3.9" ry="1.9" transform="rotate(-28 757.5 681.4)" fill="#adada9"/>
<ellipse cx="763.1" cy="681.5" rx="3.9" ry="1.9" transform="rotate(-28 763.1 681.5)" fill="#a0a09c"/>
<ellipse cx="768.7" cy="681.5" rx="3.9" ry="1.9" transform="rotate(-28 768.7 681.5)" fill="#9a9a96"/>
<ellipse cx="774.3" cy="681.4" rx="3.9" ry="1.9" transform="rotate(-28 774.3 681.4)" fill="#a7a7a3"/>
<ellipse cx="779.9" cy="681.2" rx="3.9" ry="1.9" transform="rotate(-28 779.9 681.2)" fill="#a7a7a3"/>
<ellipse cx="785.5" cy="680.9" rx="3.9" ry="1.9" transform="rotate(-28 785.5 680.9)" fill="#adada9"/>
<ellipse cx="791.1" cy="680.5" rx="3.9" ry="1.9" transform="rotate(-28 791.1 680.5)" fill="#a7a7a3"/>
<ellipse cx="796.7" cy="680.0" rx="3.9" ry="1.9" transform="rotate(-28 796.7 680.0)" fill="#a0a09c"/>
<ellipse cx="743.2" cy="685.6" rx="3.9" ry="1.9" transform="rotate(-28 743.2 685.6)" fill="#a7a7a3"/>
<ellipse cx="748.8" cy="685.9" rx="3.9" ry="1.9" transform="rotate(-28 748.8 685.9)" fill="#9a9a96"/>
<ellipse cx="754.4" cy="686.1" rx="3.9" ry="1.9" transform="rotate(-28 754.4 686.1)" fill="#9a9a96"/>
<ellipse cx="760.0" cy="686.3" rx="3.9" ry="1.9" transform="rotate(-28 760.0 686.3)" fill="#9a9a96"/>
<ellipse cx="765.6" cy="686.3" rx="3.9" ry="1.9" transform="rotate(-28 765.6 686.3)" fill="#a0a09c"/>
<ellipse cx="771.2" cy="686.3" rx="3.9" ry="1.9" transform="rotate(-28 771.2 686.3)" fill="#a0a09c"/>
<ellipse cx="776.8" cy="686.1" rx="3.9" ry="1.9" transform="rotate(-28 776.8 686.1)" fill="#a0a09c"/>
<ellipse cx="782.4" cy="685.8" rx="3.9" ry="1.9" transform="rotate(-28 782.4 685.8)" fill="#9a9a96"/>
<ellipse cx="788.0" cy="685.5" rx="3.9" ry="1.9" transform="rotate(-28 788.0 685.5)" fill="#9a9a96"/>
<ellipse cx="793.6" cy="685.0" rx="3.9" ry="1.9" transform="rotate(-28 793.6 685.0)" fill="#a0a09c"/>
<ellipse cx="746.2" cy="690.6" rx="3.9" ry="1.9" transform="rotate(-28 746.2 690.6)" fill="#a7a7a3"/>
<ellipse cx="751.8" cy="690.8" rx="3.9" ry="1.9" transform="rotate(-28 751.8 690.8)" fill="#adada9"/>
<ellipse cx="757.4" cy="691.0" rx="3.9" ry="1.9" transform="rotate(-28 757.4 691.0)" fill="#adada9"/>
<ellipse cx="763.0" cy="691.1" rx="3.9" ry="1.9" transform="rotate(-28 763.0 691.1)" fill="#adada9"/>
<ellipse cx="768.6" cy="691.1" rx="3.9" ry="1.9" transform="rotate(-28 768.6 691.1)" fill="#adada9"/>
<ellipse cx="774.2" cy="691.0" rx="3.9" ry="1.9" transform="rotate(-28 774.2 691.0)" fill="#adada9"/>
<ellipse cx="779.8" cy="690.8" rx="3.9" ry="1.9" transform="rotate(-28 779.8 690.8)" fill="#adada9"/>
<ellipse cx="785.4" cy="690.5" rx="3.9" ry="1.9" transform="rotate(-28 785.4 690.5)" fill="#adada9"/>
<ellipse cx="791.0" cy="690.0" rx="3.9" ry="1.9" transform="rotate(-28 791.0 690.0)" fill="#a0a09c"/>
<ellipse cx="796.6" cy="689.6" rx="3.9" ry="1.9" transform="rotate(-28 796.6 689.6)" fill="#9a9a96"/>
<ellipse cx="743.1" cy="695.2" rx="3.9" ry="1.9" transform="rotate(-28 743.1 695.2)" fill="#a0a09c"/>
<ellipse cx="748.7" cy="695.5" rx="3.9" ry="1.9" transform="rotate(-28 748.7 695.5)" fill="#a0a09c"/>
<ellipse cx="754.3" cy="695.7" rx="3.9" ry="1.9" transform="rotate(-28 754.3 695.7)" fill="#a0a09c"/>
<ellipse cx="759.9" cy="695.9" rx="3.9" ry="1.9" transform="rotate(-28 759.9 695.9)" fill="#a0a09c"/>
<ellipse cx="765.5" cy="695.9" rx="3.9" ry="1.9" transform="rotate(-28 765.5 695.9)" fill="#a0a09c"/>
<ellipse cx="771.1" cy="695.9" rx="3.9" ry="1.9" transform="rotate(-28 771.1 695.9)" fill="#adada9"/>
<ellipse cx="776.7" cy="695.7" rx="3.9" ry="1.9" transform="rotate(-28 776.7 695.7)" fill="#a0a09c"/>
<ellipse cx="782.3" cy="695.4" rx="3.9" ry="1.9" transform="rotate(-28 782.3 695.4)" fill="#adada9"/>
<ellipse cx="787.9" cy="695.1" rx="3.9" ry="1.9" transform="rotate(-28 787.9 695.1)" fill="#a7a7a3"/>
<ellipse cx="793.5" cy="694.6" rx="3.9" ry="1.9" transform="rotate(-28 793.5 694.6)" fill="#9a9a96"/>
<ellipse cx="746.1" cy="700.2" rx="3.9" ry="1.9" transform="rotate(-28 746.1 700.2)" fill="#adada9"/>
<ellipse cx="751.7" cy="700.4" rx="3.9" ry="1.9" transform="rotate(-28 751.7 700.4)" fill="#a0a09c"/>
<ellipse cx="757.3" cy="700.6" rx="3.9" ry="1.9" transform="rotate(-28 757.3 700.6)" fill="#a0a09c"/>
<ellipse cx="762.9" cy="700.7" rx="3.9" ry="1.9" transform="rotate(-28 762.9 700.7)" fill="#a7a7a3"/>
<ellipse cx="768.5" cy="700.7" rx="3.9" ry="1.9" transform="rotate(-28 768.5 700.7)" fill="#9a9a96"/>
<ellipse cx="774.1" cy="700.6" rx="3.9" ry="1.9" transform="rotate(-28 774.1 700.6)" fill="#a7a7a3"/>
<ellipse cx="779.7" cy="700.4" rx="3.9" ry="1.9" transform="rotate(-28 779.7 700.4)" fill="#a7a7a3"/>
<ellipse cx="785.3" cy="700.1" rx="3.9" ry="1.9" transform="rotate(-28 785.3 700.1)" fill="#a7a7a3"/>
<ellipse cx="790.9" cy="699.6" rx="3.9" ry="1.9" transform="rotate(-28 790.9 699.6)" fill="#9a9a96"/>
<ellipse cx="796.5" cy="699.2" rx="3.9" ry="1.9" transform="rotate(-28 796.5 699.2)" fill="#a0a09c"/>
<ellipse cx="743.0" cy="704.8" rx="3.9" ry="1.9" transform="rotate(-28 743.0 704.8)" fill="#9a9a96"/>
<ellipse cx="748.6" cy="705.1" rx="3.9" ry="1.9" transform="rotate(-28 748.6 705.1)" fill="#adada9"/>
<ellipse cx="754.2" cy="705.3" rx="3.9" ry="1.9" transform="rotate(-28 754.2 705.3)" fill="#a7a7a3"/>
<ellipse cx="759.8" cy="705.5" rx="3.9" ry="1.9" transform="rotate(-28 759.8 705.5)" fill="#adada9"/>
<ellipse cx="765.4" cy="705.5" rx="3.9" ry="1.9" transform="rotate(-28 765.4 705.5)" fill="#a0a09c"/>
<ellipse cx="771.0" cy="705.5" rx="3.9" ry="1.9" transform="rotate(-28 771.0 705.5)" fill="#a7a7a3"/>
<ellipse cx="776.6" cy="705.3" rx="3.9" ry="1.9" transform="rotate(-28 776.6 705.3)" fill="#a7a7a3"/>
<ellipse cx="782.2" cy="705.0" rx="3.9" ry="1.9" transform="rotate(-28 782.2 705.0)" fill="#a0a09c"/>
<ellipse cx="787.8" cy="704.7" rx="3.9" ry="1.9" transform="rotate(-28 787.8 704.7)" fill="#a0a09c"/>
<ellipse cx="793.4" cy="704.2" rx="3.9" ry="1.9" transform="rotate(-28 793.4 704.2)" fill="#a7a7a3"/>
<ellipse cx="745.9" cy="709.8" rx="3.9" ry="1.9" transform="rotate(-28 745.9 709.8)" fill="#adada9"/>
<ellipse cx="751.5" cy="710.0" rx="3.9" ry="1.9" transform="rotate(-28 751.5 710.0)" fill="#a0a09c"/>
<ellipse cx="757.1" cy="710.2" rx="3.9" ry="1.9" transform="rotate(-28 757.1 710.2)" fill="#9a9a96"/>
<ellipse cx="762.7" cy="710.3" rx="3.9" ry="1.9" transform="rotate(-28 762.7 710.3)" fill="#adada9"/>
<ellipse cx="768.3" cy="710.3" rx="3.9" ry="1.9" transform="rotate(-28 768.3 710.3)" fill="#a7a7a3"/>
<ellipse cx="773.9" cy="710.2" rx="3.9" ry="1.9" transform="rotate(-28 773.9 710.2)" fill="#a7a7a3"/>
<ellipse cx="779.5" cy="710.0" rx="3.9" ry="1.9" transform="rotate(-28 779.5 710.0)" fill="#adada9"/>
<ellipse cx="785.1" cy="709.6" rx="3.9" ry="1.9" transform="rotate(-28 785.1 709.6)" fill="#a0a09c"/>
<ellipse cx="790.7" cy="709.2" rx="3.9" ry="1.9" transform="rotate(-28 790.7 709.2)" fill="#a7a7a3"/>
<ellipse cx="796.3" cy="708.8" rx="3.9" ry="1.9" transform="rotate(-28 796.3 708.8)" fill="#adada9"/>
<ellipse cx="742.9" cy="714.4" rx="3.9" ry="1.9" transform="rotate(-28 742.9 714.4)" fill="#adada9"/>
<ellipse cx="748.5" cy="714.7" rx="3.9" ry="1.9" transform="rotate(-28 748.5 714.7)" fill="#a0a09c"/>
<ellipse cx="754.1" cy="714.9" rx="3.9" ry="1.9" transform="rotate(-28 754.1 714.9)" fill="#a7a7a3"/>
<ellipse cx="759.7" cy="715.1" rx="3.9" ry="1.9" transform="rotate(-28 759.7 715.1)" fill="#a0a09c"/>
<ellipse cx="765.3" cy="715.1" rx="3.9" ry="1.9" transform="rotate(-28 765.3 715.1)" fill="#adada9"/>
<ellipse cx="770.9" cy="715.1" rx="3.9" ry="1.9" transform="rotate(-28 770.9 715.1)" fill="#a7a7a3"/>
<ellipse cx="776.5" cy="714.9" rx="3.9" ry="1.9" transform="rotate(-28 776.5 714.9)" fill="#a0a09c"/>
<ellipse cx="782.1" cy="714.6" rx="3.9" ry="1.9" transform="rotate(-28 782.1 714.6)" fill="#a7a7a3"/>
<ellipse cx="787.7" cy="714.3" rx="3.9" ry="1.9" transform="rotate(-28 787.7 714.3)" fill="#adada9"/>
<ellipse cx="793.3" cy="713.8" rx="3.9" ry="1.9" transform="rotate(-28 793.3 713.8)" fill="#9a9a96"/>
<ellipse cx="745.8" cy="719.4" rx="3.9" ry="1.9" transform="rotate(-28 745.8 719.4)" fill="#adada9"/>
<ellipse cx="751.4" cy="719.6" rx="3.9" ry="1.9" transform="rotate(-28 751.4 719.6)" fill="#a0a09c"/>
<ellipse cx="757.0" cy="719.8" rx="3.9" ry="1.9" transform="rotate(-28 757.0 719.8)" fill="#adada9"/>
<ellipse cx="762.6" cy="719.9" rx="3.9" ry="1.9" transform="rotate(-28 762.6 719.9)" fill="#a7a7a3"/>
<ellipse cx="768.2" cy="719.9" rx="3.9" ry="1.9" transform="rotate(-28 768.2 719.9)" fill="#a0a09c"/>
<ellipse cx="773.8" cy="719.8" rx="3.9" ry="1.9" transform="rotate(-28 773.8 719.8)" fill="#a7a7a3"/>
<ellipse cx="779.4" cy="719.6" rx="3.9" ry="1.9" transform="rotate(-28 779.4 719.6)" fill="#9a9a96"/>
<ellipse cx="785.0" cy="719.2" rx="3.9" ry="1.9" transform="rotate(-28 785.0 719.2)" fill="#9a9a96"/>
<ellipse cx="790.6" cy="718.8" rx="3.9" ry="1.9" transform="rotate(-28 790.6 718.8)" fill="#a7a7a3"/>
<ellipse cx="796.2" cy="718.4" rx="3.9" ry="1.9" transform="rotate(-28 796.2 718.4)" fill="#9a9a96"/>
<ellipse cx="742.8" cy="724.0" rx="3.9" ry="1.9" transform="rotate(-28 742.8 724.0)" fill="#a7a7a3"/>
<ellipse cx="748.4" cy="724.3" rx="3.9" ry="1.9" transform="rotate(-28 748.4 724.3)" fill="#9a9a96"/>
<ellipse cx="754.0" cy="724.5" rx="3.9" ry="1.9" transform="rotate(-28 754.0 724.5)" fill="#a0a09c"/>
<ellipse cx="759.6" cy="724.7" rx="3.9" ry="1.9" transform="rotate(-28 759.6 724.7)" fill="#a7a7a3"/>
<ellipse cx="765.2" cy="724.7" rx="3.9" ry="1.9" transform="rotate(-28 765.2 724.7)" fill="#a0a09c"/>
<ellipse cx="770.8" cy="724.7" rx="3.9" ry="1.9" transform="rotate(-28 770.8 724.7)" fill="#9a9a96"/>
<ellipse cx="776.4" cy="724.5" rx="3.9" ry="1.9" transform="rotate(-28 776.4 724.5)" fill="#adada9"/>
<ellipse cx="782.0" cy="724.2" rx="3.9" ry="1.9" transform="rotate(-28 782.0 724.2)" fill="#9a9a96"/>
<ellipse cx="787.6" cy="723.9" rx="3.9" ry="1.9" transform="rotate(-28 787.6 723.9)" fill="#adada9"/>
<ellipse cx="793.2" cy="723.4" rx="3.9" ry="1.9" transform="rotate(-28 793.2 723.4)" fill="#adada9"/>
<ellipse cx="745.7" cy="729.0" rx="3.9" ry="1.9" transform="rotate(-28 745.7 729.0)" fill="#9a9a96"/>
<ellipse cx="751.3" cy="729.2" rx="3.9" ry="1.9" transform="rotate(-28 751.3 729.2)" fill="#a7a7a3"/>
<ellipse cx="756.9" cy="729.4" rx="3.9" ry="1.9" transform="rotate(-28 756.9 729.4)" fill="#adada9"/>
<ellipse cx="762.5" cy="729.5" rx="3.9" ry="1.9" transform="rotate(-28 762.5 729.5)" fill="#adada9"/>
<ellipse cx="768.1" cy="729.5" rx="3.9" ry="1.9" transform="rotate(-28 768.1 729.5)" fill="#9a9a96"/>
<ellipse cx="773.7" cy="729.4" rx="3.9" ry="1.9" transform="rotate(-28 773.7 729.4)" fill="#9a9a96"/>
<ellipse cx="779.3" cy="729.2" rx="3.9" ry="1.9" transform="rotate(-28 779.3 729.2)" fill="#a7a7a3"/>
<ellipse cx="784.9" cy="728.8" rx="3.9" ry="1.9" transform="rotate(-28 784.9 728.8)" fill="#adada9"/>
<ellipse cx="790.5" cy="728.4" rx="3.9" ry="1.9" transform="rotate(-28 790.5 728.4)" fill="#a0a09c"/>
<ellipse cx="796.1" cy="728.0" rx="3.9" ry="1.9" transform="rotate(-28 796.1 728.0)" fill="#9a9a96"/>
<ellipse cx="742.6" cy="733.6" rx="3.9" ry="1.9" transform="rotate(-28 742.6 733.6)" fill="#9a9a96"/>
<ellipse cx="748.2" cy="733.9" rx="3.9" ry="1.9" transform="rotate(-28 748.2 733.9)" fill="#a0a09c"/>
<ellipse cx="753.8" cy="734.1" rx="3.9" ry="1.9" transform="rotate(-28 753.8 734.1)" fill="#a7a7a3"/>
<ellipse cx="759.4" cy="734.3" rx="3.9" ry="1.9" transform="rotate(-28 759.4 734.3)" fill="#9a9a96"/>
<ellipse cx="765.0" cy="734.3" rx="3.9" ry="1.9" transform="rotate(-28 765.0 734.3)" fill="#a0a09c"/>
<ellipse cx="770.6" cy="734.3" rx="3.9" ry="1.9" transform="rotate(-28 770.6 734.3)" fill="#9a9a96"/>
<ellipse cx="776.2" cy="734.1" rx="3.9" ry="1.9" transform="rotate(-28 776.2 734.1)" fill="#a7a7a3"/>
<ellipse cx="781.8" cy="733.8" rx="3.9" ry="1.9" transform="rotate(-28 781.8 733.8)" fill="#a7a7a3"/>
<ellipse cx="787.4" cy="733.5" rx="3.9" ry="1.9" transform="rotate(-28 787.4 733.5)" fill="#9a9a96"/>
<ellipse cx="793.0" cy="733.0" rx="3.9" ry="1.9" transform="rotate(-28 793.0 733.0)" fill="#adada9"/>
<ellipse cx="745.6" cy="738.6" rx="3.9" ry="1.9" transform="rotate(-28 745.6 738.6)" fill="#9a9a96"/>
<ellipse cx="751.2" cy="738.8" rx="3.9" ry="1.9" transform="rotate(-28 751.2 738.8)" fill="#a0a09c"/>
<ellipse cx="756.8" cy="739.0" rx="3.9" ry="1.9" transform="rotate(-28 756.8 739.0)" fill="#a0a09c"/>
<ellipse cx="762.4" cy="739.1" rx="3.9" ry="1.9" transform="rotate(-28 762.4 739.1)" fill="#a7a7a3"/>
<ellipse cx="768.0" cy="739.1" rx="3.9" ry="1.9" transform="rotate(-28 768.0 739.1)" fill="#a7a7a3"/>
<ellipse cx="773.6" cy="739.0" rx="3.9" ry="1.9" transform="rotate(-28 773.6 739.0)" fill="#a0a09c"/>
<ellipse cx="779.2" cy="738.8" rx="3.9" ry="1.9" transform="rotate(-28 779.2 738.8)" fill="#9a9a96"/>
<ellipse cx="784.8" cy="738.4" rx="3.9" ry="1.9" transform="rotate(-28 784.8 738.4)" fill="#a7a7a3"/>
<ellipse cx="790.4" cy="738.0" rx="3.9" ry="1.9" transform="rotate(-28 790.4 738.0)" fill="#adada9"/>
<ellipse cx="796.0" cy="737.6" rx="3.9" ry="1.9" transform="rotate(-28 796.0 737.6)" fill="#a0a09c"/>
<ellipse cx="742.5" cy="743.2" rx="3.9" ry="1.9" transform="rotate(-28 742.5 743.2)" fill="#a0a09c"/>
<ellipse cx="748.1" cy="743.5" rx="3.9" ry="1.9" transform="rotate(-28 748.1 743.5)" fill="#adada9"/>
<ellipse cx="753.7" cy="743.7" rx="3.9" ry="1.9" transform="rotate(-28 753.7 743.7)" fill="#adada9"/>
<ellipse cx="759.3" cy="743.9" rx="3.9" ry="1.9" transform="rotate(-28 759.3 743.9)" fill="#a0a09c"/>
<ellipse cx="764.9" cy="743.9" rx="3.9" ry="1.9" transform="rotate(-28 764.9 743.9)" fill="#a0a09c"/>
<ellipse cx="770.5" cy="743.9" rx="3.9" ry="1.9" transform="rotate(-28 770.5 743.9)" fill="#a7a7a3"/>
<ellipse cx="776.1" cy="743.7" rx="3.9" ry="1.9" transform="rotate(-28 776.1 743.7)" fill="#a7a7a3"/>
<ellipse cx="781.7" cy="743.4" rx="3.9" ry="1.9" transform="rotate(-28 781.7 743.4)" fill="#9a9a96"/>
<ellipse cx="787.3" cy="743.1" rx="3.9" ry="1.9" transform="rotate(-28 787.3 743.1)" fill="#9a9a96"/>
<ellipse cx="792.9" cy="742.6" rx="3.9" ry="1.9" transform="rotate(-28 792.9 742.6)" fill="#a0a09c"/>
<ellipse cx="745.5" cy="748.2" rx="3.9" ry="1.9" transform="rotate(-28 745.5 748.2)" fill="#adada9"/>
<ellipse cx="751.1" cy="748.4" rx="3.9" ry="1.9" transform="rotate(-28 751.1 748.4)" fill="#a0a09c"/>
<ellipse cx="756.7" cy="748.6" rx="3.9" ry="1.9" transform="rotate(-28 756.7 748.6)" fill="#a7a7a3"/>
<ellipse cx="762.3" cy="748.7" rx="3.9" ry="1.9" transform="rotate(-28 762.3 748.7)" fill="#9a9a96"/>
<ellipse cx="767.9" cy="748.7" rx="3.9" ry="1.9" transform="rotate(-28 767.9 748.7)" fill="#adada9"/>
<ellipse cx="773.5" cy="748.6" rx="3.9" ry="1.9" transform="rotate(-28 773.5 748.6)" fill="#a7a7a3"/>
<ellipse cx="779.1" cy="748.4" rx="3.9" ry="1.9" transform="rotate(-28 779.1 748.4)" fill="#9a9a96"/>
<ellipse cx="784.7" cy="748.0" rx="3.9" ry="1.9" transform="rotate(-28 784.7 748.0)" fill="#a7a7a3"/>
<ellipse cx="790.3" cy="747.6" rx="3.9" ry="1.9" transform="rotate(-28 790.3 747.6)" fill="#a0a09c"/>
<ellipse cx="795.9" cy="747.2" rx="3.9" ry="1.9" transform="rotate(-28 795.9 747.2)" fill="#a0a09c"/>
<ellipse cx="742.4" cy="752.8" rx="3.9" ry="1.9" transform="rotate(-28 742.4 752.8)" fill="#9a9a96"/>
<ellipse cx="748.0" cy="753.1" rx="3.9" ry="1.9" transform="rotate(-28 748.0 753.1)" fill="#a0a09c"/>
<ellipse cx="753.6" cy="753.3" rx="3.9" ry="1.9" transform="rotate(-28 753.6 753.3)" fill="#9a9a96"/>
<ellipse cx="759.2" cy="753.5" rx="3.9" ry="1.9" transform="rotate(-28 759.2 753.5)" fill="#a0a09c"/>
<ellipse cx="764.8" cy="753.5" rx="3.9" ry="1.9" transform="rotate(-28 764.8 753.5)" fill="#a0a09c"/>
<ellipse cx="770.4" cy="753.5" rx="3.9" ry="1.9" transform="rotate(-28 770.4 753.5)" fill="#a7a7a3"/>
<ellipse cx="776.0" cy="753.3" rx="3.9" ry="1.9" transform="rotate(-28 776.0 753.3)" fill="#9a9a96"/>
<ellipse cx="781.6" cy="753.0" rx="3.9" ry="1.9" transform="rotate(-28 781.6 753.0)" fill="#a0a09c"/>
<ellipse cx="787.2" cy="752.6" rx="3.9" ry="1.9" transform="rotate(-28 787.2 752.6)" fill="#9a9a96"/>
<ellipse cx="792.8" cy="752.2" rx="3.9" ry="1.9" transform="rotate(-28 792.8 752.2)" fill="#adada9"/>
<ellipse cx="745.3" cy="757.8" rx="3.9" ry="1.9" transform="rotate(-28 745.3 757.8)" fill="#a7a7a3"/>
<ellipse cx="750.9" cy="758.0" rx="3.9" ry="1.9" transform="rotate(-28 750.9 758.0)" fill="#a0a09c"/>
<ellipse cx="756.5" cy="758.2" rx="3.9" ry="1.9" transform="rotate(-28 756.5 758.2)" fill="#a0a09c"/>
<ellipse cx="762.1" cy="758.3" rx="3.9" ry="1.9" transform="rotate(-28 762.1 758.3)" fill="#a0a09c"/>
<ellipse cx="767.7" cy="758.3" rx="3.9" ry="1.9" transform="rotate(-28 767.7 758.3)" fill="#a7a7a3"/>
<ellipse cx="773.3" cy="758.2" rx="3.9" ry="1.9" transform="rotate(-28 773.3 758.2)" fill="#a7a7a3"/>
<ellipse cx="778.9" cy="758.0" rx="3.9" ry="1.9" transform="rotate(-28 778.9 758.0)" fill="#adada9"/>
<ellipse cx="784.5" cy="757.6" rx="3.9" ry="1.9" transform="rotate(-28 784.5 757.6)" fill="#a7a7a3"/>
<ellipse cx="790.1" cy="757.2" rx="3.9" ry="1.9" transform="rotate(-28 790.1 757.2)" fill="#9a9a96"/>
<ellipse cx="795.7" cy="756.8" rx="3.9" ry="1.9" transform="rotate(-28 795.7 756.8)" fill="#9a9a96"/>
<ellipse cx="742.3" cy="762.4" rx="3.9" ry="1.9" transform="rotate(-28 742.3 762.4)" fill="#adada9"/>
<ellipse cx="747.9" cy="762.7" rx="3.9" ry="1.9" transform="rotate(-28 747.9 762.7)" fill="#9a9a96"/>
<ellipse cx="753.5" cy="762.9" rx="3.9" ry="1.9" transform="rotate(-28 753.5 762.9)" fill="#adada9"/>
<ellipse cx="759.1" cy="763.1" rx="3.9" ry="1.9" transform="rotate(-28 759.1 763.1)" fill="#a0a09c"/>
<ellipse cx="764.7" cy="763.1" rx="3.9" ry="1.9" transform="rotate(-28 764.7 763.1)" fill="#9a9a96"/>
<ellipse cx="770.3" cy="763.1" rx="3.9" ry="1.9" transform="rotate(-28 770.3 763.1)" fill="#9a9a96"/>
<ellipse cx="775.9" cy="762.9" rx="3.9" ry="1.9" transform="rotate(-28 775.9 762.9)" fill="#adada9"/>
<ellipse cx="781.5" cy="762.6" rx="3.9" ry="1.9" transform="rotate(-28 781.5 762.6)" fill="#9a9a96"/>
<ellipse cx="787.1" cy="762.2" rx="3.9" ry="1.9" transform="rotate(-28 787.1 762.2)" fill="#9a9a96"/>
<ellipse cx="792.7" cy="761.8" rx="3.9" ry="1.9" transform="rotate(-28 792.7 761.8)" fill="#a0a09c"/>
<ellipse cx="745.2" cy="767.4" rx="3.9" ry="1.9" transform="rotate(-28 745.2 767.4)" fill="#a7a7a3"/>
<ellipse cx="750.8" cy="767.6" rx="3.9" ry="1.9" transform="rotate(-28 750.8 767.6)" fill="#a7a7a3"/>
<ellipse cx="756.4" cy="767.8" rx="3.9" ry="1.9" transform="rotate(-28 756.4 767.8)" fill="#9a9a96"/>
<ellipse cx="762.0" cy="767.9" rx="3.9" ry="1.9" transform="rotate(-28 762.0 767.9)" fill="#9a9a96"/>
<ellipse cx="767.6" cy="767.9" rx="3.9" ry="1.9" transform="rotate(-28 767.6 767.9)" fill="#a0a09c"/>
<ellipse cx="773.2" cy="767.8" rx="3.9" ry="1.9" transform="rotate(-28 773.2 767.8)" fill="#9a9a96"/>
<ellipse cx="778.8" cy="767.6" rx="3.9" ry="1.9" transform="rotate(-28 778.8 767.6)" fill="#9a9a96"/>
<ellipse cx="784.4" cy="767.2" rx="3.9" ry="1.9" transform="rotate(-28 784.4 767.2)" fill="#a0a09c"/>
<ellipse cx="790.0" cy="766.8" rx="3.9" ry="1.9" transform="rotate(-28 790.0 766.8)" fill="#9a9a96"/>
<ellipse cx="795.6" cy="766.3" rx="3.9" ry="1.9" transform="rotate(-28 795.6 766.3)" fill="#9a9a96"/>
<ellipse cx="742.2" cy="772.0" rx="3.9" ry="1.9" transform="rotate(-28 742.2 772.0)" fill="#a7a7a3"/>
<ellipse cx="747.8" cy="772.3" rx="3.9" ry="1.9" transform="rotate(-28 747.8 772.3)" fill="#a7a7a3"/>
<ellipse cx="753.4" cy="772.5" rx="3.9" ry="1.9" transform="rotate(-28 753.4 772.5)" fill="#a0a09c"/>
<ellipse cx="759.0" cy="772.7" rx="3.9" ry="1.9" transform="rotate(-28 759.0 772.7)" fill="#adada9"/>
<ellipse cx="764.6" cy="772.7" rx="3.9" ry="1.9" transform="rotate(-28 764.6 772.7)" fill="#9a9a96"/>
<ellipse cx="770.2" cy="772.7" rx="3.9" ry="1.9" transform="rotate(-28 770.2 772.7)" fill="#adada9"/>
<ellipse cx="775.8" cy="772.5" rx="3.9" ry="1.9" transform="rotate(-28 775.8 772.5)" fill="#a7a7a3"/>
<ellipse cx="781.4" cy="772.2" rx="3.9" ry="1.9" transform="rotate(-28 781.4 772.2)" fill="#9a9a96"/>
<ellipse cx="787.0" cy="771.8" rx="3.9" ry="1.9" transform="rotate(-28 787.0 771.8)" fill="#a7a7a3"/>
<ellipse cx="792.6" cy="771.4" rx="3.9" ry="1.9" transform="rotate(-28 792.6 771.4)" fill="#a7a7a3"/>
<ellipse cx="745.1" cy="777.0" rx="3.9" ry="1.9" transform="rotate(-28 745.1 777.0)" fill="#a0a09c"/>
<ellipse cx="750.7" cy="777.2" rx="3.9" ry="1.9" transform="rotate(-28 750.7 777.2)" fill="#a7a7a3"/>
<ellipse cx="756.3" cy="777.4" rx="3.9" ry="1.9" transform="rotate(-28 756.3 777.4)" fill="#adada9"/>
<ellipse cx="761.9" cy="777.5" rx="3.9" ry="1.9" transform="rotate(-28 761.9 777.5)" fill="#a7a7a3"/>
<ellipse cx="767.5" cy="777.5" rx="3.9" ry="1.9" transform="rotate(-28 767.5 777.5)" fill="#a7a7a3"/>
<ellipse cx="773.1" cy="777.4" rx="3.9" ry="1.9" transform="rotate(-28 773.1 777.4)" fill="#9a9a96"/>
<ellipse cx="778.7" cy="777.2" rx="3.9" ry="1.9" transform="rotate(-28 778.7 777.2)" fill="#a0a09c"/>
<ellipse cx="784.3" cy="776.8" rx="3.9" ry="1.9" transform="rotate(-28 784.3 776.8)" fill="#a7a7a3"/>
<ellipse cx="789.9" cy="776.4" rx="3.9" ry="1.9" transform="rotate(-28 789.9 776.4)" fill="#a7a7a3"/>
<ellipse cx="795.5" cy="775.9" rx="3.9" ry="1.9" transform="rotate(-28 795.5 775.9)" fill="#a7a7a3"/>
<ellipse cx="742.0" cy="781.6" rx="3.9" ry="1.9" transform="rotate(-28 742.0 781.6)" fill="#a0a09c"/>
<ellipse cx="747.6" cy="781.9" rx="3.9" ry="1.9" transform="rotate(-28 747.6 781.9)" fill="#a0a09c"/>
<ellipse cx="753.2" cy="782.1" rx="3.9" ry="1.9" transform="rotate(-28 753.2 782.1)" fill="#9a9a96"/>
<ellipse cx="758.8" cy="782.3" rx="3.9" ry="1.9" transform="rotate(-28 758.8 782.3)" fill="#adada9"/>
<ellipse cx="764.4" cy="782.3" rx="3.9" ry="1.9" transform="rotate(-28 764.4 782.3)" fill="#a0a09c"/>
<ellipse cx="770.0" cy="782.3" rx="3.9" ry="1.9" transform="rotate(-28 770.0 782.3)" fill="#a0a09c"/>
<ellipse cx="775.6" cy="782.1" rx="3.9" ry="1.9" transform="rotate(-28 775.6 782.1)" fill="#a7a7a3"/>
<ellipse cx="781.2" cy="781.8" rx="3.9" ry="1.9" transform="rotate(-28 781.2 781.8)" fill="#adada9"/>
<ellipse cx="786.8" cy="781.4" rx="3.9" ry="1.9" transform="rotate(-28 786.8 781.4)" fill="#adada9"/>
<ellipse cx="792.4" cy="781.0" rx="3.9" ry="1.9" transform="rotate(-28 792.4 781.0)" fill="#a0a09c"/></g>
  <path d="M746,385 L760,385 L754,784 L741,784 Z" fill="url(#ropeShadeL)"/>
  <path d="M789,385 L805,385 L797,784 L782,784 Z" fill="url(#ropeShadeR)"/>
  <!-- right toy -->
  <path d="M875.8,384 L876,482" stroke="#2b2b2b" stroke-width="1.3" fill="none"/>
  <g fill="#1d1e21">
    <circle cx="865" cy="493" r="12"/><circle cx="884" cy="489" r="12"/>
    <circle cx="889" cy="513" r="12"/><circle cx="874" cy="528" r="12"/><circle cx="861" cy="514" r="12"/>
  </g>
  <ellipse cx="876.5" cy="509" rx="18" ry="23" transform="rotate(-12 876.5 509)" fill="#a6a9b1" filter="url(#plush)"/>
  <circle cx="874" cy="486" r="3.5" fill="#c9a43a"/>
  <!-- base -->
  <ellipse cx="671" cy="1238" rx="228" ry="96" fill="url(#baseSide)" filter="url(#plush)"/>
  <ellipse cx="671" cy="1222" rx="224" ry="79" fill="#a6a9b1" filter="url(#plush)"/>
  <path d="M452,1236 A222,76 0 0 0 890,1236" fill="none" stroke="#8d9098" stroke-width="4" opacity="0.35"/>
  <!-- cylinder -->
  <path d="M500,925 L848,925 L848,1224 A174,58 0 0 1 500,1224 Z" fill="url(#cylSide)" filter="url(#plush)"/>
  <path d="M500,1224 A174,58 0 0 0 848,1224" fill="none" stroke="#6f727a" stroke-width="3" opacity="0.6"/>
  <ellipse cx="674" cy="925" rx="174" ry="58" fill="#a2a5ad" filter="url(#plush)"/>
  <path d="M503,932 A171,56 0 0 0 845,932" fill="none" stroke="#abaeb6" stroke-width="5" opacity="0.6"/>
  <!-- hole -->
  <filter id="blur3" x="-20%" y="-20%" width="140%" height="140%"><feGaussianBlur stdDeviation="3"/></filter>
  <filter id="blur6" filterUnits="userSpaceOnUse" x="480" y="1000" width="260" height="260"><feGaussianBlur stdDeviation="6"/></filter>
  <ellipse cx="614" cy="1128" rx="93" ry="102" fill="#aaadb5" filter="url(#plush)"/>
  <ellipse cx="614" cy="1128" rx="92" ry="101" fill="none" stroke="#868991" stroke-width="1.6" opacity="0.6"/>
  <clipPath id="hclip"><ellipse cx="614" cy="1125" rx="83" ry="95"/></clipPath>
  <ellipse cx="614" cy="1125" rx="83" ry="95" fill="#1a1a1d"/>
  <g clip-path="url(#hclip)">
   <g filter="url(#blur6)">
    <path d="M615,1030 Q690,1040 712,1100 L712,1118 Q660,1112 618,1116 Z" fill="#333439"/>
    <path d="M500,1118 Q600,1110 720,1116 L720,1160 Q600,1150 500,1162 Z" fill="#131316" opacity="0.6"/>
    <path d="M500,1200 Q600,1168 720,1180 L720,1250 L500,1250 Z" fill="#4b4d53"/>
   </g>
  </g>
  <!-- label -->
  <path d="M598,963 L643,967 L642,976 L597,972 Z" fill="#9c8f6e" stroke="#5e574a" stroke-width="1"/>
  <!-- stem -->
  <path d="M795,783 C797,840 788,880 758,903 C735,918 700,922 664,916 C640,912 618,900 600,875 C585,852 573,830 567,802 L619,798 C624,825 640,850 660,862 C678,873 700,877 712,870 C728,860 737,840 738,815 L740,783 Z" fill="url(#stemG)" filter="url(#plush)"/>
  <path d="M740,783 L738,815 C737,840 728,860 712,870" fill="none" stroke="#95979c" stroke-width="6" opacity="0.6"/>
  <path d="M619,798 C624,825 640,850 660,862 C678,873 700,877 712,870" fill="none" stroke="#8f9196" stroke-width="5" opacity="0.5"/>
  <!-- platform -->
  <path d="M390,736 L393,722 Q400,716 443,710 L506,703 L600,703 L636,714 L685,728 Q697,734 696,744 L660,772 L624,791 Q612,801 600,802 L564,803.5 L467,796 L399,791 Q390,788 390,780 Z" fill="url(#platG)" filter="url(#plush)"/>
  <path d="M393,722 Q400,716 443,710 L506,703 L600,703 L636,714 L685,728 Q697,734 696,744" fill="none" stroke="#eceae4" stroke-width="2" opacity="0.8"/>
  <path d="M399,791 L467,796 L564,803.5 L600,802 Q612,801 624,791 L660,772 L696,744" fill="none" stroke="#8e9095" stroke-width="4" opacity="0.7"/>
  <ellipse cx="586" cy="747" rx="8" ry="3" fill="#5c5d62"/>
  <!-- left toy -->
  <path d="M402.4,791 L402.5,838" stroke="#2b2b2b" stroke-width="1.3" fill="none"/>
  <g fill="#1d1e21">
    <circle cx="392" cy="846" r="11"/><circle cx="411" cy="845" r="11"/>
    <circle cx="420" cy="865" r="10.5"/><circle cx="403" cy="879" r="10"/><circle cx="387" cy="865" r="10.5"/>
  </g>
  <ellipse cx="401" cy="862" rx="19" ry="19.5" fill="#a6a9b1" filter="url(#plush)"/>
  <circle cx="408" cy="839.5" r="4" fill="#c9a43a"/>
</g>


<!-- plain arrows -->
<g fill="#505c61" stroke="none">
  <rect x="998.8" y="292" width="2.6" height="980"/>
  <path d="M1000,281 L1008,297 L992,297 Z"/>
  <path d="M1000,1285 L1008,1269 L992,1269 Z"/>
  <rect x="333.8" y="800" width="2.6" height="480"/>
  <path d="M335,786 L343,802 L327,802 Z"/>
  <path d="M335,1292 L343,1276 L327,1276 Z"/>
  <path d="M432,1318.8 L858,1381.2" stroke="#505c61" stroke-width="2.6"/>
  <path d="M420,1317 L436.5,1311 L434.3,1326 Z"/>
  <path d="M871,1383 L854.7,1389 L856.9,1374 Z"/>
</g>

<!-- white-outlined arrows -->
<g id="wa" stroke-linejoin="round" stroke-linecap="round">
  <g stroke="#fff" fill="#fff">
    <path d="M560,276.8 L981,276.2" stroke-width="11" fill="none"/>
    <path d="M552.5,277 L568,269.3 L568,284.7 Z" stroke-width="8"/>
    <path d="M989,276.2 L973.5,268.5 L973.5,284 Z" stroke-width="8"/>
    <path d="M400,732 L686,741" stroke-width="11" fill="none"/>
    <path d="M392.7,731.8 L407.9,724.5 L407.4,739.3 Z" stroke-width="8"/>
    <path d="M693,741.3 L677.8,733.5 L677.4,748.5 Z" stroke-width="8"/>
    <path d="M609,1040 L609,1216" stroke-width="10" fill="none"/>
    <path d="M609,1031 L616.6,1046 L601.4,1046 Z" stroke-width="8"/>
    <path d="M609,1225 L616.6,1209.5 L601.4,1209.5 Z" stroke-width="8"/>
    <path d="M825,962 L825,1246" stroke-width="10" fill="none"/>
    <path d="M825,953.7 L833,968.4 L817,968.4 Z" stroke-width="8"/>
    <path d="M825,1254.7 L833,1239 L817,1239 Z" stroke-width="8"/>
  </g>
  <g fill="#4f5b60" stroke="none">
    <path d="M565,275.6 L976,275 L976,277.5 L565,278.1 Z"/>
    <path d="M552.5,277 L568,269.3 L568,284.7 Z"/>
    <path d="M989,276.2 L973.5,268.5 L973.5,284 Z"/>
    <path d="M405,731.2 L681,739.8 L681,742.3 L405,733.7 Z"/>
    <path d="M392.7,731.8 L407.9,724.5 L407.4,739.3 Z"/>
    <path d="M693,741.3 L677.8,733.5 L677.4,748.5 Z"/>
    <rect x="608" y="1044" width="2.4" height="168"/>
    <path d="M609,1031 L616.6,1046 L601.4,1046 Z"/>
    <path d="M609,1225 L616.6,1209.5 L601.4,1209.5 Z"/>
    <rect x="823.8" y="966" width="2.4" height="276"/>
    <path d="M825,953.7 L833,968.4 L817,968.4 Z"/>
    <path d="M825,1254.7 L833,1239 L817,1239 Z"/>
  </g>
</g>

<!-- weights -->
<g fill="#7096a9">
  <use href="#wshape" x="833.8" y="218"/>
  <use href="#wshape" x="551.8" y="638.5"/>
  <use href="#wshape" x="714" y="879"/>
</g>
<text class="wt" transform="translate(794.79,277.6) scale(0.639,1)">1</text>
<text class="wt" transform="translate(812.83,277.6) scale(0.782,1)">7</text>
<text class="wt" transform="translate(830.10,277.6) scale(1.000,1)">l</text>
<text class="wt" transform="translate(838.82,277.6) scale(0.776,1)">b</text>
<text class="wt" transform="translate(855.10,277.6) scale(0.747,1)">s</text>
<text class="wt" transform="translate(514.29,699.3) scale(0.639,1)">1</text>
<text class="wt" transform="translate(532.19,699.3) scale(0.639,1)">1</text>
<text class="wt" transform="translate(548.90,699.3) scale(1.000,1)">l</text>
<text class="wt" transform="translate(558.03,699.3) scale(0.770,1)">b</text>
<text class="wt" transform="translate(573.78,699.3) scale(0.764,1)">s</text>
<text class="wt" transform="translate(675.57,936.8) scale(0.856,1)">2</text>
<text class="wt" transform="translate(692.97,936.8) scale(0.862,1)">2</text>
<text class="wt" transform="translate(710.90,936.8) scale(1.000,1)">l</text>
<text class="wt" transform="translate(719.46,936.8) scale(0.842,1)">b</text>
<text class="wt" transform="translate(736.74,936.8) scale(0.713,1)">s</text>

<!-- dimension labels -->
<text class="dim" x="441" y="290">18”</text>
<text class="dim" x="341" y="708">14”</text>
<text class="dim" x="1034" y="770" style="stroke:#d3dee3">42”</text>
<text class="dim" x="224" y="1031">21.5”</text>
<text class="dim" x="863" y="1094">13.5”</text>
<text class="dim" x="582" y="1393">19.5”</text>
<text class="dim" x="577" y="1017" style="font-size:38px;stroke:#fff;stroke-width:8px;stroke-linejoin:round;fill:#fff">9”</text>
<text class="dim" x="577" y="1017" style="font-size:38px;stroke:none;fill:#4a5458">9”</text>
</svg>
</body></html>
